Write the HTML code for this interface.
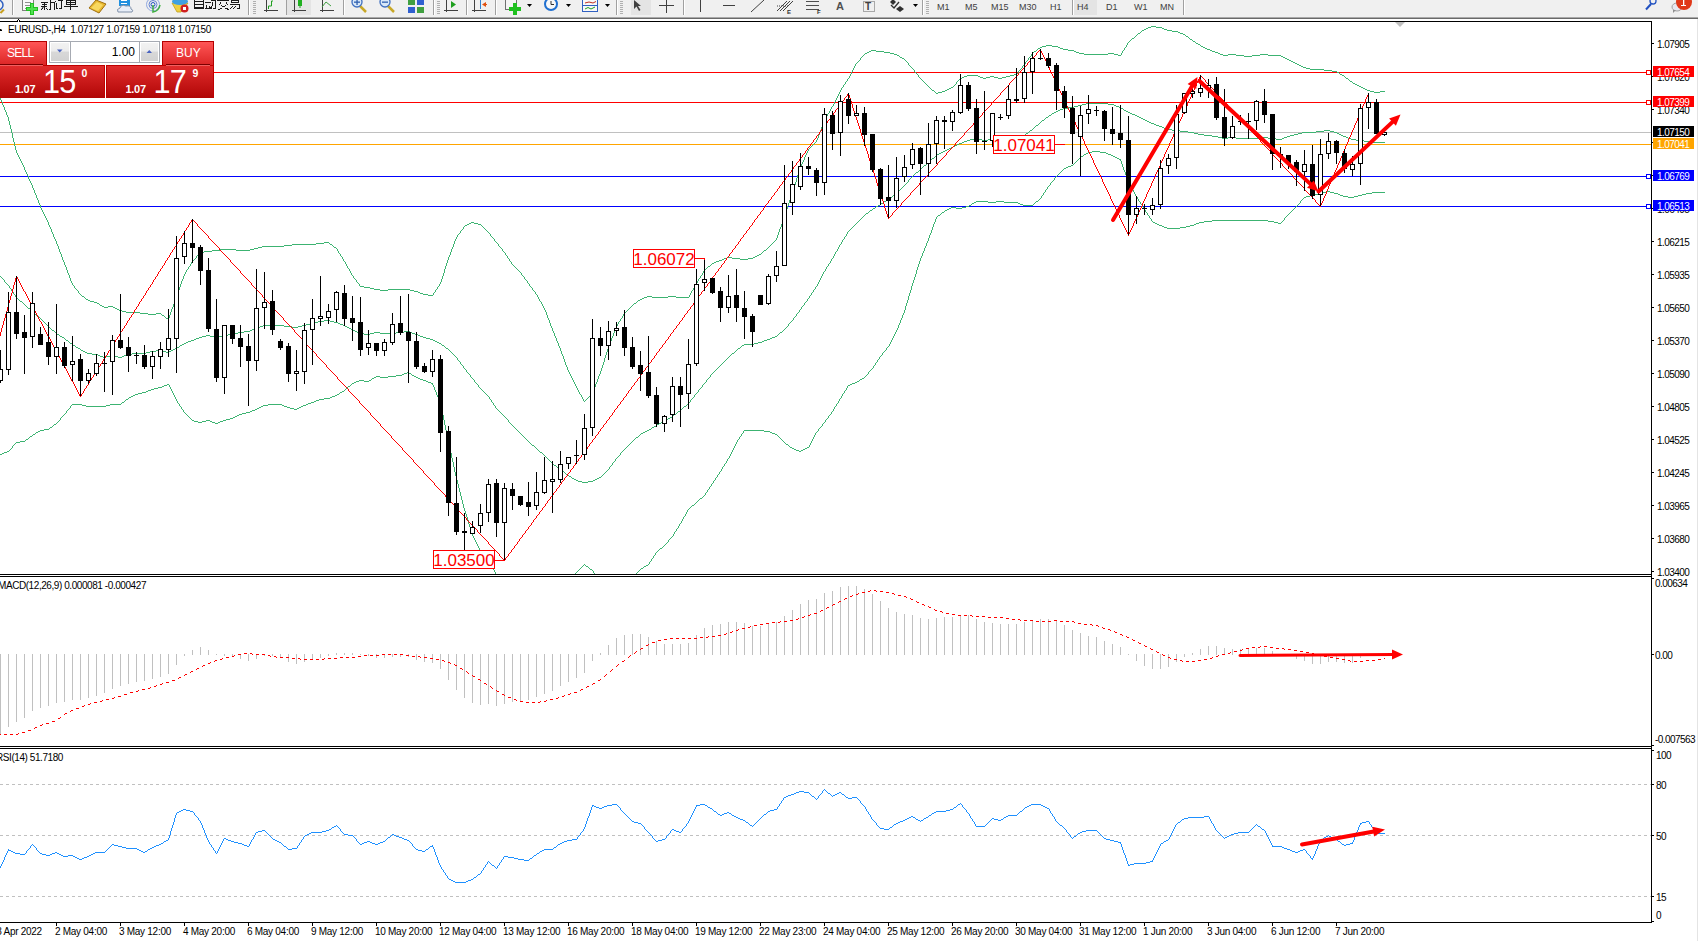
<!DOCTYPE html>
<html><head><meta charset="utf-8"><style>
html,body{margin:0;padding:0;background:#fff;}
body{width:1698px;height:941px;overflow:hidden;position:relative;font-family:"Liberation Sans",sans-serif;}
svg{position:absolute;left:0;top:0;display:block;}
</style></head><body>
<svg width="1698" height="941" viewBox="0 0 1698 941">
<rect x="0" y="0" width="1698" height="941" fill="#ffffff"/>
<rect x="0" y="0" width="1698" height="17" fill="#f0f0f0"/>
<rect x="0" y="17" width="1698" height="1" fill="#a9a9a9"/>
<rect x="0" y="18" width="1698" height="1" fill="#696969"/>
<rect x="1697" y="19" width="1" height="922" fill="#e4e4e4"/>
<defs><clipPath id="cm"><rect x="0" y="22" width="1651" height="552"/></clipPath><clipPath id="cd"><rect x="0" y="577" width="1651" height="169"/></clipPath><clipPath id="cr"><rect x="0" y="749" width="1651" height="173"/></clipPath></defs>
<g clip-path="url(#cm)"><rect x="0" y="72" width="1651" height="1" fill="#ff0000"/><rect x="0" y="102" width="1651" height="1" fill="#ff0000"/><rect x="0" y="132" width="1651" height="1" fill="#c0c0c0"/><rect x="0" y="144" width="1651" height="1" fill="#ffa500"/><rect x="0" y="176" width="1651" height="1" fill="#0000ff"/><rect x="0" y="206" width="1651" height="1" fill="#0000ff"/><path fill="#3cb371" shape-rendering="crispEdges" d="M0 98h1v1h-1zM836 98h1v1h-1zM0 99h1v1h-1zM836 99h1v1h-1zM1 100h1v1h-1zM835 100h1v1h-1zM1 101h1v1h-1zM835 101h1v1h-1zM2 102h1v1h-1zM834 102h1v1h-1zM2 103h1v1h-1zM834 103h1v1h-1zM2 104h1v1h-1zM833 104h1v1h-1zM3 105h1v1h-1zM833 105h1v1h-1zM3 106h1v1h-1zM832 106h1v1h-1zM4 107h1v1h-1zM831 107h1v1h-1zM4 108h1v1h-1zM831 108h1v1h-1zM4 109h1v1h-1zM830 109h1v1h-1zM5 110h1v1h-1zM830 110h1v1h-1zM5 111h1v1h-1zM829 111h1v1h-1zM6 112h1v1h-1zM829 112h1v1h-1zM6 113h1v1h-1zM828 113h1v1h-1zM6 114h1v1h-1zM827 114h1v1h-1zM7 115h1v1h-1zM827 115h1v1h-1zM7 116h1v1h-1zM826 116h1v1h-1zM8 117h1v1h-1zM826 117h1v1h-1zM8 118h1v1h-1zM825 118h1v1h-1zM8 119h1v1h-1zM825 119h1v1h-1zM8 120h1v1h-1zM824 120h1v1h-1zM9 121h1v1h-1zM824 121h1v1h-1zM9 122h1v1h-1zM823 122h1v1h-1zM9 123h1v1h-1zM823 123h1v1h-1zM9 124h1v1h-1zM822 124h1v1h-1zM10 125h1v1h-1zM822 125h1v1h-1zM10 126h1v1h-1zM822 126h1v1h-1zM10 127h1v1h-1zM821 127h1v1h-1zM10 128h1v1h-1zM821 128h1v1h-1zM11 129h1v1h-1zM821 129h1v1h-1zM11 130h1v1h-1zM820 130h1v1h-1zM11 131h1v1h-1zM820 131h1v1h-1zM11 132h1v1h-1zM819 132h1v1h-1zM12 133h1v1h-1zM819 133h1v1h-1zM12 134h1v1h-1zM819 134h1v1h-1zM12 135h1v1h-1zM818 135h1v1h-1zM12 136h1v1h-1zM818 136h1v1h-1zM12 137h1v1h-1zM818 137h1v1h-1zM13 138h1v1h-1zM817 138h1v1h-1zM13 139h1v1h-1zM817 139h1v1h-1zM13 140h1v1h-1zM816 140h1v1h-1zM13 141h1v1h-1zM816 141h1v1h-1zM14 142h1v1h-1zM815 142h1v1h-1zM14 143h1v1h-1zM814 143h1v1h-1zM14 144h1v1h-1zM813 144h1v1h-1zM14 145h1v1h-1zM812 145h1v1h-1zM15 146h1v1h-1zM811 146h1v1h-1zM15 147h1v1h-1zM810 147h1v1h-1zM15 148h1v1h-1zM809 148h1v1h-1zM15 149h1v1h-1zM808 149h1v1h-1zM16 150h1v1h-1zM808 150h1v1h-1zM16 151h1v1h-1zM807 151h1v1h-1zM16 152h1v1h-1zM807 152h1v1h-1zM17 153h1v1h-1zM806 153h1v1h-1zM17 154h1v1h-1zM806 154h1v1h-1zM18 155h1v1h-1zM805 155h1v1h-1zM18 156h1v1h-1zM805 156h1v1h-1zM19 157h1v1h-1zM804 157h1v1h-1zM19 158h1v1h-1zM804 158h1v1h-1zM20 159h1v1h-1zM804 159h1v1h-1zM20 160h1v1h-1zM803 160h1v1h-1zM21 161h1v1h-1zM803 161h1v1h-1zM21 162h1v1h-1zM802 162h1v1h-1zM22 163h1v1h-1zM802 163h1v1h-1zM22 164h1v1h-1zM801 164h1v1h-1zM23 165h1v1h-1zM801 165h1v1h-1zM23 166h1v1h-1zM800 166h1v1h-1zM24 167h1v1h-1zM800 167h1v1h-1zM24 168h1v1h-1zM800 168h1v1h-1zM24 169h1v1h-1zM799 169h1v1h-1zM25 170h1v1h-1zM799 170h1v1h-1zM25 171h1v1h-1zM799 171h1v1h-1zM26 172h1v1h-1zM798 172h1v1h-1zM26 173h1v1h-1zM798 173h1v1h-1zM27 174h1v1h-1zM798 174h1v1h-1zM27 175h1v1h-1zM797 175h1v1h-1zM28 176h1v1h-1zM797 176h1v1h-1zM28 177h1v1h-1zM797 177h1v1h-1zM28 178h1v1h-1zM796 178h1v1h-1zM29 179h1v1h-1zM796 179h1v1h-1zM29 180h1v1h-1zM796 180h1v1h-1zM30 181h1v1h-1zM796 181h1v1h-1zM30 182h1v1h-1zM795 182h1v1h-1zM31 183h1v1h-1zM795 183h1v1h-1zM31 184h1v1h-1zM795 184h1v1h-1zM32 185h1v1h-1zM794 185h1v1h-1zM32 186h1v1h-1zM794 186h1v1h-1zM32 187h1v1h-1zM794 187h1v1h-1zM33 188h1v1h-1zM793 188h1v1h-1zM33 189h1v1h-1zM793 189h1v1h-1zM34 190h1v1h-1zM793 190h1v1h-1zM34 191h1v1h-1zM792 191h1v1h-1zM34 192h1v1h-1zM792 192h1v1h-1zM35 193h1v1h-1zM792 193h1v1h-1zM35 194h1v1h-1zM791 194h1v1h-1zM36 195h1v1h-1zM791 195h1v1h-1zM36 196h1v1h-1zM791 196h1v1h-1zM36 197h1v1h-1zM790 197h1v1h-1zM37 198h1v1h-1zM790 198h1v1h-1zM37 199h1v1h-1zM790 199h1v1h-1zM38 200h1v1h-1zM789 200h1v1h-1zM38 201h1v1h-1zM789 201h1v1h-1zM38 202h1v1h-1zM789 202h1v1h-1zM39 203h1v1h-1zM788 203h1v1h-1zM39 204h1v1h-1zM788 204h1v1h-1zM40 205h1v1h-1zM788 205h1v1h-1zM40 206h1v1h-1zM787 206h1v1h-1zM40 207h1v1h-1zM787 207h1v1h-1zM41 208h1v1h-1zM787 208h1v1h-1zM41 209h1v1h-1zM786 209h1v1h-1zM42 210h1v1h-1zM786 210h1v1h-1zM42 211h1v1h-1zM786 211h1v1h-1zM43 212h1v1h-1zM785 212h1v1h-1zM43 213h1v1h-1zM785 213h1v1h-1zM44 214h1v1h-1zM785 214h1v1h-1zM44 215h1v1h-1zM784 215h1v1h-1zM45 216h1v1h-1zM784 216h1v1h-1zM45 217h1v1h-1zM784 217h1v1h-1zM46 218h1v1h-1zM783 218h1v1h-1zM46 219h1v1h-1zM783 219h1v1h-1zM47 220h1v1h-1zM783 220h1v1h-1zM47 221h1v1h-1zM782 221h1v1h-1zM48 222h1v1h-1zM471 222h3v1h-3zM782 222h1v1h-1zM48 223h1v1h-1zM469 223h2v1h-2zM474 223h4v1h-4zM782 223h1v1h-1zM48 224h1v1h-1zM467 224h2v1h-2zM478 224h3v1h-3zM781 224h1v1h-1zM49 225h1v1h-1zM465 225h2v1h-2zM481 225h1v1h-1zM781 225h1v1h-1zM49 226h1v1h-1zM464 226h1v1h-1zM482 226h1v1h-1zM781 226h1v1h-1zM50 227h1v1h-1zM463 227h1v1h-1zM483 227h1v1h-1zM780 227h1v1h-1zM50 228h1v1h-1zM463 228h1v1h-1zM484 228h1v1h-1zM780 228h1v1h-1zM51 229h1v1h-1zM462 229h1v1h-1zM485 229h1v1h-1zM779 229h1v1h-1zM51 230h1v1h-1zM461 230h1v1h-1zM486 230h1v1h-1zM779 230h1v1h-1zM51 231h1v1h-1zM460 231h1v1h-1zM487 231h1v1h-1zM779 231h1v1h-1zM52 232h1v1h-1zM460 232h1v1h-1zM488 232h1v1h-1zM778 232h1v1h-1zM52 233h1v1h-1zM459 233h1v1h-1zM489 233h1v1h-1zM778 233h1v1h-1zM53 234h1v1h-1zM458 234h1v1h-1zM490 234h1v1h-1zM778 234h1v1h-1zM53 235h1v1h-1zM457 235h1v1h-1zM490 235h1v1h-1zM777 235h1v1h-1zM53 236h1v1h-1zM457 236h1v1h-1zM491 236h1v1h-1zM777 236h1v1h-1zM54 237h1v1h-1zM456 237h1v1h-1zM492 237h1v1h-1zM777 237h1v1h-1zM54 238h1v1h-1zM456 238h1v1h-1zM493 238h1v1h-1zM776 238h1v1h-1zM55 239h1v1h-1zM455 239h1v1h-1zM494 239h1v1h-1zM776 239h1v1h-1zM55 240h1v1h-1zM455 240h1v1h-1zM494 240h1v1h-1zM775 240h1v1h-1zM56 241h1v1h-1zM454 241h1v1h-1zM495 241h1v1h-1zM774 241h1v1h-1zM56 242h1v1h-1zM324 242h5v1h-5zM454 242h1v1h-1zM496 242h1v1h-1zM773 242h1v1h-1zM56 243h1v1h-1zM316 243h8v1h-8zM329 243h1v1h-1zM454 243h1v1h-1zM497 243h1v1h-1zM772 243h1v1h-1zM57 244h1v1h-1zM292 244h24v1h-24zM330 244h2v1h-2zM453 244h1v1h-1zM498 244h1v1h-1zM771 244h1v1h-1zM57 245h1v1h-1zM284 245h8v1h-8zM332 245h1v1h-1zM453 245h1v1h-1zM498 245h1v1h-1zM770 245h1v1h-1zM58 246h1v1h-1zM262 246h22v1h-22zM333 246h1v1h-1zM453 246h1v1h-1zM499 246h1v1h-1zM769 246h1v1h-1zM58 247h1v1h-1zM258 247h4v1h-4zM334 247h2v1h-2zM452 247h1v1h-1zM500 247h1v1h-1zM768 247h1v1h-1zM58 248h1v1h-1zM254 248h4v1h-4zM336 248h1v1h-1zM452 248h1v1h-1zM501 248h1v1h-1zM767 248h1v1h-1zM59 249h1v1h-1zM220 249h16v1h-16zM250 249h4v1h-4zM337 249h1v1h-1zM451 249h1v1h-1zM502 249h1v1h-1zM766 249h1v1h-1zM59 250h1v1h-1zM212 250h8v1h-8zM236 250h14v1h-14zM337 250h1v1h-1zM451 250h1v1h-1zM502 250h1v1h-1zM764 250h2v1h-2zM59 251h1v1h-1zM204 251h8v1h-8zM338 251h1v1h-1zM451 251h1v1h-1zM503 251h1v1h-1zM763 251h1v1h-1zM60 252h1v1h-1zM200 252h4v1h-4zM338 252h1v1h-1zM450 252h1v1h-1zM504 252h1v1h-1zM762 252h1v1h-1zM60 253h1v1h-1zM199 253h1v1h-1zM339 253h1v1h-1zM450 253h1v1h-1zM505 253h1v1h-1zM761 253h1v1h-1zM61 254h1v1h-1zM198 254h1v1h-1zM340 254h1v1h-1zM450 254h1v1h-1zM505 254h1v1h-1zM759 254h2v1h-2zM61 255h1v1h-1zM197 255h1v1h-1zM340 255h1v1h-1zM449 255h1v1h-1zM506 255h1v1h-1zM757 255h2v1h-2zM61 256h1v1h-1zM196 256h1v1h-1zM341 256h1v1h-1zM449 256h1v1h-1zM507 256h1v1h-1zM755 256h2v1h-2zM62 257h1v1h-1zM196 257h1v1h-1zM342 257h1v1h-1zM448 257h1v1h-1zM507 257h1v1h-1zM727 257h5v1h-5zM753 257h2v1h-2zM62 258h1v1h-1zM195 258h1v1h-1zM342 258h1v1h-1zM448 258h1v1h-1zM508 258h1v1h-1zM724 258h3v1h-3zM732 258h8v1h-8zM748 258h5v1h-5zM62 259h1v1h-1zM194 259h1v1h-1zM343 259h1v1h-1zM448 259h1v1h-1zM509 259h1v1h-1zM722 259h2v1h-2zM740 259h8v1h-8zM63 260h1v1h-1zM193 260h1v1h-1zM343 260h1v1h-1zM447 260h1v1h-1zM509 260h1v1h-1zM719 260h3v1h-3zM63 261h1v1h-1zM192 261h1v1h-1zM344 261h1v1h-1zM447 261h1v1h-1zM510 261h1v1h-1zM716 261h3v1h-3zM64 262h1v1h-1zM191 262h1v1h-1zM345 262h1v1h-1zM447 262h1v1h-1zM511 262h1v1h-1zM714 262h2v1h-2zM64 263h1v1h-1zM191 263h1v1h-1zM345 263h1v1h-1zM446 263h1v1h-1zM511 263h1v1h-1zM712 263h2v1h-2zM64 264h1v1h-1zM190 264h1v1h-1zM346 264h1v1h-1zM446 264h1v1h-1zM512 264h1v1h-1zM711 264h1v1h-1zM65 265h1v1h-1zM190 265h1v1h-1zM346 265h1v1h-1zM446 265h1v1h-1zM513 265h1v1h-1zM710 265h1v1h-1zM65 266h1v1h-1zM189 266h1v1h-1zM347 266h1v1h-1zM445 266h1v1h-1zM514 266h1v1h-1zM708 266h2v1h-2zM66 267h1v1h-1zM188 267h1v1h-1zM347 267h1v1h-1zM445 267h1v1h-1zM515 267h1v1h-1zM707 267h1v1h-1zM66 268h1v1h-1zM188 268h1v1h-1zM348 268h1v1h-1zM445 268h1v1h-1zM516 268h1v1h-1zM706 268h1v1h-1zM66 269h1v1h-1zM187 269h1v1h-1zM349 269h1v1h-1zM444 269h1v1h-1zM517 269h1v1h-1zM705 269h1v1h-1zM67 270h1v1h-1zM186 270h1v1h-1zM349 270h1v1h-1zM444 270h1v1h-1zM518 270h1v1h-1zM704 270h1v1h-1zM67 271h1v1h-1zM186 271h1v1h-1zM350 271h1v1h-1zM444 271h1v1h-1zM519 271h1v1h-1zM703 271h1v1h-1zM67 272h1v1h-1zM185 272h1v1h-1zM350 272h1v1h-1zM444 272h1v1h-1zM520 272h1v1h-1zM703 272h1v1h-1zM68 273h1v1h-1zM185 273h1v1h-1zM351 273h1v1h-1zM443 273h1v1h-1zM521 273h1v1h-1zM702 273h1v1h-1zM68 274h1v1h-1zM184 274h1v1h-1zM351 274h1v1h-1zM443 274h1v1h-1zM521 274h1v1h-1zM702 274h1v1h-1zM69 275h1v1h-1zM184 275h1v1h-1zM352 275h1v1h-1zM443 275h1v1h-1zM522 275h1v1h-1zM701 275h1v1h-1zM69 276h1v1h-1zM183 276h1v1h-1zM353 276h1v1h-1zM442 276h1v1h-1zM523 276h1v1h-1zM700 276h1v1h-1zM69 277h1v1h-1zM183 277h1v1h-1zM353 277h1v1h-1zM442 277h1v1h-1zM524 277h1v1h-1zM700 277h1v1h-1zM70 278h1v1h-1zM183 278h1v1h-1zM354 278h1v1h-1zM442 278h1v1h-1zM524 278h1v1h-1zM699 278h1v1h-1zM70 279h1v1h-1zM182 279h1v1h-1zM355 279h1v1h-1zM441 279h1v1h-1zM525 279h1v1h-1zM698 279h1v1h-1zM70 280h1v1h-1zM182 280h1v1h-1zM356 280h1v1h-1zM441 280h1v1h-1zM526 280h1v1h-1zM698 280h1v1h-1zM71 281h1v1h-1zM181 281h1v1h-1zM356 281h1v1h-1zM441 281h1v1h-1zM527 281h1v1h-1zM697 281h1v1h-1zM71 282h1v1h-1zM181 282h1v1h-1zM357 282h1v1h-1zM440 282h1v1h-1zM527 282h1v1h-1zM697 282h1v1h-1zM72 283h1v1h-1zM181 283h1v1h-1zM358 283h1v1h-1zM440 283h1v1h-1zM528 283h1v1h-1zM696 283h1v1h-1zM72 284h1v1h-1zM180 284h1v1h-1zM359 284h1v1h-1zM439 284h1v1h-1zM529 284h1v1h-1zM695 284h1v1h-1zM73 285h1v1h-1zM180 285h1v1h-1zM359 285h1v1h-1zM439 285h1v1h-1zM529 285h1v1h-1zM695 285h1v1h-1zM74 286h1v1h-1zM180 286h1v1h-1zM360 286h4v1h-4zM438 286h1v1h-1zM530 286h1v1h-1zM694 286h1v1h-1zM74 287h1v1h-1zM179 287h1v1h-1zM364 287h6v1h-6zM437 287h1v1h-1zM531 287h1v1h-1zM694 287h1v1h-1zM75 288h1v1h-1zM179 288h1v1h-1zM370 288h4v1h-4zM437 288h1v1h-1zM532 288h1v1h-1zM693 288h1v1h-1zM76 289h1v1h-1zM179 289h1v1h-1zM374 289h6v1h-6zM388 289h22v1h-22zM436 289h1v1h-1zM532 289h1v1h-1zM693 289h1v1h-1zM77 290h1v1h-1zM178 290h1v1h-1zM380 290h8v1h-8zM410 290h4v1h-4zM435 290h1v1h-1zM533 290h1v1h-1zM692 290h1v1h-1zM78 291h1v1h-1zM178 291h1v1h-1zM414 291h4v1h-4zM435 291h1v1h-1zM534 291h1v1h-1zM691 291h1v1h-1zM78 292h1v1h-1zM177 292h1v1h-1zM418 292h2v1h-2zM434 292h1v1h-1zM535 292h1v1h-1zM691 292h1v1h-1zM79 293h1v1h-1zM177 293h1v1h-1zM420 293h3v1h-3zM433 293h1v1h-1zM535 293h1v1h-1zM690 293h1v1h-1zM80 294h1v1h-1zM177 294h1v1h-1zM423 294h5v1h-5zM433 294h1v1h-1zM536 294h1v1h-1zM690 294h1v1h-1zM81 295h1v1h-1zM176 295h1v1h-1zM428 295h5v1h-5zM537 295h1v1h-1zM689 295h1v1h-1zM82 296h2v1h-2zM176 296h1v1h-1zM537 296h1v1h-1zM647 296h5v1h-5zM668 296h8v1h-8zM689 296h1v1h-1zM84 297h1v1h-1zM176 297h1v1h-1zM538 297h1v1h-1zM644 297h3v1h-3zM652 297h16v1h-16zM676 297h13v1h-13zM85 298h1v1h-1zM175 298h1v1h-1zM538 298h1v1h-1zM642 298h2v1h-2zM86 299h2v1h-2zM175 299h1v1h-1zM539 299h1v1h-1zM640 299h2v1h-2zM88 300h2v1h-2zM175 300h1v1h-1zM539 300h1v1h-1zM638 300h2v1h-2zM90 301h4v1h-4zM174 301h1v1h-1zM540 301h1v1h-1zM637 301h1v1h-1zM94 302h3v1h-3zM174 302h1v1h-1zM541 302h1v1h-1zM636 302h1v1h-1zM97 303h2v1h-2zM174 303h1v1h-1zM541 303h1v1h-1zM634 303h2v1h-2zM99 304h1v1h-1zM173 304h1v1h-1zM542 304h1v1h-1zM633 304h1v1h-1zM100 305h2v1h-2zM173 305h1v1h-1zM542 305h1v1h-1zM632 305h1v1h-1zM102 306h2v1h-2zM108 306h5v1h-5zM173 306h1v1h-1zM543 306h1v1h-1zM631 306h1v1h-1zM104 307h4v1h-4zM113 307h2v1h-2zM172 307h1v1h-1zM543 307h1v1h-1zM630 307h1v1h-1zM115 308h2v1h-2zM172 308h1v1h-1zM544 308h1v1h-1zM629 308h1v1h-1zM117 309h2v1h-2zM171 309h1v1h-1zM544 309h1v1h-1zM628 309h1v1h-1zM119 310h3v1h-3zM171 310h1v1h-1zM545 310h1v1h-1zM627 310h1v1h-1zM122 311h4v1h-4zM171 311h1v1h-1zM545 311h1v1h-1zM626 311h1v1h-1zM126 312h14v1h-14zM170 312h1v1h-1zM546 312h1v1h-1zM625 312h1v1h-1zM140 313h8v1h-8zM156 313h5v1h-5zM170 313h1v1h-1zM546 313h1v1h-1zM624 313h1v1h-1zM148 314h8v1h-8zM161 314h1v1h-1zM170 314h1v1h-1zM546 314h1v1h-1zM623 314h1v1h-1zM162 315h2v1h-2zM169 315h1v1h-1zM547 315h1v1h-1zM623 315h1v1h-1zM164 316h1v1h-1zM169 316h1v1h-1zM547 316h1v1h-1zM622 316h1v1h-1zM165 317h1v1h-1zM169 317h1v1h-1zM547 317h1v1h-1zM622 317h1v1h-1zM166 318h3v1h-3zM548 318h1v1h-1zM621 318h1v1h-1zM168 319h1v1h-1zM548 319h1v1h-1zM620 319h1v1h-1zM549 320h1v1h-1zM620 320h1v1h-1zM549 321h1v1h-1zM619 321h1v1h-1zM549 322h1v1h-1zM618 322h1v1h-1zM550 323h1v1h-1zM618 323h1v1h-1zM550 324h1v1h-1zM617 324h1v1h-1zM550 325h1v1h-1zM617 325h1v1h-1zM551 326h1v1h-1zM616 326h1v1h-1zM551 327h1v1h-1zM616 327h1v1h-1zM552 328h1v1h-1zM615 328h1v1h-1zM552 329h1v1h-1zM615 329h1v1h-1zM552 330h1v1h-1zM614 330h1v1h-1zM553 331h1v1h-1zM614 331h1v1h-1zM553 332h1v1h-1zM614 332h1v1h-1zM554 333h1v1h-1zM613 333h1v1h-1zM554 334h1v1h-1zM613 334h1v1h-1zM554 335h1v1h-1zM613 335h1v1h-1zM555 336h1v1h-1zM612 336h1v1h-1zM555 337h1v1h-1zM612 337h1v1h-1zM556 338h1v1h-1zM611 338h1v1h-1zM556 339h1v1h-1zM611 339h1v1h-1zM556 340h1v1h-1zM611 340h1v1h-1zM557 341h1v1h-1zM610 341h1v1h-1zM557 342h1v1h-1zM610 342h1v1h-1zM558 343h1v1h-1zM610 343h1v1h-1zM558 344h1v1h-1zM609 344h1v1h-1zM558 345h1v1h-1zM609 345h1v1h-1zM559 346h1v1h-1zM608 346h1v1h-1zM559 347h1v1h-1zM608 347h1v1h-1zM560 348h1v1h-1zM608 348h1v1h-1zM560 349h1v1h-1zM607 349h1v1h-1zM560 350h1v1h-1zM607 350h1v1h-1zM561 351h1v1h-1zM607 351h1v1h-1zM561 352h1v1h-1zM606 352h1v1h-1zM561 353h1v1h-1zM606 353h1v1h-1zM562 354h1v1h-1zM606 354h1v1h-1zM562 355h1v1h-1zM605 355h1v1h-1zM563 356h1v1h-1zM605 356h1v1h-1zM563 357h1v1h-1zM605 357h1v1h-1zM563 358h1v1h-1zM604 358h1v1h-1zM564 359h1v1h-1zM604 359h1v1h-1zM564 360h1v1h-1zM604 360h1v1h-1zM564 361h1v1h-1zM604 361h1v1h-1zM565 362h1v1h-1zM603 362h1v1h-1zM565 363h1v1h-1zM603 363h1v1h-1zM565 364h1v1h-1zM603 364h1v1h-1zM566 365h1v1h-1zM602 365h1v1h-1zM566 366h1v1h-1zM602 366h1v1h-1zM567 367h1v1h-1zM602 367h1v1h-1zM567 368h1v1h-1zM601 368h1v1h-1zM567 369h1v1h-1zM601 369h1v1h-1zM568 370h1v1h-1zM601 370h1v1h-1zM568 371h1v1h-1zM600 371h1v1h-1zM569 372h1v1h-1zM600 372h1v1h-1zM569 373h1v1h-1zM600 373h1v1h-1zM570 374h1v1h-1zM599 374h1v1h-1zM570 375h1v1h-1zM599 375h1v1h-1zM571 376h1v1h-1zM598 376h1v1h-1zM571 377h1v1h-1zM598 377h1v1h-1zM572 378h1v1h-1zM598 378h1v1h-1zM572 379h1v1h-1zM597 379h1v1h-1zM573 380h1v1h-1zM597 380h1v1h-1zM573 381h1v1h-1zM597 381h1v1h-1zM574 382h1v1h-1zM596 382h1v1h-1zM574 383h1v1h-1zM596 383h1v1h-1zM575 384h1v1h-1zM595 384h1v1h-1zM575 385h1v1h-1zM595 385h1v1h-1zM576 386h1v1h-1zM595 386h1v1h-1zM576 387h1v1h-1zM594 387h1v1h-1zM577 388h1v1h-1zM594 388h1v1h-1zM577 389h1v1h-1zM594 389h1v1h-1zM578 390h1v1h-1zM593 390h1v1h-1zM578 391h1v1h-1zM593 391h1v1h-1zM579 392h1v1h-1zM592 392h1v1h-1zM579 393h1v1h-1zM592 393h1v1h-1zM580 394h1v1h-1zM591 394h1v1h-1zM581 395h1v1h-1zM590 395h1v1h-1zM581 396h1v1h-1zM589 396h1v1h-1zM582 397h1v1h-1zM588 397h1v1h-1zM582 398h1v1h-1zM587 398h1v1h-1zM583 399h1v1h-1zM586 399h1v1h-1zM583 400h1v1h-1zM585 400h1v1h-1zM584 401h1v1h-1zM837 97h1v1h-1zM837 96h1v1h-1zM838 95h1v1h-1zM838 94h1v1h-1zM839 93h1v1h-1zM936 93h2v1h-2zM839 92h1v1h-1zM935 92h1v1h-1zM938 92h4v1h-4zM1374 92h6v1h-6zM840 91h1v1h-1zM934 91h1v1h-1zM942 91h3v1h-3zM1370 91h4v1h-4zM1380 91h5v1h-5zM840 90h1v1h-1zM932 90h2v1h-2zM945 90h2v1h-2zM1367 90h3v1h-3zM841 89h1v1h-1zM931 89h1v1h-1zM947 89h2v1h-2zM1365 89h2v1h-2zM841 88h1v1h-1zM930 88h1v1h-1zM949 88h2v1h-2zM1363 88h2v1h-2zM842 87h1v1h-1zM929 87h1v1h-1zM951 87h2v1h-2zM1361 87h2v1h-2zM843 86h1v1h-1zM928 86h1v1h-1zM953 86h1v1h-1zM1359 86h2v1h-2zM843 85h1v1h-1zM927 85h1v1h-1zM954 85h1v1h-1zM1357 85h2v1h-2zM844 84h1v1h-1zM926 84h1v1h-1zM955 84h1v1h-1zM1355 84h2v1h-2zM845 83h1v1h-1zM925 83h1v1h-1zM956 83h1v1h-1zM1353 83h2v1h-2zM845 82h1v1h-1zM924 82h1v1h-1zM956 82h1v1h-1zM1352 82h1v1h-1zM846 81h1v1h-1zM923 81h1v1h-1zM957 81h1v1h-1zM1350 81h2v1h-2zM847 80h1v1h-1zM922 80h1v1h-1zM958 80h1v1h-1zM1349 80h1v1h-1zM847 79h1v1h-1zM921 79h1v1h-1zM959 79h1v1h-1zM1348 79h1v1h-1zM848 78h1v1h-1zM920 78h1v1h-1zM960 78h2v1h-2zM983 78h3v1h-3zM998 78h4v1h-4zM1346 78h2v1h-2zM849 77h1v1h-1zM919 77h1v1h-1zM962 77h2v1h-2zM980 77h3v1h-3zM986 77h4v1h-4zM994 77h4v1h-4zM1002 77h4v1h-4zM1345 77h1v1h-1zM849 76h1v1h-1zM918 76h1v1h-1zM964 76h3v1h-3zM978 76h2v1h-2zM990 76h4v1h-4zM1006 76h4v1h-4zM1344 76h1v1h-1zM850 75h1v1h-1zM918 75h1v1h-1zM967 75h11v1h-11zM1010 75h4v1h-4zM1342 75h2v1h-2zM850 74h1v1h-1zM917 74h1v1h-1zM1014 74h3v1h-3zM1340 74h2v1h-2zM851 73h1v1h-1zM916 73h1v1h-1zM1017 73h1v1h-1zM1339 73h1v1h-1zM851 72h1v1h-1zM915 72h1v1h-1zM1018 72h1v1h-1zM1337 72h2v1h-2zM852 71h1v1h-1zM914 71h1v1h-1zM1018 71h1v1h-1zM1332 71h5v1h-5zM852 70h1v1h-1zM914 70h1v1h-1zM1019 70h1v1h-1zM1324 70h8v1h-8zM853 69h1v1h-1zM913 69h1v1h-1zM1020 69h1v1h-1zM1310 69h14v1h-14zM853 68h1v1h-1zM912 68h1v1h-1zM1021 68h1v1h-1zM1306 68h4v1h-4zM854 67h1v1h-1zM911 67h1v1h-1zM1022 67h1v1h-1zM1303 67h3v1h-3zM854 66h1v1h-1zM910 66h1v1h-1zM1022 66h1v1h-1zM1301 66h2v1h-2zM855 65h1v1h-1zM909 65h1v1h-1zM1023 65h1v1h-1zM1299 65h2v1h-2zM855 64h1v1h-1zM908 64h1v1h-1zM1024 64h1v1h-1zM1297 64h2v1h-2zM856 63h1v1h-1zM908 63h1v1h-1zM1025 63h1v1h-1zM1295 63h2v1h-2zM857 62h1v1h-1zM907 62h1v1h-1zM1025 62h1v1h-1zM1293 62h2v1h-2zM858 61h1v1h-1zM906 61h1v1h-1zM1026 61h1v1h-1zM1291 61h2v1h-2zM859 60h1v1h-1zM905 60h1v1h-1zM1027 60h1v1h-1zM1289 60h2v1h-2zM860 59h1v1h-1zM904 59h1v1h-1zM1028 59h1v1h-1zM1287 59h2v1h-2zM860 58h1v1h-1zM902 58h2v1h-2zM1028 58h1v1h-1zM1285 58h2v1h-2zM861 57h1v1h-1zM900 57h2v1h-2zM1029 57h1v1h-1zM1283 57h2v1h-2zM862 56h1v1h-1zM899 56h1v1h-1zM1030 56h1v1h-1zM1244 56h8v1h-8zM1281 56h2v1h-2zM863 55h1v1h-1zM897 55h2v1h-2zM1031 55h1v1h-1zM1118 55h3v1h-3zM1223 55h5v1h-5zM1236 55h8v1h-8zM1252 55h8v1h-8zM1268 55h13v1h-13zM864 54h1v1h-1zM894 54h3v1h-3zM1031 54h1v1h-1zM1084 54h24v1h-24zM1114 54h4v1h-4zM1121 54h1v1h-1zM1220 54h3v1h-3zM1228 54h8v1h-8zM1260 54h8v1h-8zM865 53h2v1h-2zM890 53h4v1h-4zM1032 53h1v1h-1zM1079 53h5v1h-5zM1108 53h6v1h-6zM1121 53h1v1h-1zM1218 53h2v1h-2zM867 52h2v1h-2zM884 52h6v1h-6zM1033 52h1v1h-1zM1076 52h3v1h-3zM1122 52h1v1h-1zM1215 52h3v1h-3zM869 51h2v1h-2zM876 51h8v1h-8zM1034 51h2v1h-2zM1074 51h2v1h-2zM1122 51h1v1h-1zM1212 51h3v1h-3zM871 50h5v1h-5zM1036 50h1v1h-1zM1068 50h6v1h-6zM1123 50h1v1h-1zM1210 50h2v1h-2zM1037 49h1v1h-1zM1063 49h5v1h-5zM1124 49h1v1h-1zM1207 49h3v1h-3zM1038 48h2v1h-2zM1060 48h3v1h-3zM1124 48h1v1h-1zM1205 48h2v1h-2zM1040 47h2v1h-2zM1058 47h2v1h-2zM1125 47h1v1h-1zM1203 47h2v1h-2zM1042 46h4v1h-4zM1052 46h6v1h-6zM1126 46h1v1h-1zM1201 46h2v1h-2zM1046 45h6v1h-6zM1126 45h1v1h-1zM1200 45h1v1h-1zM1127 44h1v1h-1zM1198 44h2v1h-2zM1127 43h1v1h-1zM1196 43h2v1h-2zM1128 42h1v1h-1zM1195 42h1v1h-1zM1129 41h1v1h-1zM1193 41h2v1h-2zM1130 40h1v1h-1zM1192 40h1v1h-1zM1131 39h1v1h-1zM1190 39h2v1h-2zM1132 38h2v1h-2zM1189 38h1v1h-1zM1134 37h1v1h-1zM1188 37h1v1h-1zM1135 36h1v1h-1zM1186 36h2v1h-2zM1136 35h1v1h-1zM1185 35h1v1h-1zM1137 34h1v1h-1zM1183 34h2v1h-2zM1138 33h2v1h-2zM1180 33h3v1h-3zM1140 32h1v1h-1zM1178 32h2v1h-2zM1141 31h1v1h-1zM1172 31h6v1h-6zM1142 30h2v1h-2zM1167 30h5v1h-5zM1144 29h2v1h-2zM1164 29h3v1h-3zM1146 28h2v1h-2zM1162 28h2v1h-2zM1148 27h3v1h-3zM1156 27h6v1h-6zM1151 26h5v1h-5z"/><path fill="#3cb371" shape-rendering="crispEdges" d="M0 276h1v1h-1zM821 276h1v1h-1zM1 277h1v1h-1zM821 277h1v1h-1zM2 278h1v1h-1zM820 278h1v1h-1zM3 279h1v1h-1zM820 279h1v1h-1zM4 280h1v1h-1zM819 280h1v1h-1zM4 281h1v1h-1zM819 281h1v1h-1zM5 282h1v1h-1zM818 282h1v1h-1zM6 283h1v1h-1zM818 283h1v1h-1zM7 284h1v1h-1zM817 284h1v1h-1zM8 285h1v1h-1zM817 285h1v1h-1zM9 286h1v1h-1zM816 286h1v1h-1zM9 287h1v1h-1zM815 287h1v1h-1zM10 288h1v1h-1zM815 288h1v1h-1zM11 289h1v1h-1zM814 289h1v1h-1zM11 290h1v1h-1zM813 290h1v1h-1zM12 291h1v1h-1zM813 291h1v1h-1zM13 292h1v1h-1zM812 292h1v1h-1zM13 293h1v1h-1zM811 293h1v1h-1zM14 294h1v1h-1zM811 294h1v1h-1zM15 295h1v1h-1zM810 295h1v1h-1zM15 296h1v1h-1zM809 296h1v1h-1zM16 297h1v1h-1zM809 297h1v1h-1zM17 298h1v1h-1zM808 298h1v1h-1zM18 299h1v1h-1zM807 299h1v1h-1zM19 300h1v1h-1zM807 300h1v1h-1zM20 301h2v1h-2zM806 301h1v1h-1zM22 302h1v1h-1zM805 302h1v1h-1zM23 303h1v1h-1zM804 303h1v1h-1zM24 304h1v1h-1zM804 304h1v1h-1zM25 305h1v1h-1zM803 305h1v1h-1zM26 306h1v1h-1zM802 306h1v1h-1zM27 307h1v1h-1zM801 307h1v1h-1zM28 308h2v1h-2zM801 308h1v1h-1zM30 309h1v1h-1zM800 309h1v1h-1zM31 310h1v1h-1zM799 310h1v1h-1zM32 311h1v1h-1zM799 311h1v1h-1zM33 312h1v1h-1zM798 312h1v1h-1zM34 313h1v1h-1zM797 313h1v1h-1zM35 314h1v1h-1zM796 314h1v1h-1zM36 315h2v1h-2zM796 315h1v1h-1zM38 316h1v1h-1zM795 316h1v1h-1zM39 317h1v1h-1zM794 317h1v1h-1zM40 318h1v1h-1zM793 318h1v1h-1zM41 319h1v1h-1zM793 319h1v1h-1zM42 320h1v1h-1zM324 320h6v1h-6zM792 320h1v1h-1zM43 321h1v1h-1zM318 321h6v1h-6zM330 321h4v1h-4zM791 321h1v1h-1zM44 322h1v1h-1zM314 322h4v1h-4zM334 322h4v1h-4zM790 322h1v1h-1zM45 323h1v1h-1zM310 323h4v1h-4zM338 323h2v1h-2zM789 323h1v1h-1zM46 324h1v1h-1zM306 324h4v1h-4zM340 324h3v1h-3zM788 324h1v1h-1zM47 325h1v1h-1zM263 325h21v1h-21zM302 325h4v1h-4zM343 325h2v1h-2zM788 325h1v1h-1zM48 326h1v1h-1zM260 326h3v1h-3zM284 326h8v1h-8zM298 326h4v1h-4zM345 326h2v1h-2zM787 326h1v1h-1zM49 327h1v1h-1zM258 327h2v1h-2zM292 327h6v1h-6zM347 327h2v1h-2zM786 327h1v1h-1zM50 328h1v1h-1zM255 328h3v1h-3zM349 328h2v1h-2zM785 328h1v1h-1zM51 329h1v1h-1zM252 329h3v1h-3zM351 329h2v1h-2zM784 329h1v1h-1zM52 330h2v1h-2zM250 330h2v1h-2zM353 330h2v1h-2zM783 330h1v1h-1zM54 331h1v1h-1zM244 331h6v1h-6zM355 331h2v1h-2zM404 331h6v1h-6zM782 331h1v1h-1zM55 332h1v1h-1zM238 332h6v1h-6zM357 332h2v1h-2zM374 332h6v1h-6zM396 332h8v1h-8zM410 332h2v1h-2zM780 332h2v1h-2zM56 333h1v1h-1zM234 333h4v1h-4zM359 333h5v1h-5zM370 333h4v1h-4zM380 333h16v1h-16zM412 333h3v1h-3zM779 333h1v1h-1zM57 334h2v1h-2zM228 334h6v1h-6zM364 334h6v1h-6zM415 334h3v1h-3zM778 334h1v1h-1zM59 335h1v1h-1zM206 335h4v1h-4zM222 335h6v1h-6zM418 335h2v1h-2zM777 335h1v1h-1zM60 336h2v1h-2zM202 336h4v1h-4zM210 336h4v1h-4zM218 336h4v1h-4zM420 336h3v1h-3zM775 336h2v1h-2zM62 337h2v1h-2zM199 337h3v1h-3zM214 337h4v1h-4zM423 337h3v1h-3zM772 337h3v1h-3zM64 338h1v1h-1zM196 338h3v1h-3zM426 338h4v1h-4zM770 338h2v1h-2zM65 339h1v1h-1zM194 339h2v1h-2zM430 339h3v1h-3zM767 339h3v1h-3zM66 340h2v1h-2zM191 340h3v1h-3zM433 340h2v1h-2zM764 340h3v1h-3zM68 341h1v1h-1zM188 341h3v1h-3zM435 341h2v1h-2zM762 341h2v1h-2zM69 342h1v1h-1zM186 342h2v1h-2zM437 342h2v1h-2zM758 342h4v1h-4zM70 343h2v1h-2zM184 343h2v1h-2zM439 343h2v1h-2zM754 343h4v1h-4zM72 344h1v1h-1zM182 344h2v1h-2zM441 344h1v1h-1zM744 344h10v1h-10zM73 345h2v1h-2zM180 345h2v1h-2zM442 345h2v1h-2zM742 345h2v1h-2zM75 346h1v1h-1zM179 346h1v1h-1zM444 346h1v1h-1zM741 346h1v1h-1zM76 347h2v1h-2zM177 347h2v1h-2zM445 347h1v1h-1zM740 347h1v1h-1zM78 348h2v1h-2zM175 348h2v1h-2zM446 348h2v1h-2zM738 348h2v1h-2zM80 349h1v1h-1zM173 349h2v1h-2zM448 349h1v1h-1zM737 349h1v1h-1zM81 350h2v1h-2zM156 350h6v1h-6zM171 350h2v1h-2zM449 350h1v1h-1zM736 350h1v1h-1zM83 351h2v1h-2zM150 351h6v1h-6zM162 351h4v1h-4zM169 351h2v1h-2zM450 351h1v1h-1zM735 351h1v1h-1zM85 352h2v1h-2zM146 352h4v1h-4zM166 352h3v1h-3zM451 352h1v1h-1zM734 352h1v1h-1zM87 353h5v1h-5zM132 353h14v1h-14zM452 353h1v1h-1zM732 353h2v1h-2zM92 354h6v1h-6zM127 354h5v1h-5zM453 354h1v1h-1zM731 354h1v1h-1zM98 355h2v1h-2zM110 355h4v1h-4zM124 355h3v1h-3zM454 355h1v1h-1zM730 355h1v1h-1zM100 356h3v1h-3zM106 356h4v1h-4zM114 356h4v1h-4zM122 356h2v1h-2zM455 356h1v1h-1zM729 356h1v1h-1zM103 357h3v1h-3zM118 357h4v1h-4zM456 357h1v1h-1zM728 357h1v1h-1zM457 358h1v1h-1zM727 358h1v1h-1zM457 359h1v1h-1zM726 359h1v1h-1zM458 360h1v1h-1zM725 360h1v1h-1zM459 361h1v1h-1zM724 361h1v1h-1zM460 362h1v1h-1zM723 362h1v1h-1zM460 363h1v1h-1zM722 363h1v1h-1zM461 364h1v1h-1zM721 364h1v1h-1zM462 365h1v1h-1zM720 365h1v1h-1zM463 366h1v1h-1zM719 366h1v1h-1zM463 367h1v1h-1zM718 367h1v1h-1zM464 368h1v1h-1zM717 368h1v1h-1zM465 369h1v1h-1zM716 369h1v1h-1zM466 370h1v1h-1zM715 370h1v1h-1zM466 371h1v1h-1zM714 371h1v1h-1zM467 372h1v1h-1zM713 372h1v1h-1zM468 373h1v1h-1zM712 373h1v1h-1zM469 374h1v1h-1zM711 374h1v1h-1zM470 375h1v1h-1zM710 375h1v1h-1zM470 376h1v1h-1zM710 376h1v1h-1zM471 377h1v1h-1zM709 377h1v1h-1zM472 378h1v1h-1zM708 378h1v1h-1zM473 379h1v1h-1zM707 379h1v1h-1zM474 380h1v1h-1zM706 380h1v1h-1zM474 381h1v1h-1zM706 381h1v1h-1zM475 382h1v1h-1zM705 382h1v1h-1zM476 383h1v1h-1zM704 383h1v1h-1zM477 384h1v1h-1zM703 384h1v1h-1zM478 385h1v1h-1zM702 385h1v1h-1zM478 386h1v1h-1zM702 386h1v1h-1zM479 387h1v1h-1zM701 387h1v1h-1zM480 388h1v1h-1zM700 388h1v1h-1zM481 389h1v1h-1zM699 389h1v1h-1zM482 390h1v1h-1zM698 390h1v1h-1zM483 391h1v1h-1zM698 391h1v1h-1zM484 392h1v1h-1zM697 392h1v1h-1zM485 393h1v1h-1zM696 393h1v1h-1zM486 394h1v1h-1zM695 394h1v1h-1zM487 395h1v1h-1zM694 395h1v1h-1zM488 396h1v1h-1zM694 396h1v1h-1zM489 397h1v1h-1zM693 397h1v1h-1zM489 398h1v1h-1zM692 398h1v1h-1zM490 399h1v1h-1zM691 399h1v1h-1zM491 400h1v1h-1zM690 400h1v1h-1zM491 401h1v1h-1zM690 401h1v1h-1zM492 402h1v1h-1zM689 402h1v1h-1zM493 403h1v1h-1zM688 403h1v1h-1zM493 404h1v1h-1zM687 404h1v1h-1zM494 405h1v1h-1zM686 405h1v1h-1zM495 406h1v1h-1zM684 406h2v1h-2zM495 407h1v1h-1zM683 407h1v1h-1zM496 408h1v1h-1zM682 408h1v1h-1zM497 409h1v1h-1zM681 409h1v1h-1zM498 410h1v1h-1zM680 410h1v1h-1zM499 411h1v1h-1zM678 411h2v1h-2zM500 412h1v1h-1zM677 412h1v1h-1zM501 413h1v1h-1zM676 413h1v1h-1zM502 414h1v1h-1zM674 414h2v1h-2zM503 415h1v1h-1zM673 415h1v1h-1zM504 416h1v1h-1zM672 416h1v1h-1zM505 417h1v1h-1zM670 417h2v1h-2zM506 418h1v1h-1zM668 418h2v1h-2zM507 419h1v1h-1zM667 419h1v1h-1zM508 420h1v1h-1zM665 420h2v1h-2zM508 421h1v1h-1zM663 421h2v1h-2zM509 422h1v1h-1zM661 422h2v1h-2zM510 423h1v1h-1zM659 423h2v1h-2zM511 424h1v1h-1zM657 424h2v1h-2zM512 425h1v1h-1zM656 425h1v1h-1zM513 426h1v1h-1zM654 426h2v1h-2zM514 427h1v1h-1zM652 427h2v1h-2zM515 428h1v1h-1zM651 428h1v1h-1zM516 429h1v1h-1zM649 429h2v1h-2zM517 430h1v1h-1zM647 430h2v1h-2zM518 431h1v1h-1zM645 431h2v1h-2zM519 432h1v1h-1zM643 432h2v1h-2zM520 433h1v1h-1zM641 433h2v1h-2zM521 434h1v1h-1zM640 434h1v1h-1zM522 435h1v1h-1zM639 435h1v1h-1zM523 436h1v1h-1zM638 436h1v1h-1zM524 437h1v1h-1zM636 437h2v1h-2zM525 438h1v1h-1zM635 438h1v1h-1zM526 439h1v1h-1zM634 439h1v1h-1zM527 440h1v1h-1zM633 440h1v1h-1zM528 441h1v1h-1zM632 441h1v1h-1zM529 442h1v1h-1zM631 442h1v1h-1zM530 443h1v1h-1zM630 443h1v1h-1zM531 444h1v1h-1zM629 444h1v1h-1zM532 445h2v1h-2zM628 445h1v1h-1zM534 446h1v1h-1zM627 446h1v1h-1zM535 447h1v1h-1zM626 447h1v1h-1zM536 448h1v1h-1zM625 448h1v1h-1zM537 449h1v1h-1zM624 449h1v1h-1zM538 450h1v1h-1zM623 450h1v1h-1zM539 451h1v1h-1zM622 451h1v1h-1zM540 452h2v1h-2zM621 452h1v1h-1zM542 453h1v1h-1zM620 453h1v1h-1zM543 454h1v1h-1zM620 454h1v1h-1zM544 455h1v1h-1zM619 455h1v1h-1zM545 456h1v1h-1zM618 456h1v1h-1zM546 457h1v1h-1zM617 457h1v1h-1zM547 458h1v1h-1zM616 458h1v1h-1zM548 459h1v1h-1zM615 459h1v1h-1zM549 460h1v1h-1zM615 460h1v1h-1zM550 461h1v1h-1zM614 461h1v1h-1zM551 462h1v1h-1zM613 462h1v1h-1zM552 463h1v1h-1zM612 463h1v1h-1zM553 464h1v1h-1zM612 464h1v1h-1zM554 465h2v1h-2zM611 465h1v1h-1zM556 466h1v1h-1zM610 466h1v1h-1zM557 467h1v1h-1zM609 467h1v1h-1zM558 468h2v1h-2zM609 468h1v1h-1zM560 469h1v1h-1zM608 469h1v1h-1zM561 470h1v1h-1zM607 470h1v1h-1zM562 471h2v1h-2zM606 471h1v1h-1zM564 472h1v1h-1zM605 472h1v1h-1zM565 473h1v1h-1zM604 473h1v1h-1zM566 474h2v1h-2zM603 474h1v1h-1zM568 475h1v1h-1zM602 475h1v1h-1zM569 476h2v1h-2zM601 476h1v1h-1zM571 477h1v1h-1zM599 477h2v1h-2zM572 478h2v1h-2zM597 478h2v1h-2zM574 479h2v1h-2zM595 479h2v1h-2zM576 480h2v1h-2zM593 480h2v1h-2zM578 481h4v1h-4zM588 481h5v1h-5zM582 482h6v1h-6zM822 275h1v1h-1zM822 274h1v1h-1zM823 273h1v1h-1zM823 272h1v1h-1zM824 271h1v1h-1zM825 270h1v1h-1zM825 269h1v1h-1zM826 268h1v1h-1zM826 267h1v1h-1zM827 266h1v1h-1zM828 265h1v1h-1zM828 264h1v1h-1zM829 263h1v1h-1zM830 262h1v1h-1zM830 261h1v1h-1zM831 260h1v1h-1zM831 259h1v1h-1zM832 258h1v1h-1zM833 257h1v1h-1zM833 256h1v1h-1zM834 255h1v1h-1zM834 254h1v1h-1zM835 253h1v1h-1zM835 252h1v1h-1zM836 251h1v1h-1zM837 250h1v1h-1zM837 249h1v1h-1zM838 248h1v1h-1zM838 247h1v1h-1zM839 246h1v1h-1zM839 245h1v1h-1zM840 244h1v1h-1zM841 243h1v1h-1zM841 242h1v1h-1zM842 241h1v1h-1zM842 240h1v1h-1zM843 239h1v1h-1zM844 238h1v1h-1zM844 237h1v1h-1zM845 236h1v1h-1zM846 235h1v1h-1zM846 234h1v1h-1zM847 233h1v1h-1zM847 232h1v1h-1zM848 231h1v1h-1zM849 230h1v1h-1zM850 229h1v1h-1zM851 228h1v1h-1zM852 227h1v1h-1zM853 226h1v1h-1zM854 225h1v1h-1zM855 224h1v1h-1zM856 223h1v1h-1zM857 222h1v1h-1zM858 221h1v1h-1zM859 220h1v1h-1zM860 219h1v1h-1zM861 218h1v1h-1zM862 217h1v1h-1zM863 216h1v1h-1zM864 215h1v1h-1zM865 214h1v1h-1zM866 213h2v1h-2zM868 212h1v1h-1zM869 211h1v1h-1zM870 210h2v1h-2zM872 209h1v1h-1zM873 208h2v1h-2zM875 207h1v1h-1zM876 206h2v1h-2zM878 205h2v1h-2zM880 204h1v1h-1zM881 203h2v1h-2zM883 202h1v1h-1zM884 201h2v1h-2zM886 200h2v1h-2zM888 199h1v1h-1zM889 198h1v1h-1zM890 197h2v1h-2zM892 196h1v1h-1zM893 195h1v1h-1zM894 194h2v1h-2zM896 193h1v1h-1zM897 192h1v1h-1zM898 191h1v1h-1zM899 190h1v1h-1zM900 189h1v1h-1zM901 188h1v1h-1zM902 187h1v1h-1zM903 186h1v1h-1zM904 185h1v1h-1zM905 184h1v1h-1zM906 183h1v1h-1zM907 182h1v1h-1zM908 181h1v1h-1zM908 180h1v1h-1zM909 179h1v1h-1zM910 178h1v1h-1zM911 177h1v1h-1zM912 176h1v1h-1zM913 175h1v1h-1zM914 174h1v1h-1zM915 173h1v1h-1zM916 172h2v1h-2zM918 171h1v1h-1zM919 170h1v1h-1zM920 169h1v1h-1zM921 168h1v1h-1zM922 167h1v1h-1zM923 166h1v1h-1zM924 165h2v1h-2zM926 164h1v1h-1zM927 163h1v1h-1zM928 162h1v1h-1zM929 161h1v1h-1zM930 160h1v1h-1zM931 159h1v1h-1zM932 158h2v1h-2zM934 157h1v1h-1zM935 156h1v1h-1zM936 155h1v1h-1zM937 154h2v1h-2zM939 153h2v1h-2zM941 152h2v1h-2zM943 151h2v1h-2zM945 150h2v1h-2zM947 149h2v1h-2zM949 148h2v1h-2zM951 147h2v1h-2zM953 146h2v1h-2zM955 145h2v1h-2zM957 144h2v1h-2zM959 143h3v1h-3zM962 142h2v1h-2zM1372 142h13v1h-13zM964 141h3v1h-3zM1364 141h8v1h-8zM967 140h3v1h-3zM982 140h6v1h-6zM1356 140h8v1h-8zM970 139h4v1h-4zM978 139h4v1h-4zM988 139h24v1h-24zM1276 139h6v1h-6zM1351 139h5v1h-5zM974 138h4v1h-4zM1012 138h6v1h-6zM1222 138h6v1h-6zM1236 138h24v1h-24zM1268 138h8v1h-8zM1282 138h2v1h-2zM1348 138h3v1h-3zM1018 137h2v1h-2zM1218 137h4v1h-4zM1228 137h8v1h-8zM1260 137h8v1h-8zM1284 137h3v1h-3zM1346 137h2v1h-2zM1020 136h3v1h-3zM1212 136h6v1h-6zM1287 136h3v1h-3zM1343 136h3v1h-3zM1023 135h2v1h-2zM1204 135h8v1h-8zM1290 135h4v1h-4zM1341 135h2v1h-2zM1025 134h1v1h-1zM1198 134h6v1h-6zM1294 134h4v1h-4zM1339 134h2v1h-2zM1026 133h2v1h-2zM1194 133h4v1h-4zM1298 133h4v1h-4zM1337 133h2v1h-2zM1028 132h1v1h-1zM1188 132h6v1h-6zM1302 132h14v1h-14zM1334 132h3v1h-3zM1029 131h1v1h-1zM1180 131h8v1h-8zM1316 131h8v1h-8zM1330 131h4v1h-4zM1030 130h2v1h-2zM1172 130h8v1h-8zM1324 130h6v1h-6zM1032 129h1v1h-1zM1167 129h5v1h-5zM1033 128h1v1h-1zM1164 128h3v1h-3zM1034 127h1v1h-1zM1162 127h2v1h-2zM1035 126h1v1h-1zM1159 126h3v1h-3zM1036 125h2v1h-2zM1156 125h3v1h-3zM1038 124h1v1h-1zM1154 124h2v1h-2zM1039 123h1v1h-1zM1151 123h3v1h-3zM1040 122h1v1h-1zM1149 122h2v1h-2zM1041 121h1v1h-1zM1147 121h2v1h-2zM1042 120h2v1h-2zM1145 120h2v1h-2zM1044 119h1v1h-1zM1143 119h2v1h-2zM1045 118h1v1h-1zM1141 118h2v1h-2zM1046 117h2v1h-2zM1139 117h2v1h-2zM1048 116h1v1h-1zM1137 116h2v1h-2zM1049 115h2v1h-2zM1135 115h2v1h-2zM1051 114h1v1h-1zM1132 114h3v1h-3zM1052 113h2v1h-2zM1130 113h2v1h-2zM1054 112h2v1h-2zM1128 112h2v1h-2zM1056 111h2v1h-2zM1126 111h2v1h-2zM1058 110h2v1h-2zM1124 110h2v1h-2zM1060 109h3v1h-3zM1123 109h1v1h-1zM1063 108h5v1h-5zM1121 108h2v1h-2zM1068 107h6v1h-6zM1119 107h2v1h-2zM1074 106h4v1h-4zM1116 106h3v1h-3zM1078 105h4v1h-4zM1114 105h2v1h-2zM1082 104h4v1h-4zM1108 104h6v1h-6zM1086 103h22v1h-22z"/><path fill="#3cb371" shape-rendering="crispEdges" d="M0 454h2v1h-2zM451 454h1v1h-1zM730 454h1v1h-1zM2 453h2v1h-2zM451 453h1v1h-1zM731 453h1v1h-1zM4 452h3v1h-3zM450 452h1v1h-1zM731 452h1v1h-1zM7 451h2v1h-2zM450 451h1v1h-1zM732 451h1v1h-1zM799 451h2v1h-2zM9 450h1v1h-1zM450 450h1v1h-1zM732 450h1v1h-1zM796 450h3v1h-3zM801 450h2v1h-2zM10 449h1v1h-1zM450 449h1v1h-1zM733 449h1v1h-1zM794 449h2v1h-2zM803 449h2v1h-2zM11 448h1v1h-1zM450 448h1v1h-1zM733 448h1v1h-1zM792 448h2v1h-2zM805 448h2v1h-2zM12 447h1v1h-1zM449 447h1v1h-1zM734 447h1v1h-1zM790 447h2v1h-2zM807 447h2v1h-2zM12 446h1v1h-1zM449 446h1v1h-1zM734 446h1v1h-1zM789 446h1v1h-1zM809 446h1v1h-1zM13 445h1v1h-1zM449 445h1v1h-1zM735 445h1v1h-1zM788 445h1v1h-1zM809 445h1v1h-1zM14 444h1v1h-1zM449 444h1v1h-1zM735 444h1v1h-1zM786 444h2v1h-2zM810 444h1v1h-1zM15 443h1v1h-1zM448 443h1v1h-1zM736 443h1v1h-1zM785 443h1v1h-1zM810 443h1v1h-1zM16 442h4v1h-4zM448 442h1v1h-1zM736 442h1v1h-1zM784 442h1v1h-1zM811 442h1v1h-1zM20 441h5v1h-5zM448 441h1v1h-1zM737 441h1v1h-1zM783 441h1v1h-1zM811 441h1v1h-1zM25 440h1v1h-1zM448 440h1v1h-1zM737 440h1v1h-1zM782 440h1v1h-1zM812 440h1v1h-1zM26 439h2v1h-2zM448 439h1v1h-1zM738 439h1v1h-1zM781 439h1v1h-1zM812 439h1v1h-1zM28 438h1v1h-1zM447 438h1v1h-1zM739 438h1v1h-1zM780 438h1v1h-1zM813 438h1v1h-1zM29 437h1v1h-1zM447 437h1v1h-1zM739 437h1v1h-1zM779 437h1v1h-1zM813 437h1v1h-1zM30 436h2v1h-2zM447 436h1v1h-1zM740 436h1v1h-1zM778 436h1v1h-1zM814 436h1v1h-1zM32 435h1v1h-1zM447 435h1v1h-1zM741 435h1v1h-1zM777 435h1v1h-1zM814 435h1v1h-1zM33 434h2v1h-2zM447 434h1v1h-1zM741 434h1v1h-1zM775 434h2v1h-2zM815 434h1v1h-1zM35 433h1v1h-1zM446 433h1v1h-1zM742 433h1v1h-1zM772 433h3v1h-3zM815 433h1v1h-1zM36 432h2v1h-2zM446 432h1v1h-1zM743 432h1v1h-1zM770 432h2v1h-2zM816 432h1v1h-1zM38 431h2v1h-2zM446 431h1v1h-1zM743 431h1v1h-1zM764 431h6v1h-6zM817 431h1v1h-1zM40 430h4v1h-4zM446 430h1v1h-1zM744 430h20v1h-20zM818 430h1v1h-1zM44 429h5v1h-5zM445 429h1v1h-1zM818 429h1v1h-1zM49 428h1v1h-1zM445 428h1v1h-1zM819 428h1v1h-1zM50 427h2v1h-2zM445 427h1v1h-1zM820 427h1v1h-1zM52 426h1v1h-1zM445 426h1v1h-1zM821 426h1v1h-1zM53 425h1v1h-1zM445 425h1v1h-1zM822 425h1v1h-1zM54 424h2v1h-2zM444 424h1v1h-1zM822 424h1v1h-1zM56 423h1v1h-1zM215 423h3v1h-3zM444 423h1v1h-1zM823 423h1v1h-1zM57 422h1v1h-1zM198 422h4v1h-4zM212 422h3v1h-3zM218 422h2v1h-2zM444 422h1v1h-1zM824 422h1v1h-1zM58 421h1v1h-1zM194 421h4v1h-4zM202 421h4v1h-4zM210 421h2v1h-2zM220 421h3v1h-3zM444 421h1v1h-1zM825 421h1v1h-1zM59 420h1v1h-1zM192 420h2v1h-2zM206 420h4v1h-4zM223 420h3v1h-3zM444 420h1v1h-1zM825 420h1v1h-1zM60 419h1v1h-1zM191 419h1v1h-1zM226 419h4v1h-4zM443 419h1v1h-1zM826 419h1v1h-1zM60 418h1v1h-1zM190 418h1v1h-1zM230 418h3v1h-3zM443 418h1v1h-1zM827 418h1v1h-1zM61 417h1v1h-1zM189 417h1v1h-1zM233 417h2v1h-2zM443 417h1v1h-1zM828 417h1v1h-1zM62 416h1v1h-1zM188 416h1v1h-1zM235 416h2v1h-2zM443 416h1v1h-1zM828 416h1v1h-1zM63 415h1v1h-1zM187 415h1v1h-1zM237 415h2v1h-2zM443 415h1v1h-1zM829 415h1v1h-1zM64 414h1v1h-1zM186 414h1v1h-1zM239 414h3v1h-3zM442 414h1v1h-1zM830 414h1v1h-1zM65 413h1v1h-1zM185 413h1v1h-1zM242 413h4v1h-4zM442 413h1v1h-1zM831 413h1v1h-1zM66 412h1v1h-1zM184 412h1v1h-1zM246 412h4v1h-4zM442 412h1v1h-1zM831 412h1v1h-1zM66 411h1v1h-1zM183 411h1v1h-1zM250 411h2v1h-2zM442 411h1v1h-1zM832 411h1v1h-1zM67 410h1v1h-1zM183 410h1v1h-1zM252 410h3v1h-3zM441 410h1v1h-1zM833 410h1v1h-1zM68 409h1v1h-1zM182 409h1v1h-1zM255 409h2v1h-2zM294 409h3v1h-3zM441 409h1v1h-1zM833 409h1v1h-1zM69 408h1v1h-1zM181 408h1v1h-1zM257 408h2v1h-2zM290 408h4v1h-4zM297 408h2v1h-2zM441 408h1v1h-1zM834 408h1v1h-1zM70 407h1v1h-1zM181 407h1v1h-1zM259 407h2v1h-2zM287 407h3v1h-3zM299 407h2v1h-2zM441 407h1v1h-1zM834 407h1v1h-1zM70 406h1v1h-1zM86 406h20v1h-20zM180 406h1v1h-1zM261 406h2v1h-2zM284 406h3v1h-3zM301 406h2v1h-2zM441 406h1v1h-1zM835 406h1v1h-1zM71 405h1v1h-1zM82 405h4v1h-4zM106 405h4v1h-4zM179 405h1v1h-1zM263 405h5v1h-5zM282 405h2v1h-2zM303 405h3v1h-3zM440 405h1v1h-1zM836 405h1v1h-1zM72 404h10v1h-10zM110 404h11v1h-11zM179 404h1v1h-1zM268 404h14v1h-14zM306 404h2v1h-2zM440 404h1v1h-1zM836 404h1v1h-1zM121 403h1v1h-1zM178 403h1v1h-1zM308 403h3v1h-3zM440 403h1v1h-1zM837 403h1v1h-1zM122 402h2v1h-2zM177 402h1v1h-1zM311 402h3v1h-3zM440 402h1v1h-1zM838 402h1v1h-1zM124 401h1v1h-1zM177 401h1v1h-1zM314 401h2v1h-2zM439 401h1v1h-1zM838 401h1v1h-1zM125 400h1v1h-1zM176 400h1v1h-1zM316 400h3v1h-3zM439 400h1v1h-1zM839 400h1v1h-1zM126 399h2v1h-2zM176 399h1v1h-1zM319 399h5v1h-5zM438 399h1v1h-1zM839 399h1v1h-1zM128 398h1v1h-1zM175 398h1v1h-1zM324 398h6v1h-6zM438 398h1v1h-1zM840 398h1v1h-1zM129 397h2v1h-2zM175 397h1v1h-1zM330 397h2v1h-2zM438 397h1v1h-1zM841 397h1v1h-1zM131 396h2v1h-2zM174 396h1v1h-1zM332 396h3v1h-3zM437 396h1v1h-1zM841 396h1v1h-1zM133 395h2v1h-2zM174 395h1v1h-1zM335 395h2v1h-2zM437 395h1v1h-1zM842 395h1v1h-1zM135 394h3v1h-3zM173 394h1v1h-1zM337 394h2v1h-2zM436 394h1v1h-1zM842 394h1v1h-1zM138 393h4v1h-4zM173 393h1v1h-1zM339 393h1v1h-1zM436 393h1v1h-1zM843 393h1v1h-1zM142 392h4v1h-4zM172 392h1v1h-1zM340 392h2v1h-2zM436 392h1v1h-1zM844 392h1v1h-1zM146 391h2v1h-2zM172 391h1v1h-1zM342 391h2v1h-2zM435 391h1v1h-1zM844 391h1v1h-1zM148 390h3v1h-3zM171 390h1v1h-1zM344 390h1v1h-1zM435 390h1v1h-1zM845 390h1v1h-1zM151 389h3v1h-3zM171 389h1v1h-1zM345 389h1v1h-1zM434 389h1v1h-1zM846 389h1v1h-1zM154 388h4v1h-4zM170 388h1v1h-1zM346 388h1v1h-1zM434 388h1v1h-1zM846 388h1v1h-1zM158 387h4v1h-4zM170 387h1v1h-1zM347 387h1v1h-1zM434 387h1v1h-1zM847 387h1v1h-1zM162 386h2v1h-2zM169 386h1v1h-1zM348 386h2v1h-2zM433 386h1v1h-1zM847 386h1v1h-1zM164 385h3v1h-3zM169 385h1v1h-1zM350 385h1v1h-1zM433 385h1v1h-1zM848 385h2v1h-2zM167 384h2v1h-2zM351 384h1v1h-1zM432 384h1v1h-1zM850 384h2v1h-2zM352 383h2v1h-2zM431 383h2v1h-2zM852 383h3v1h-3zM354 382h2v1h-2zM428 382h3v1h-3zM855 382h2v1h-2zM356 381h3v1h-3zM364 381h5v1h-5zM426 381h2v1h-2zM857 381h2v1h-2zM359 380h5v1h-5zM369 380h2v1h-2zM423 380h3v1h-3zM859 380h1v1h-1zM371 379h1v1h-1zM420 379h3v1h-3zM860 379h2v1h-2zM372 378h2v1h-2zM418 378h2v1h-2zM862 378h2v1h-2zM374 377h2v1h-2zM380 377h8v1h-8zM416 377h2v1h-2zM864 377h1v1h-1zM376 376h4v1h-4zM388 376h8v1h-8zM414 376h2v1h-2zM865 376h1v1h-1zM396 375h6v1h-6zM412 375h2v1h-2zM866 375h1v1h-1zM402 374h2v1h-2zM411 374h1v1h-1zM867 374h1v1h-1zM404 373h3v1h-3zM409 373h2v1h-2zM868 373h1v1h-1zM407 372h2v1h-2zM868 372h1v1h-1zM451 455h1v1h-1zM730 455h1v1h-1zM451 456h1v1h-1zM729 456h1v1h-1zM451 457h1v1h-1zM729 457h1v1h-1zM452 458h1v1h-1zM728 458h1v1h-1zM452 459h1v1h-1zM727 459h1v1h-1zM452 460h1v1h-1zM727 460h1v1h-1zM452 461h1v1h-1zM726 461h1v1h-1zM453 462h1v1h-1zM726 462h1v1h-1zM453 463h1v1h-1zM725 463h1v1h-1zM453 464h1v1h-1zM724 464h1v1h-1zM453 465h1v1h-1zM724 465h1v1h-1zM453 466h1v1h-1zM723 466h1v1h-1zM454 467h1v1h-1zM722 467h1v1h-1zM454 468h1v1h-1zM722 468h1v1h-1zM454 469h1v1h-1zM721 469h1v1h-1zM454 470h1v1h-1zM721 470h1v1h-1zM454 471h1v1h-1zM720 471h1v1h-1zM455 472h1v1h-1zM719 472h1v1h-1zM455 473h1v1h-1zM719 473h1v1h-1zM455 474h1v1h-1zM718 474h1v1h-1zM455 475h1v1h-1zM717 475h1v1h-1zM456 476h1v1h-1zM717 476h1v1h-1zM456 477h1v1h-1zM716 477h1v1h-1zM456 478h1v1h-1zM715 478h1v1h-1zM456 479h1v1h-1zM715 479h1v1h-1zM457 480h1v1h-1zM714 480h1v1h-1zM457 481h1v1h-1zM713 481h1v1h-1zM457 482h1v1h-1zM713 482h1v1h-1zM457 483h1v1h-1zM712 483h1v1h-1zM458 484h1v1h-1zM711 484h1v1h-1zM458 485h1v1h-1zM711 485h1v1h-1zM458 486h1v1h-1zM710 486h1v1h-1zM458 487h1v1h-1zM709 487h1v1h-1zM459 488h1v1h-1zM709 488h1v1h-1zM459 489h1v1h-1zM708 489h1v1h-1zM459 490h1v1h-1zM707 490h1v1h-1zM459 491h1v1h-1zM707 491h1v1h-1zM460 492h1v1h-1zM706 492h1v1h-1zM460 493h1v1h-1zM705 493h1v1h-1zM460 494h1v1h-1zM705 494h1v1h-1zM460 495h1v1h-1zM704 495h1v1h-1zM461 496h1v1h-1zM703 496h1v1h-1zM461 497h1v1h-1zM702 497h1v1h-1zM461 498h1v1h-1zM700 498h2v1h-2zM461 499h1v1h-1zM699 499h1v1h-1zM462 500h1v1h-1zM698 500h1v1h-1zM462 501h1v1h-1zM697 501h1v1h-1zM462 502h1v1h-1zM696 502h1v1h-1zM462 503h1v1h-1zM695 503h1v1h-1zM463 504h1v1h-1zM694 504h1v1h-1zM463 505h1v1h-1zM692 505h2v1h-2zM463 506h1v1h-1zM691 506h1v1h-1zM463 507h1v1h-1zM690 507h1v1h-1zM464 508h1v1h-1zM689 508h1v1h-1zM464 509h1v1h-1zM688 509h1v1h-1zM464 510h1v1h-1zM687 510h1v1h-1zM465 511h1v1h-1zM687 511h1v1h-1zM465 512h1v1h-1zM686 512h1v1h-1zM465 513h1v1h-1zM686 513h1v1h-1zM466 514h1v1h-1zM685 514h1v1h-1zM466 515h1v1h-1zM685 515h1v1h-1zM466 516h1v1h-1zM684 516h1v1h-1zM467 517h1v1h-1zM683 517h1v1h-1zM467 518h1v1h-1zM683 518h1v1h-1zM467 519h1v1h-1zM682 519h1v1h-1zM468 520h1v1h-1zM682 520h1v1h-1zM468 521h1v1h-1zM681 521h1v1h-1zM468 522h1v1h-1zM681 522h1v1h-1zM468 523h1v1h-1zM680 523h1v1h-1zM469 524h1v1h-1zM679 524h1v1h-1zM469 525h1v1h-1zM679 525h1v1h-1zM469 526h1v1h-1zM678 526h1v1h-1zM470 527h1v1h-1zM678 527h1v1h-1zM470 528h1v1h-1zM677 528h1v1h-1zM470 529h1v1h-1zM676 529h1v1h-1zM471 530h1v1h-1zM676 530h1v1h-1zM471 531h1v1h-1zM675 531h1v1h-1zM471 532h1v1h-1zM674 532h1v1h-1zM472 533h1v1h-1zM674 533h1v1h-1zM472 534h1v1h-1zM673 534h1v1h-1zM472 535h1v1h-1zM673 535h1v1h-1zM473 536h1v1h-1zM672 536h1v1h-1zM473 537h1v1h-1zM671 537h1v1h-1zM474 538h1v1h-1zM670 538h1v1h-1zM474 539h1v1h-1zM669 539h1v1h-1zM475 540h1v1h-1zM668 540h1v1h-1zM475 541h1v1h-1zM668 541h1v1h-1zM476 542h1v1h-1zM667 542h1v1h-1zM476 543h1v1h-1zM666 543h1v1h-1zM477 544h1v1h-1zM665 544h1v1h-1zM477 545h1v1h-1zM664 545h1v1h-1zM478 546h1v1h-1zM663 546h1v1h-1zM478 547h1v1h-1zM662 547h1v1h-1zM479 548h1v1h-1zM660 548h2v1h-2zM479 549h1v1h-1zM659 549h1v1h-1zM480 550h1v1h-1zM658 550h1v1h-1zM480 551h1v1h-1zM657 551h1v1h-1zM481 552h1v1h-1zM656 552h1v1h-1zM482 553h1v1h-1zM655 553h1v1h-1zM482 554h1v1h-1zM655 554h1v1h-1zM483 555h1v1h-1zM654 555h1v1h-1zM484 556h1v1h-1zM653 556h1v1h-1zM485 557h1v1h-1zM653 557h1v1h-1zM486 558h1v1h-1zM652 558h1v1h-1zM486 559h1v1h-1zM651 559h1v1h-1zM487 560h1v1h-1zM651 560h1v1h-1zM488 561h1v1h-1zM650 561h1v1h-1zM489 562h1v1h-1zM649 562h1v1h-1zM489 563h1v1h-1zM649 563h1v1h-1zM490 564h1v1h-1zM584 564h1v1h-1zM648 564h1v1h-1zM490 565h1v1h-1zM583 565h1v1h-1zM585 565h1v1h-1zM646 565h2v1h-2zM491 566h1v1h-1zM582 566h1v1h-1zM586 566h2v1h-2zM644 566h2v1h-2zM492 567h1v1h-1zM581 567h1v1h-1zM588 567h1v1h-1zM643 567h1v1h-1zM492 568h1v1h-1zM580 568h1v1h-1zM589 568h1v1h-1zM641 568h2v1h-2zM493 569h1v1h-1zM579 569h1v1h-1zM590 569h2v1h-2zM640 569h1v1h-1zM494 570h1v1h-1zM578 570h1v1h-1zM592 570h1v1h-1zM639 570h1v1h-1zM494 571h1v1h-1zM577 571h1v1h-1zM593 571h1v1h-1zM638 571h1v1h-1zM495 572h1v1h-1zM576 572h1v1h-1zM593 572h1v1h-1zM637 572h1v1h-1zM495 573h1v1h-1zM575 573h1v1h-1zM594 573h1v1h-1zM636 573h1v1h-1zM496 574h1v1h-1zM574 574h1v1h-1zM595 574h1v1h-1zM635 574h1v1h-1zM497 575h1v1h-1zM573 575h1v1h-1zM595 575h1v1h-1zM634 575h1v1h-1zM498 576h1v1h-1zM572 576h1v1h-1zM596 576h1v1h-1zM633 576h1v1h-1zM499 577h1v1h-1zM571 577h1v1h-1zM597 577h1v1h-1zM632 577h1v1h-1zM500 578h2v1h-2zM570 578h1v1h-1zM597 578h1v1h-1zM631 578h1v1h-1zM502 579h1v1h-1zM569 579h1v1h-1zM598 579h1v1h-1zM630 579h1v1h-1zM503 580h1v1h-1zM568 580h1v1h-1zM599 580h1v1h-1zM629 580h1v1h-1zM504 581h1v1h-1zM567 581h1v1h-1zM599 581h1v1h-1zM628 581h1v1h-1zM505 582h1v1h-1zM566 582h1v1h-1zM600 582h1v1h-1zM628 582h1v1h-1zM506 583h2v1h-2zM565 583h1v1h-1zM601 583h1v1h-1zM627 583h1v1h-1zM508 584h1v1h-1zM564 584h1v1h-1zM602 584h1v1h-1zM626 584h1v1h-1zM509 585h1v1h-1zM564 585h1v1h-1zM603 585h1v1h-1zM625 585h1v1h-1zM510 586h2v1h-2zM563 586h1v1h-1zM604 586h1v1h-1zM624 586h1v1h-1zM512 587h1v1h-1zM562 587h1v1h-1zM605 587h1v1h-1zM622 587h2v1h-2zM513 588h1v1h-1zM561 588h1v1h-1zM606 588h1v1h-1zM620 588h2v1h-2zM514 589h1v1h-1zM560 589h1v1h-1zM607 589h1v1h-1zM619 589h1v1h-1zM515 590h1v1h-1zM559 590h1v1h-1zM608 590h4v1h-4zM617 590h2v1h-2zM516 591h2v1h-2zM558 591h1v1h-1zM612 591h5v1h-5zM518 592h1v1h-1zM557 592h1v1h-1zM519 593h1v1h-1zM556 593h1v1h-1zM520 594h1v1h-1zM555 594h1v1h-1zM521 595h2v1h-2zM554 595h1v1h-1zM523 596h1v1h-1zM553 596h1v1h-1zM524 597h2v1h-2zM552 597h1v1h-1zM526 598h2v1h-2zM550 598h2v1h-2zM528 599h2v1h-2zM548 599h2v1h-2zM530 600h2v1h-2zM547 600h1v1h-1zM532 601h3v1h-3zM545 601h2v1h-2zM535 602h10v1h-10zM869 371h1v1h-1zM870 370h1v1h-1zM871 369h1v1h-1zM872 368h1v1h-1zM873 367h1v1h-1zM873 366h1v1h-1zM874 365h1v1h-1zM875 364h1v1h-1zM875 363h1v1h-1zM876 362h1v1h-1zM877 361h1v1h-1zM877 360h1v1h-1zM878 359h1v1h-1zM879 358h1v1h-1zM879 357h1v1h-1zM880 356h1v1h-1zM881 355h1v1h-1zM882 354h1v1h-1zM882 353h1v1h-1zM883 352h1v1h-1zM884 351h1v1h-1zM885 350h1v1h-1zM886 349h1v1h-1zM886 348h1v1h-1zM887 347h1v1h-1zM888 346h1v1h-1zM889 345h1v1h-1zM889 344h1v1h-1zM890 343h1v1h-1zM890 342h1v1h-1zM891 341h1v1h-1zM891 340h1v1h-1zM892 339h1v1h-1zM892 338h1v1h-1zM893 337h1v1h-1zM893 336h1v1h-1zM894 335h1v1h-1zM894 334h1v1h-1zM895 333h1v1h-1zM895 332h1v1h-1zM896 331h1v1h-1zM896 330h1v1h-1zM897 329h1v1h-1zM897 328h1v1h-1zM898 327h1v1h-1zM898 326h1v1h-1zM898 325h1v1h-1zM899 324h1v1h-1zM899 323h1v1h-1zM900 322h1v1h-1zM900 321h1v1h-1zM900 320h1v1h-1zM901 319h1v1h-1zM901 318h1v1h-1zM902 317h1v1h-1zM902 316h1v1h-1zM902 315h1v1h-1zM903 314h1v1h-1zM903 313h1v1h-1zM904 312h1v1h-1zM904 311h1v1h-1zM904 310h1v1h-1zM905 309h1v1h-1zM905 308h1v1h-1zM905 307h1v1h-1zM905 306h1v1h-1zM906 305h1v1h-1zM906 304h1v1h-1zM906 303h1v1h-1zM907 302h1v1h-1zM907 301h1v1h-1zM907 300h1v1h-1zM908 299h1v1h-1zM908 298h1v1h-1zM908 297h1v1h-1zM908 296h1v1h-1zM909 295h1v1h-1zM909 294h1v1h-1zM909 293h1v1h-1zM910 292h1v1h-1zM910 291h1v1h-1zM910 290h1v1h-1zM911 289h1v1h-1zM911 288h1v1h-1zM911 287h1v1h-1zM911 286h1v1h-1zM912 285h1v1h-1zM912 284h1v1h-1zM912 283h1v1h-1zM913 282h1v1h-1zM913 281h1v1h-1zM913 280h1v1h-1zM914 279h1v1h-1zM914 278h1v1h-1zM914 277h1v1h-1zM915 276h1v1h-1zM915 275h1v1h-1zM915 274h1v1h-1zM916 273h1v1h-1zM916 272h1v1h-1zM916 271h1v1h-1zM916 270h1v1h-1zM917 269h1v1h-1zM917 268h1v1h-1zM917 267h1v1h-1zM918 266h1v1h-1zM918 265h1v1h-1zM918 264h1v1h-1zM919 263h1v1h-1zM919 262h1v1h-1zM919 261h1v1h-1zM920 260h1v1h-1zM920 259h1v1h-1zM920 258h1v1h-1zM921 257h1v1h-1zM921 256h1v1h-1zM922 255h1v1h-1zM922 254h1v1h-1zM922 253h1v1h-1zM923 252h1v1h-1zM923 251h1v1h-1zM924 250h1v1h-1zM924 249h1v1h-1zM924 248h1v1h-1zM925 247h1v1h-1zM925 246h1v1h-1zM926 245h1v1h-1zM926 244h1v1h-1zM926 243h1v1h-1zM927 242h1v1h-1zM927 241h1v1h-1zM928 240h1v1h-1zM928 239h1v1h-1zM928 238h1v1h-1zM929 237h1v1h-1zM929 236h1v1h-1zM929 235h1v1h-1zM930 234h1v1h-1zM930 233h1v1h-1zM931 232h1v1h-1zM931 231h1v1h-1zM931 230h1v1h-1zM932 229h1v1h-1zM932 228h1v1h-1zM1167 228h13v1h-13zM932 227h1v1h-1zM1164 227h3v1h-3zM1180 227h6v1h-6zM933 226h1v1h-1zM1162 226h2v1h-2zM1186 226h4v1h-4zM933 225h1v1h-1zM1159 225h3v1h-3zM1190 225h4v1h-4zM933 224h1v1h-1zM1157 224h2v1h-2zM1194 224h2v1h-2zM934 223h1v1h-1zM1155 223h2v1h-2zM1196 223h3v1h-3zM1278 223h3v1h-3zM934 222h1v1h-1zM1153 222h2v1h-2zM1199 222h5v1h-5zM1274 222h4v1h-4zM1281 222h1v1h-1zM935 221h1v1h-1zM1152 221h1v1h-1zM1204 221h8v1h-8zM1268 221h6v1h-6zM1282 221h1v1h-1zM935 220h1v1h-1zM1151 220h1v1h-1zM1212 220h56v1h-56zM1283 220h1v1h-1zM935 219h1v1h-1zM1151 219h1v1h-1zM1284 219h1v1h-1zM936 218h1v1h-1zM1150 218h1v1h-1zM1284 218h1v1h-1zM936 217h1v1h-1zM1149 217h1v1h-1zM1285 217h1v1h-1zM937 216h1v1h-1zM1149 216h1v1h-1zM1286 216h1v1h-1zM938 215h2v1h-2zM1148 215h1v1h-1zM1287 215h1v1h-1zM940 214h1v1h-1zM1147 214h1v1h-1zM1288 214h1v1h-1zM941 213h1v1h-1zM1147 213h1v1h-1zM1289 213h1v1h-1zM942 212h2v1h-2zM1146 212h1v1h-1zM1290 212h1v1h-1zM944 211h1v1h-1zM1145 211h1v1h-1zM1291 211h1v1h-1zM945 210h2v1h-2zM1145 210h1v1h-1zM1292 210h1v1h-1zM947 209h2v1h-2zM1144 209h1v1h-1zM1293 209h1v1h-1zM949 208h2v1h-2zM956 208h6v1h-6zM1143 208h1v1h-1zM1294 208h1v1h-1zM951 207h5v1h-5zM962 207h4v1h-4zM1143 207h1v1h-1zM1295 207h1v1h-1zM966 206h3v1h-3zM1142 206h1v1h-1zM1296 206h1v1h-1zM969 205h2v1h-2zM1023 205h10v1h-10zM1142 205h1v1h-1zM1297 205h1v1h-1zM971 204h1v1h-1zM1020 204h3v1h-3zM1033 204h1v1h-1zM1141 204h1v1h-1zM1298 204h1v1h-1zM972 203h2v1h-2zM1018 203h2v1h-2zM1034 203h1v1h-1zM1140 203h1v1h-1zM1299 203h1v1h-1zM974 202h2v1h-2zM988 202h8v1h-8zM1004 202h14v1h-14zM1035 202h1v1h-1zM1140 202h1v1h-1zM1300 202h1v1h-1zM976 201h12v1h-12zM996 201h8v1h-8zM1036 201h2v1h-2zM1139 201h1v1h-1zM1300 201h1v1h-1zM1038 200h1v1h-1zM1138 200h1v1h-1zM1301 200h1v1h-1zM1039 199h1v1h-1zM1138 199h1v1h-1zM1302 199h1v1h-1zM1040 198h1v1h-1zM1137 198h1v1h-1zM1303 198h1v1h-1zM1041 197h1v1h-1zM1137 197h1v1h-1zM1304 197h2v1h-2zM1348 197h6v1h-6zM1041 196h1v1h-1zM1136 196h1v1h-1zM1306 196h4v1h-4zM1343 196h5v1h-5zM1354 196h4v1h-4zM1042 195h1v1h-1zM1135 195h1v1h-1zM1310 195h4v1h-4zM1340 195h3v1h-3zM1358 195h4v1h-4zM1043 194h1v1h-1zM1135 194h1v1h-1zM1314 194h4v1h-4zM1338 194h2v1h-2zM1362 194h4v1h-4zM1043 193h1v1h-1zM1134 193h1v1h-1zM1318 193h4v1h-4zM1334 193h4v1h-4zM1366 193h6v1h-6zM1044 192h1v1h-1zM1134 192h1v1h-1zM1322 192h4v1h-4zM1330 192h4v1h-4zM1372 192h13v1h-13zM1045 191h1v1h-1zM1133 191h1v1h-1zM1326 191h4v1h-4zM1045 190h1v1h-1zM1133 190h1v1h-1zM1046 189h1v1h-1zM1132 189h1v1h-1zM1047 188h1v1h-1zM1131 188h1v1h-1zM1047 187h1v1h-1zM1131 187h1v1h-1zM1048 186h1v1h-1zM1130 186h1v1h-1zM1049 185h1v1h-1zM1130 185h1v1h-1zM1050 184h1v1h-1zM1129 184h1v1h-1zM1050 183h1v1h-1zM1129 183h1v1h-1zM1051 182h1v1h-1zM1128 182h1v1h-1zM1052 181h1v1h-1zM1128 181h1v1h-1zM1053 180h1v1h-1zM1127 180h1v1h-1zM1054 179h1v1h-1zM1127 179h1v1h-1zM1054 178h1v1h-1zM1127 178h1v1h-1zM1055 177h1v1h-1zM1126 177h1v1h-1zM1056 176h1v1h-1zM1126 176h1v1h-1zM1057 175h1v1h-1zM1126 175h1v1h-1zM1058 174h1v1h-1zM1125 174h1v1h-1zM1059 173h1v1h-1zM1125 173h1v1h-1zM1060 172h1v1h-1zM1125 172h1v1h-1zM1061 171h1v1h-1zM1124 171h1v1h-1zM1062 170h1v1h-1zM1124 170h1v1h-1zM1063 169h1v1h-1zM1123 169h1v1h-1zM1064 168h2v1h-2zM1123 168h1v1h-1zM1066 167h2v1h-2zM1123 167h1v1h-1zM1068 166h3v1h-3zM1122 166h1v1h-1zM1071 165h2v1h-2zM1122 165h1v1h-1zM1073 164h1v1h-1zM1122 164h1v1h-1zM1074 163h1v1h-1zM1121 163h1v1h-1zM1075 162h1v1h-1zM1121 162h1v1h-1zM1076 161h1v1h-1zM1121 161h1v1h-1zM1077 160h1v1h-1zM1120 160h1v1h-1zM1078 159h1v1h-1zM1119 159h2v1h-2zM1079 158h1v1h-1zM1117 158h2v1h-2zM1080 157h1v1h-1zM1115 157h2v1h-2zM1081 156h2v1h-2zM1113 156h2v1h-2zM1083 155h1v1h-1zM1111 155h2v1h-2zM1084 154h2v1h-2zM1108 154h3v1h-3zM1086 153h2v1h-2zM1106 153h2v1h-2zM1088 152h4v1h-4zM1100 152h6v1h-6zM1092 151h8v1h-8z"/><path fill="#ff0000" shape-rendering="crispEdges" d="M-8 362h1v1h-1zM62 362h1v1h-1zM102 362h1v1h-1zM323 362h1v1h-1zM650 362h1v1h-1zM-8 361h1v1h-1zM61 361h1v1h-1zM102 361h1v1h-1zM322 361h1v1h-1zM651 361h1v1h-1zM-7 360h1v1h-1zM61 360h1v1h-1zM103 360h1v1h-1zM321 360h1v1h-1zM651 360h1v1h-1zM-7 359h1v1h-1zM60 359h1v1h-1zM103 359h1v1h-1zM320 359h1v1h-1zM652 359h1v1h-1zM-7 358h1v1h-1zM60 358h1v1h-1zM104 358h1v1h-1zM319 358h1v1h-1zM653 358h1v1h-1zM-7 357h1v1h-1zM59 357h1v1h-1zM105 357h1v1h-1zM318 357h1v1h-1zM654 357h1v1h-1zM-6 356h1v1h-1zM59 356h1v1h-1zM105 356h1v1h-1zM317 356h1v1h-1zM654 356h1v1h-1zM-6 355h1v1h-1zM58 355h1v1h-1zM106 355h1v1h-1zM316 355h1v1h-1zM655 355h1v1h-1zM-6 354h1v1h-1zM58 354h1v1h-1zM107 354h1v1h-1zM316 354h1v1h-1zM656 354h1v1h-1zM-5 353h1v1h-1zM57 353h1v1h-1zM107 353h1v1h-1zM315 353h1v1h-1zM656 353h1v1h-1zM-5 352h1v1h-1zM57 352h1v1h-1zM108 352h1v1h-1zM314 352h1v1h-1zM657 352h1v1h-1zM-5 351h1v1h-1zM56 351h1v1h-1zM108 351h1v1h-1zM313 351h1v1h-1zM658 351h1v1h-1zM-5 350h1v1h-1zM55 350h1v1h-1zM109 350h1v1h-1zM312 350h1v1h-1zM659 350h1v1h-1zM-4 349h1v1h-1zM55 349h1v1h-1zM110 349h1v1h-1zM311 349h1v1h-1zM659 349h1v1h-1zM-4 348h1v1h-1zM54 348h1v1h-1zM110 348h1v1h-1zM310 348h1v1h-1zM660 348h1v1h-1zM-4 347h1v1h-1zM54 347h1v1h-1zM111 347h1v1h-1zM309 347h1v1h-1zM661 347h1v1h-1zM-4 346h1v1h-1zM53 346h1v1h-1zM112 346h1v1h-1zM308 346h1v1h-1zM662 346h1v1h-1zM-3 345h1v1h-1zM53 345h1v1h-1zM112 345h1v1h-1zM307 345h1v1h-1zM662 345h1v1h-1zM-3 344h1v1h-1zM52 344h1v1h-1zM113 344h1v1h-1zM306 344h1v1h-1zM663 344h1v1h-1zM-3 343h1v1h-1zM52 343h1v1h-1zM114 343h1v1h-1zM305 343h1v1h-1zM664 343h1v1h-1zM-2 342h1v1h-1zM51 342h1v1h-1zM114 342h1v1h-1zM305 342h1v1h-1zM665 342h1v1h-1zM-2 341h1v1h-1zM51 341h1v1h-1zM115 341h1v1h-1zM304 341h1v1h-1zM665 341h1v1h-1zM-2 340h1v1h-1zM50 340h1v1h-1zM115 340h1v1h-1zM303 340h1v1h-1zM666 340h1v1h-1zM-2 339h1v1h-1zM50 339h1v1h-1zM116 339h1v1h-1zM302 339h1v1h-1zM667 339h1v1h-1zM-1 338h1v1h-1zM49 338h1v1h-1zM117 338h1v1h-1zM301 338h1v1h-1zM668 338h1v1h-1zM-1 337h1v1h-1zM49 337h1v1h-1zM117 337h1v1h-1zM300 337h1v1h-1zM668 337h1v1h-1zM-1 336h1v1h-1zM48 336h1v1h-1zM118 336h1v1h-1zM299 336h1v1h-1zM669 336h1v1h-1zM0 335h1v1h-1zM47 335h1v1h-1zM119 335h1v1h-1zM298 335h1v1h-1zM670 335h1v1h-1zM0 334h1v1h-1zM47 334h1v1h-1zM119 334h1v1h-1zM297 334h1v1h-1zM670 334h1v1h-1zM0 333h1v1h-1zM46 333h1v1h-1zM120 333h1v1h-1zM296 333h1v1h-1zM671 333h1v1h-1zM0 332h1v1h-1zM46 332h1v1h-1zM120 332h1v1h-1zM295 332h1v1h-1zM672 332h1v1h-1zM1 331h1v1h-1zM45 331h1v1h-1zM121 331h1v1h-1zM294 331h1v1h-1zM673 331h1v1h-1zM1 330h1v1h-1zM45 330h1v1h-1zM122 330h1v1h-1zM294 330h1v1h-1zM673 330h1v1h-1zM1 329h1v1h-1zM44 329h1v1h-1zM122 329h1v1h-1zM293 329h1v1h-1zM674 329h1v1h-1zM1 328h1v1h-1zM44 328h1v1h-1zM123 328h1v1h-1zM292 328h1v1h-1zM675 328h1v1h-1zM2 327h1v1h-1zM43 327h1v1h-1zM124 327h1v1h-1zM291 327h1v1h-1zM676 327h1v1h-1zM2 326h1v1h-1zM43 326h1v1h-1zM124 326h1v1h-1zM290 326h1v1h-1zM676 326h1v1h-1zM2 325h1v1h-1zM42 325h1v1h-1zM125 325h1v1h-1zM289 325h1v1h-1zM677 325h1v1h-1zM3 324h1v1h-1zM42 324h1v1h-1zM126 324h1v1h-1zM288 324h1v1h-1zM678 324h1v1h-1zM3 323h1v1h-1zM41 323h1v1h-1zM126 323h1v1h-1zM287 323h1v1h-1zM679 323h1v1h-1zM3 322h1v1h-1zM41 322h1v1h-1zM127 322h1v1h-1zM286 322h1v1h-1zM679 322h1v1h-1zM3 321h1v1h-1zM40 321h1v1h-1zM127 321h1v1h-1zM285 321h1v1h-1zM680 321h1v1h-1zM4 320h1v1h-1zM39 320h1v1h-1zM128 320h1v1h-1zM284 320h1v1h-1zM681 320h1v1h-1zM4 319h1v1h-1zM39 319h1v1h-1zM129 319h1v1h-1zM283 319h1v1h-1zM682 319h1v1h-1zM4 318h1v1h-1zM38 318h1v1h-1zM129 318h1v1h-1zM283 318h1v1h-1zM682 318h1v1h-1zM5 317h1v1h-1zM38 317h1v1h-1zM130 317h1v1h-1zM282 317h1v1h-1zM683 317h1v1h-1zM5 316h1v1h-1zM37 316h1v1h-1zM131 316h1v1h-1zM281 316h1v1h-1zM684 316h1v1h-1zM5 315h1v1h-1zM37 315h1v1h-1zM131 315h1v1h-1zM280 315h1v1h-1zM684 315h1v1h-1zM5 314h1v1h-1zM36 314h1v1h-1zM132 314h1v1h-1zM279 314h1v1h-1zM685 314h1v1h-1zM6 313h1v1h-1zM36 313h1v1h-1zM133 313h1v1h-1zM278 313h1v1h-1zM686 313h1v1h-1zM6 312h1v1h-1zM35 312h1v1h-1zM133 312h1v1h-1zM277 312h1v1h-1zM687 312h1v1h-1zM6 311h1v1h-1zM35 311h1v1h-1zM134 311h1v1h-1zM276 311h1v1h-1zM687 311h1v1h-1zM7 310h1v1h-1zM34 310h1v1h-1zM134 310h1v1h-1zM275 310h1v1h-1zM688 310h1v1h-1zM7 309h1v1h-1zM34 309h1v1h-1zM135 309h1v1h-1zM274 309h1v1h-1zM689 309h1v1h-1zM7 308h1v1h-1zM33 308h1v1h-1zM136 308h1v1h-1zM273 308h1v1h-1zM690 308h1v1h-1zM7 307h1v1h-1zM33 307h1v1h-1zM136 307h1v1h-1zM273 307h1v1h-1zM690 307h1v1h-1zM8 306h1v1h-1zM32 306h1v1h-1zM137 306h1v1h-1zM272 306h1v1h-1zM691 306h1v1h-1zM8 305h1v1h-1zM31 305h1v1h-1zM138 305h1v1h-1zM271 305h1v1h-1zM692 305h1v1h-1zM8 304h1v1h-1zM31 304h1v1h-1zM138 304h1v1h-1zM270 304h1v1h-1zM693 304h1v1h-1zM8 303h1v1h-1zM30 303h1v1h-1zM139 303h1v1h-1zM269 303h1v1h-1zM693 303h1v1h-1zM9 302h1v1h-1zM30 302h1v1h-1zM139 302h1v1h-1zM268 302h1v1h-1zM694 302h1v1h-1zM9 301h1v1h-1zM29 301h1v1h-1zM140 301h1v1h-1zM267 301h1v1h-1zM695 301h1v1h-1zM9 300h1v1h-1zM29 300h1v1h-1zM141 300h1v1h-1zM266 300h1v1h-1zM696 300h1v1h-1zM10 299h1v1h-1zM28 299h1v1h-1zM141 299h1v1h-1zM265 299h1v1h-1zM696 299h1v1h-1zM10 298h1v1h-1zM28 298h1v1h-1zM142 298h1v1h-1zM264 298h1v1h-1zM697 298h1v1h-1zM10 297h1v1h-1zM27 297h1v1h-1zM143 297h1v1h-1zM263 297h1v1h-1zM698 297h1v1h-1zM10 296h1v1h-1zM27 296h1v1h-1zM143 296h1v1h-1zM262 296h1v1h-1zM698 296h1v1h-1zM11 295h1v1h-1zM26 295h1v1h-1zM144 295h1v1h-1zM262 295h1v1h-1zM699 295h1v1h-1zM11 294h1v1h-1zM26 294h1v1h-1zM145 294h1v1h-1zM261 294h1v1h-1zM700 294h1v1h-1zM11 293h1v1h-1zM25 293h1v1h-1zM145 293h1v1h-1zM260 293h1v1h-1zM701 293h1v1h-1zM12 292h1v1h-1zM25 292h1v1h-1zM146 292h1v1h-1zM259 292h1v1h-1zM701 292h1v1h-1zM12 291h1v1h-1zM24 291h1v1h-1zM146 291h1v1h-1zM258 291h1v1h-1zM702 291h1v1h-1zM12 290h1v1h-1zM23 290h1v1h-1zM147 290h1v1h-1zM257 290h1v1h-1zM703 290h1v1h-1zM12 289h1v1h-1zM23 289h1v1h-1zM148 289h1v1h-1zM256 289h1v1h-1zM704 289h1v1h-1zM13 288h1v1h-1zM22 288h1v1h-1zM148 288h1v1h-1zM255 288h1v1h-1zM704 288h1v1h-1zM13 287h1v1h-1zM22 287h1v1h-1zM149 287h1v1h-1zM254 287h1v1h-1zM705 287h1v1h-1zM13 286h1v1h-1zM21 286h1v1h-1zM150 286h1v1h-1zM253 286h1v1h-1zM706 286h1v1h-1zM13 285h1v1h-1zM21 285h1v1h-1zM150 285h1v1h-1zM252 285h1v1h-1zM707 285h1v1h-1zM14 284h1v1h-1zM20 284h1v1h-1zM151 284h1v1h-1zM251 284h1v1h-1zM707 284h1v1h-1zM14 283h1v1h-1zM20 283h1v1h-1zM152 283h1v1h-1zM251 283h1v1h-1zM708 283h1v1h-1zM14 282h1v1h-1zM19 282h1v1h-1zM152 282h1v1h-1zM250 282h1v1h-1zM709 282h1v1h-1zM15 281h1v1h-1zM19 281h1v1h-1zM153 281h1v1h-1zM249 281h1v1h-1zM710 281h1v1h-1zM15 280h1v1h-1zM18 280h1v1h-1zM153 280h1v1h-1zM248 280h1v1h-1zM710 280h1v1h-1zM15 279h1v1h-1zM18 279h1v1h-1zM154 279h1v1h-1zM247 279h1v1h-1zM711 279h1v1h-1zM15 278h1v1h-1zM17 278h1v1h-1zM155 278h1v1h-1zM246 278h1v1h-1zM712 278h1v1h-1zM16 277h2v1h-2zM155 277h1v1h-1zM245 277h1v1h-1zM712 277h1v1h-1zM16 276h1v1h-1zM156 276h1v1h-1zM244 276h1v1h-1zM713 276h1v1h-1zM62 363h1v1h-1zM101 363h1v1h-1zM324 363h1v1h-1zM649 363h1v1h-1zM63 364h1v1h-1zM100 364h1v1h-1zM325 364h1v1h-1zM648 364h1v1h-1zM63 365h1v1h-1zM100 365h1v1h-1zM326 365h1v1h-1zM648 365h1v1h-1zM64 366h1v1h-1zM99 366h1v1h-1zM326 366h1v1h-1zM647 366h1v1h-1zM65 367h1v1h-1zM98 367h1v1h-1zM327 367h1v1h-1zM646 367h1v1h-1zM65 368h1v1h-1zM98 368h1v1h-1zM328 368h1v1h-1zM645 368h1v1h-1zM66 369h1v1h-1zM97 369h1v1h-1zM329 369h1v1h-1zM645 369h1v1h-1zM66 370h1v1h-1zM96 370h1v1h-1zM330 370h1v1h-1zM644 370h1v1h-1zM67 371h1v1h-1zM96 371h1v1h-1zM331 371h1v1h-1zM643 371h1v1h-1zM67 372h1v1h-1zM95 372h1v1h-1zM332 372h1v1h-1zM642 372h1v1h-1zM68 373h1v1h-1zM95 373h1v1h-1zM333 373h1v1h-1zM642 373h1v1h-1zM68 374h1v1h-1zM94 374h1v1h-1zM334 374h1v1h-1zM641 374h1v1h-1zM69 375h1v1h-1zM93 375h1v1h-1zM335 375h1v1h-1zM640 375h1v1h-1zM69 376h1v1h-1zM93 376h1v1h-1zM336 376h1v1h-1zM640 376h1v1h-1zM70 377h1v1h-1zM92 377h1v1h-1zM337 377h1v1h-1zM639 377h1v1h-1zM70 378h1v1h-1zM91 378h1v1h-1zM337 378h1v1h-1zM638 378h1v1h-1zM71 379h1v1h-1zM91 379h1v1h-1zM338 379h1v1h-1zM637 379h1v1h-1zM71 380h1v1h-1zM90 380h1v1h-1zM339 380h1v1h-1zM637 380h1v1h-1zM72 381h1v1h-1zM89 381h1v1h-1zM340 381h1v1h-1zM636 381h1v1h-1zM73 382h1v1h-1zM89 382h1v1h-1zM341 382h1v1h-1zM635 382h1v1h-1zM73 383h1v1h-1zM88 383h1v1h-1zM342 383h1v1h-1zM634 383h1v1h-1zM74 384h1v1h-1zM88 384h1v1h-1zM343 384h1v1h-1zM634 384h1v1h-1zM74 385h1v1h-1zM87 385h1v1h-1zM344 385h1v1h-1zM633 385h1v1h-1zM75 386h1v1h-1zM86 386h1v1h-1zM345 386h1v1h-1zM632 386h1v1h-1zM75 387h1v1h-1zM86 387h1v1h-1zM346 387h1v1h-1zM631 387h1v1h-1zM76 388h1v1h-1zM85 388h1v1h-1zM347 388h1v1h-1zM631 388h1v1h-1zM76 389h1v1h-1zM84 389h1v1h-1zM348 389h1v1h-1zM630 389h1v1h-1zM77 390h1v1h-1zM84 390h1v1h-1zM348 390h1v1h-1zM629 390h1v1h-1zM77 391h1v1h-1zM83 391h1v1h-1zM349 391h1v1h-1zM628 391h1v1h-1zM78 392h1v1h-1zM83 392h1v1h-1zM350 392h1v1h-1zM628 392h1v1h-1zM78 393h1v1h-1zM82 393h1v1h-1zM351 393h1v1h-1zM627 393h1v1h-1zM79 394h1v1h-1zM81 394h1v1h-1zM352 394h1v1h-1zM626 394h1v1h-1zM79 395h1v1h-1zM81 395h1v1h-1zM353 395h1v1h-1zM626 395h1v1h-1zM80 396h1v1h-1zM354 396h1v1h-1zM625 396h1v1h-1zM157 275h1v1h-1zM243 275h1v1h-1zM714 275h1v1h-1zM157 274h1v1h-1zM242 274h1v1h-1zM715 274h1v1h-1zM158 273h1v1h-1zM241 273h1v1h-1zM715 273h1v1h-1zM158 272h1v1h-1zM240 272h1v1h-1zM716 272h1v1h-1zM159 271h1v1h-1zM240 271h1v1h-1zM717 271h1v1h-1zM160 270h1v1h-1zM239 270h1v1h-1zM718 270h1v1h-1zM160 269h1v1h-1zM238 269h1v1h-1zM718 269h1v1h-1zM161 268h1v1h-1zM237 268h1v1h-1zM719 268h1v1h-1zM162 267h1v1h-1zM236 267h1v1h-1zM720 267h1v1h-1zM162 266h1v1h-1zM235 266h1v1h-1zM721 266h1v1h-1zM163 265h1v1h-1zM234 265h1v1h-1zM721 265h1v1h-1zM164 264h1v1h-1zM233 264h1v1h-1zM722 264h1v1h-1zM164 263h1v1h-1zM232 263h1v1h-1zM723 263h1v1h-1zM165 262h1v1h-1zM231 262h1v1h-1zM724 262h1v1h-1zM165 261h1v1h-1zM230 261h1v1h-1zM724 261h1v1h-1zM166 260h1v1h-1zM230 260h1v1h-1zM725 260h1v1h-1zM167 259h1v1h-1zM229 259h1v1h-1zM726 259h1v1h-1zM167 258h1v1h-1zM228 258h1v1h-1zM726 258h1v1h-1zM168 257h1v1h-1zM227 257h1v1h-1zM727 257h1v1h-1zM169 256h1v1h-1zM226 256h1v1h-1zM728 256h1v1h-1zM169 255h1v1h-1zM225 255h1v1h-1zM729 255h1v1h-1zM170 254h1v1h-1zM224 254h1v1h-1zM729 254h1v1h-1zM170 253h1v1h-1zM223 253h1v1h-1zM730 253h1v1h-1zM171 252h1v1h-1zM222 252h1v1h-1zM731 252h1v1h-1zM172 251h1v1h-1zM221 251h1v1h-1zM732 251h1v1h-1zM172 250h1v1h-1zM220 250h1v1h-1zM732 250h1v1h-1zM173 249h1v1h-1zM219 249h1v1h-1zM733 249h1v1h-1zM174 248h1v1h-1zM219 248h1v1h-1zM734 248h1v1h-1zM174 247h1v1h-1zM218 247h1v1h-1zM735 247h1v1h-1zM175 246h1v1h-1zM217 246h1v1h-1zM735 246h1v1h-1zM176 245h1v1h-1zM216 245h1v1h-1zM736 245h1v1h-1zM176 244h1v1h-1zM215 244h1v1h-1zM737 244h1v1h-1zM177 243h1v1h-1zM214 243h1v1h-1zM738 243h1v1h-1zM177 242h1v1h-1zM213 242h1v1h-1zM738 242h1v1h-1zM178 241h1v1h-1zM212 241h1v1h-1zM739 241h1v1h-1zM179 240h1v1h-1zM211 240h1v1h-1zM740 240h1v1h-1zM179 239h1v1h-1zM210 239h1v1h-1zM740 239h1v1h-1zM180 238h1v1h-1zM209 238h1v1h-1zM741 238h1v1h-1zM181 237h1v1h-1zM208 237h1v1h-1zM742 237h1v1h-1zM181 236h1v1h-1zM208 236h1v1h-1zM743 236h1v1h-1zM182 235h1v1h-1zM207 235h1v1h-1zM743 235h1v1h-1zM1128 235h1v1h-1zM183 234h1v1h-1zM206 234h1v1h-1zM744 234h1v1h-1zM1128 234h1v1h-1zM183 233h1v1h-1zM205 233h1v1h-1zM745 233h1v1h-1zM1127 233h1v1h-1zM1129 233h1v1h-1zM184 232h1v1h-1zM204 232h1v1h-1zM746 232h1v1h-1zM1127 232h1v1h-1zM1129 232h1v1h-1zM184 231h1v1h-1zM203 231h1v1h-1zM746 231h1v1h-1zM1126 231h1v1h-1zM1130 231h1v1h-1zM185 230h1v1h-1zM202 230h1v1h-1zM747 230h1v1h-1zM1126 230h1v1h-1zM1130 230h1v1h-1zM186 229h1v1h-1zM201 229h1v1h-1zM748 229h1v1h-1zM1125 229h1v1h-1zM1131 229h1v1h-1zM186 228h1v1h-1zM200 228h1v1h-1zM749 228h1v1h-1zM1125 228h1v1h-1zM1131 228h1v1h-1zM187 227h1v1h-1zM199 227h1v1h-1zM749 227h1v1h-1zM1124 227h1v1h-1zM1132 227h1v1h-1zM188 226h1v1h-1zM198 226h1v1h-1zM750 226h1v1h-1zM1124 226h1v1h-1zM1132 226h1v1h-1zM188 225h1v1h-1zM197 225h1v1h-1zM751 225h1v1h-1zM1123 225h1v1h-1zM1133 225h1v1h-1zM189 224h1v1h-1zM197 224h1v1h-1zM752 224h1v1h-1zM1123 224h1v1h-1zM1133 224h1v1h-1zM189 223h1v1h-1zM196 223h1v1h-1zM752 223h1v1h-1zM1122 223h1v1h-1zM1133 223h1v1h-1zM190 222h1v1h-1zM195 222h1v1h-1zM753 222h1v1h-1zM1122 222h1v1h-1zM1134 222h1v1h-1zM191 221h1v1h-1zM194 221h1v1h-1zM754 221h1v1h-1zM1121 221h1v1h-1zM1134 221h1v1h-1zM191 220h1v1h-1zM193 220h1v1h-1zM754 220h1v1h-1zM1121 220h1v1h-1zM1135 220h1v1h-1zM192 219h1v1h-1zM755 219h1v1h-1zM1120 219h1v1h-1zM1135 219h1v1h-1zM355 397h1v1h-1zM624 397h1v1h-1zM356 398h1v1h-1zM623 398h1v1h-1zM357 399h1v1h-1zM623 399h1v1h-1zM358 400h1v1h-1zM622 400h1v1h-1zM359 401h1v1h-1zM621 401h1v1h-1zM359 402h1v1h-1zM620 402h1v1h-1zM360 403h1v1h-1zM620 403h1v1h-1zM361 404h1v1h-1zM619 404h1v1h-1zM362 405h1v1h-1zM618 405h1v1h-1zM363 406h1v1h-1zM617 406h1v1h-1zM364 407h1v1h-1zM617 407h1v1h-1zM365 408h1v1h-1zM616 408h1v1h-1zM366 409h1v1h-1zM615 409h1v1h-1zM367 410h1v1h-1zM614 410h1v1h-1zM368 411h1v1h-1zM614 411h1v1h-1zM369 412h1v1h-1zM613 412h1v1h-1zM370 413h1v1h-1zM612 413h1v1h-1zM370 414h1v1h-1zM612 414h1v1h-1zM371 415h1v1h-1zM611 415h1v1h-1zM372 416h1v1h-1zM610 416h1v1h-1zM373 417h1v1h-1zM609 417h1v1h-1zM374 418h1v1h-1zM609 418h1v1h-1zM375 419h1v1h-1zM608 419h1v1h-1zM376 420h1v1h-1zM607 420h1v1h-1zM377 421h1v1h-1zM606 421h1v1h-1zM378 422h1v1h-1zM606 422h1v1h-1zM379 423h1v1h-1zM605 423h1v1h-1zM380 424h1v1h-1zM604 424h1v1h-1zM380 425h1v1h-1zM603 425h1v1h-1zM381 426h1v1h-1zM603 426h1v1h-1zM382 427h1v1h-1zM602 427h1v1h-1zM383 428h1v1h-1zM601 428h1v1h-1zM384 429h1v1h-1zM600 429h1v1h-1zM385 430h1v1h-1zM600 430h1v1h-1zM386 431h1v1h-1zM599 431h1v1h-1zM387 432h1v1h-1zM598 432h1v1h-1zM388 433h1v1h-1zM598 433h1v1h-1zM389 434h1v1h-1zM597 434h1v1h-1zM390 435h1v1h-1zM596 435h1v1h-1zM391 436h1v1h-1zM595 436h1v1h-1zM391 437h1v1h-1zM595 437h1v1h-1zM392 438h1v1h-1zM594 438h1v1h-1zM393 439h1v1h-1zM593 439h1v1h-1zM394 440h1v1h-1zM592 440h1v1h-1zM395 441h1v1h-1zM592 441h1v1h-1zM396 442h1v1h-1zM591 442h1v1h-1zM397 443h1v1h-1zM590 443h1v1h-1zM398 444h1v1h-1zM589 444h1v1h-1zM399 445h1v1h-1zM589 445h1v1h-1zM400 446h1v1h-1zM588 446h1v1h-1zM401 447h1v1h-1zM587 447h1v1h-1zM402 448h1v1h-1zM587 448h1v1h-1zM402 449h1v1h-1zM586 449h1v1h-1zM403 450h1v1h-1zM585 450h1v1h-1zM404 451h1v1h-1zM584 451h1v1h-1zM405 452h1v1h-1zM584 452h1v1h-1zM406 453h1v1h-1zM583 453h1v1h-1zM407 454h1v1h-1zM582 454h1v1h-1zM408 455h1v1h-1zM581 455h1v1h-1zM409 456h1v1h-1zM581 456h1v1h-1zM410 457h1v1h-1zM580 457h1v1h-1zM411 458h1v1h-1zM579 458h1v1h-1zM412 459h1v1h-1zM578 459h1v1h-1zM413 460h1v1h-1zM578 460h1v1h-1zM413 461h1v1h-1zM577 461h1v1h-1zM414 462h1v1h-1zM576 462h1v1h-1zM415 463h1v1h-1zM575 463h1v1h-1zM416 464h1v1h-1zM575 464h1v1h-1zM417 465h1v1h-1zM574 465h1v1h-1zM418 466h1v1h-1zM573 466h1v1h-1zM419 467h1v1h-1zM573 467h1v1h-1zM420 468h1v1h-1zM572 468h1v1h-1zM421 469h1v1h-1zM571 469h1v1h-1zM422 470h1v1h-1zM570 470h1v1h-1zM423 471h1v1h-1zM570 471h1v1h-1zM423 472h1v1h-1zM569 472h1v1h-1zM424 473h1v1h-1zM568 473h1v1h-1zM425 474h1v1h-1zM567 474h1v1h-1zM426 475h1v1h-1zM567 475h1v1h-1zM427 476h1v1h-1zM566 476h1v1h-1zM428 477h1v1h-1zM565 477h1v1h-1zM429 478h1v1h-1zM564 478h1v1h-1zM430 479h1v1h-1zM564 479h1v1h-1zM431 480h1v1h-1zM563 480h1v1h-1zM432 481h1v1h-1zM562 481h1v1h-1zM433 482h1v1h-1zM561 482h1v1h-1zM434 483h1v1h-1zM561 483h1v1h-1zM434 484h1v1h-1zM560 484h1v1h-1zM435 485h1v1h-1zM559 485h1v1h-1zM436 486h1v1h-1zM559 486h1v1h-1zM437 487h1v1h-1zM558 487h1v1h-1zM438 488h1v1h-1zM557 488h1v1h-1zM439 489h1v1h-1zM556 489h1v1h-1zM440 490h1v1h-1zM556 490h1v1h-1zM441 491h1v1h-1zM555 491h1v1h-1zM442 492h1v1h-1zM554 492h1v1h-1zM443 493h1v1h-1zM553 493h1v1h-1zM444 494h1v1h-1zM553 494h1v1h-1zM445 495h1v1h-1zM552 495h1v1h-1zM445 496h1v1h-1zM551 496h1v1h-1zM446 497h1v1h-1zM550 497h1v1h-1zM447 498h1v1h-1zM550 498h1v1h-1zM448 499h1v1h-1zM549 499h1v1h-1zM449 500h1v1h-1zM548 500h1v1h-1zM450 501h1v1h-1zM547 501h1v1h-1zM451 502h1v1h-1zM547 502h1v1h-1zM452 503h1v1h-1zM546 503h1v1h-1zM453 504h1v1h-1zM545 504h1v1h-1zM454 505h1v1h-1zM545 505h1v1h-1zM455 506h1v1h-1zM544 506h1v1h-1zM456 507h1v1h-1zM543 507h1v1h-1zM456 508h1v1h-1zM542 508h1v1h-1zM457 509h1v1h-1zM542 509h1v1h-1zM458 510h1v1h-1zM541 510h1v1h-1zM459 511h1v1h-1zM540 511h1v1h-1zM460 512h1v1h-1zM539 512h1v1h-1zM461 513h1v1h-1zM539 513h1v1h-1zM462 514h1v1h-1zM538 514h1v1h-1zM463 515h1v1h-1zM537 515h1v1h-1zM464 516h1v1h-1zM536 516h1v1h-1zM465 517h1v1h-1zM536 517h1v1h-1zM466 518h1v1h-1zM535 518h1v1h-1zM466 519h1v1h-1zM534 519h1v1h-1zM467 520h1v1h-1zM533 520h1v1h-1zM468 521h1v1h-1zM533 521h1v1h-1zM469 522h1v1h-1zM532 522h1v1h-1zM470 523h1v1h-1zM531 523h1v1h-1zM471 524h1v1h-1zM531 524h1v1h-1zM472 525h1v1h-1zM530 525h1v1h-1zM473 526h1v1h-1zM529 526h1v1h-1zM474 527h1v1h-1zM528 527h1v1h-1zM475 528h1v1h-1zM528 528h1v1h-1zM476 529h1v1h-1zM527 529h1v1h-1zM477 530h1v1h-1zM526 530h1v1h-1zM477 531h1v1h-1zM525 531h1v1h-1zM478 532h1v1h-1zM525 532h1v1h-1zM479 533h1v1h-1zM524 533h1v1h-1zM480 534h1v1h-1zM523 534h1v1h-1zM481 535h1v1h-1zM522 535h1v1h-1zM482 536h1v1h-1zM522 536h1v1h-1zM483 537h1v1h-1zM521 537h1v1h-1zM484 538h1v1h-1zM520 538h1v1h-1zM485 539h1v1h-1zM519 539h1v1h-1zM486 540h1v1h-1zM519 540h1v1h-1zM487 541h1v1h-1zM518 541h1v1h-1zM488 542h1v1h-1zM517 542h1v1h-1zM488 543h1v1h-1zM517 543h1v1h-1zM489 544h1v1h-1zM516 544h1v1h-1zM490 545h1v1h-1zM515 545h1v1h-1zM491 546h1v1h-1zM514 546h1v1h-1zM492 547h1v1h-1zM514 547h1v1h-1zM493 548h1v1h-1zM513 548h1v1h-1zM494 549h1v1h-1zM512 549h1v1h-1zM495 550h1v1h-1zM511 550h1v1h-1zM496 551h1v1h-1zM511 551h1v1h-1zM497 552h1v1h-1zM510 552h1v1h-1zM498 553h1v1h-1zM509 553h1v1h-1zM499 554h1v1h-1zM508 554h1v1h-1zM499 555h1v1h-1zM508 555h1v1h-1zM500 556h1v1h-1zM507 556h1v1h-1zM501 557h1v1h-1zM506 557h1v1h-1zM502 558h1v1h-1zM505 558h1v1h-1zM503 559h1v1h-1zM505 559h1v1h-1zM504 560h1v1h-1zM756 218h1v1h-1zM888 218h1v1h-1zM1120 218h1v1h-1zM1136 218h1v1h-1zM757 217h1v1h-1zM888 217h2v1h-2zM1119 217h1v1h-1zM1136 217h1v1h-1zM757 216h1v1h-1zM887 216h1v1h-1zM890 216h1v1h-1zM1119 216h1v1h-1zM1137 216h1v1h-1zM758 215h1v1h-1zM887 215h1v1h-1zM891 215h1v1h-1zM1119 215h1v1h-1zM1137 215h1v1h-1zM759 214h1v1h-1zM887 214h1v1h-1zM892 214h1v1h-1zM1118 214h1v1h-1zM1137 214h1v1h-1zM760 213h1v1h-1zM886 213h1v1h-1zM892 213h1v1h-1zM1118 213h1v1h-1zM1138 213h1v1h-1zM760 212h1v1h-1zM886 212h1v1h-1zM893 212h1v1h-1zM1117 212h1v1h-1zM1138 212h1v1h-1zM761 211h1v1h-1zM886 211h1v1h-1zM894 211h1v1h-1zM1117 211h1v1h-1zM1139 211h1v1h-1zM762 210h1v1h-1zM885 210h1v1h-1zM895 210h1v1h-1zM1116 210h1v1h-1zM1139 210h1v1h-1zM763 209h1v1h-1zM885 209h1v1h-1zM896 209h1v1h-1zM1116 209h1v1h-1zM1140 209h1v1h-1zM763 208h1v1h-1zM885 208h1v1h-1zM897 208h1v1h-1zM1115 208h1v1h-1zM1140 208h1v1h-1zM764 207h1v1h-1zM884 207h1v1h-1zM898 207h1v1h-1zM1115 207h1v1h-1zM1141 207h1v1h-1zM765 206h1v1h-1zM884 206h1v1h-1zM899 206h1v1h-1zM1114 206h1v1h-1zM1141 206h1v1h-1zM1320 206h1v1h-1zM765 205h1v1h-1zM884 205h1v1h-1zM900 205h1v1h-1zM1114 205h1v1h-1zM1142 205h1v1h-1zM1319 205h2v1h-2zM766 204h1v1h-1zM884 204h1v1h-1zM901 204h1v1h-1zM1113 204h1v1h-1zM1142 204h1v1h-1zM1318 204h1v1h-1zM1321 204h1v1h-1zM767 203h1v1h-1zM883 203h1v1h-1zM901 203h1v1h-1zM1113 203h1v1h-1zM1142 203h1v1h-1zM1317 203h1v1h-1zM1321 203h1v1h-1zM768 202h1v1h-1zM883 202h1v1h-1zM902 202h1v1h-1zM1112 202h1v1h-1zM1143 202h1v1h-1zM1316 202h1v1h-1zM1322 202h1v1h-1zM768 201h1v1h-1zM883 201h1v1h-1zM903 201h1v1h-1zM1112 201h1v1h-1zM1143 201h1v1h-1zM1315 201h1v1h-1zM1322 201h1v1h-1zM769 200h1v1h-1zM882 200h1v1h-1zM904 200h1v1h-1zM1111 200h1v1h-1zM1144 200h1v1h-1zM1315 200h1v1h-1zM1323 200h1v1h-1zM770 199h1v1h-1zM882 199h1v1h-1zM905 199h1v1h-1zM1111 199h1v1h-1zM1144 199h1v1h-1zM1314 199h1v1h-1zM1323 199h1v1h-1zM771 198h1v1h-1zM882 198h1v1h-1zM906 198h1v1h-1zM1110 198h1v1h-1zM1145 198h1v1h-1zM1313 198h1v1h-1zM1323 198h1v1h-1zM771 197h1v1h-1zM881 197h1v1h-1zM907 197h1v1h-1zM1110 197h1v1h-1zM1145 197h1v1h-1zM1312 197h1v1h-1zM1324 197h1v1h-1zM772 196h1v1h-1zM881 196h1v1h-1zM908 196h1v1h-1zM1110 196h1v1h-1zM1146 196h1v1h-1zM1311 196h1v1h-1zM1324 196h1v1h-1zM773 195h1v1h-1zM881 195h1v1h-1zM909 195h1v1h-1zM1109 195h1v1h-1zM1146 195h1v1h-1zM1310 195h1v1h-1zM1325 195h1v1h-1zM774 194h1v1h-1zM880 194h1v1h-1zM910 194h1v1h-1zM1109 194h1v1h-1zM1146 194h1v1h-1zM1309 194h1v1h-1zM1325 194h1v1h-1zM774 193h1v1h-1zM880 193h1v1h-1zM910 193h1v1h-1zM1108 193h1v1h-1zM1147 193h1v1h-1zM1308 193h1v1h-1zM1326 193h1v1h-1zM775 192h1v1h-1zM880 192h1v1h-1zM911 192h1v1h-1zM1108 192h1v1h-1zM1147 192h1v1h-1zM1307 192h1v1h-1zM1326 192h1v1h-1zM776 191h1v1h-1zM879 191h1v1h-1zM912 191h1v1h-1zM1107 191h1v1h-1zM1148 191h1v1h-1zM1306 191h1v1h-1zM1326 191h1v1h-1zM777 190h1v1h-1zM879 190h1v1h-1zM913 190h1v1h-1zM1107 190h1v1h-1zM1148 190h1v1h-1zM1305 190h1v1h-1zM1327 190h1v1h-1zM777 189h1v1h-1zM879 189h1v1h-1zM914 189h1v1h-1zM1106 189h1v1h-1zM1149 189h1v1h-1zM1304 189h1v1h-1zM1327 189h1v1h-1zM778 188h1v1h-1zM878 188h1v1h-1zM915 188h1v1h-1zM1106 188h1v1h-1zM1149 188h1v1h-1zM1304 188h1v1h-1zM1328 188h1v1h-1zM779 187h1v1h-1zM878 187h1v1h-1zM916 187h1v1h-1zM1105 187h1v1h-1zM1150 187h1v1h-1zM1303 187h1v1h-1zM1328 187h1v1h-1zM779 186h1v1h-1zM878 186h1v1h-1zM917 186h1v1h-1zM1105 186h1v1h-1zM1150 186h1v1h-1zM1302 186h1v1h-1zM1328 186h1v1h-1zM780 185h1v1h-1zM877 185h1v1h-1zM918 185h1v1h-1zM1104 185h1v1h-1zM1151 185h1v1h-1zM1301 185h1v1h-1zM1329 185h1v1h-1zM781 184h1v1h-1zM877 184h1v1h-1zM919 184h1v1h-1zM1104 184h1v1h-1zM1151 184h1v1h-1zM1300 184h1v1h-1zM1329 184h1v1h-1zM782 183h1v1h-1zM877 183h1v1h-1zM919 183h1v1h-1zM1103 183h1v1h-1zM1151 183h1v1h-1zM1299 183h1v1h-1zM1330 183h1v1h-1zM782 182h1v1h-1zM876 182h1v1h-1zM920 182h1v1h-1zM1103 182h1v1h-1zM1152 182h1v1h-1zM1298 182h1v1h-1zM1330 182h1v1h-1zM783 181h1v1h-1zM876 181h1v1h-1zM921 181h1v1h-1zM1102 181h1v1h-1zM1152 181h1v1h-1zM1297 181h1v1h-1zM1331 181h1v1h-1zM784 180h1v1h-1zM876 180h1v1h-1zM922 180h1v1h-1zM1102 180h1v1h-1zM1153 180h1v1h-1zM1296 180h1v1h-1zM1331 180h1v1h-1zM785 179h1v1h-1zM876 179h1v1h-1zM923 179h1v1h-1zM1102 179h1v1h-1zM1153 179h1v1h-1zM1295 179h1v1h-1zM1331 179h1v1h-1zM785 178h1v1h-1zM875 178h1v1h-1zM924 178h1v1h-1zM1101 178h1v1h-1zM1154 178h1v1h-1zM1294 178h1v1h-1zM1332 178h1v1h-1zM786 177h1v1h-1zM875 177h1v1h-1zM925 177h1v1h-1zM1101 177h1v1h-1zM1154 177h1v1h-1zM1293 177h1v1h-1zM1332 177h1v1h-1zM787 176h1v1h-1zM875 176h1v1h-1zM926 176h1v1h-1zM1100 176h1v1h-1zM1155 176h1v1h-1zM1293 176h1v1h-1zM1333 176h1v1h-1zM788 175h1v1h-1zM874 175h1v1h-1zM927 175h1v1h-1zM1100 175h1v1h-1zM1155 175h1v1h-1zM1292 175h1v1h-1zM1333 175h1v1h-1zM788 174h1v1h-1zM874 174h1v1h-1zM928 174h1v1h-1zM1099 174h1v1h-1zM1155 174h1v1h-1zM1291 174h1v1h-1zM1334 174h1v1h-1zM789 173h1v1h-1zM874 173h1v1h-1zM928 173h1v1h-1zM1099 173h1v1h-1zM1156 173h1v1h-1zM1290 173h1v1h-1zM1334 173h1v1h-1zM790 172h1v1h-1zM873 172h1v1h-1zM929 172h1v1h-1zM1098 172h1v1h-1zM1156 172h1v1h-1zM1289 172h1v1h-1zM1334 172h1v1h-1zM791 171h1v1h-1zM873 171h1v1h-1zM930 171h1v1h-1zM1098 171h1v1h-1zM1157 171h1v1h-1zM1288 171h1v1h-1zM1335 171h1v1h-1zM791 170h1v1h-1zM873 170h1v1h-1zM931 170h1v1h-1zM1097 170h1v1h-1zM1157 170h1v1h-1zM1287 170h1v1h-1zM1335 170h1v1h-1zM792 169h1v1h-1zM872 169h1v1h-1zM932 169h1v1h-1zM1097 169h1v1h-1zM1158 169h1v1h-1zM1286 169h1v1h-1zM1336 169h1v1h-1zM793 168h1v1h-1zM872 168h1v1h-1zM933 168h1v1h-1zM1096 168h1v1h-1zM1158 168h1v1h-1zM1285 168h1v1h-1zM1336 168h1v1h-1zM793 167h1v1h-1zM872 167h1v1h-1zM934 167h1v1h-1zM1096 167h1v1h-1zM1159 167h1v1h-1zM1284 167h1v1h-1zM1337 167h1v1h-1zM794 166h1v1h-1zM871 166h1v1h-1zM935 166h1v1h-1zM1095 166h1v1h-1zM1159 166h1v1h-1zM1283 166h1v1h-1zM1337 166h1v1h-1zM795 165h1v1h-1zM871 165h1v1h-1zM936 165h1v1h-1zM1095 165h1v1h-1zM1160 165h1v1h-1zM1282 165h1v1h-1zM1337 165h1v1h-1zM796 164h1v1h-1zM871 164h1v1h-1zM937 164h1v1h-1zM1094 164h1v1h-1zM1160 164h1v1h-1zM1282 164h1v1h-1zM1338 164h1v1h-1zM796 163h1v1h-1zM870 163h1v1h-1zM937 163h1v1h-1zM1094 163h1v1h-1zM1160 163h1v1h-1zM1281 163h1v1h-1zM1338 163h1v1h-1zM797 162h1v1h-1zM870 162h1v1h-1zM938 162h1v1h-1zM1093 162h1v1h-1zM1161 162h1v1h-1zM1280 162h1v1h-1zM1339 162h1v1h-1zM798 161h1v1h-1zM870 161h1v1h-1zM939 161h1v1h-1zM1093 161h1v1h-1zM1161 161h1v1h-1zM1279 161h1v1h-1zM1339 161h1v1h-1zM799 160h1v1h-1zM869 160h1v1h-1zM940 160h1v1h-1zM1093 160h1v1h-1zM1162 160h1v1h-1zM1278 160h1v1h-1zM1340 160h1v1h-1zM799 159h1v1h-1zM869 159h1v1h-1zM941 159h1v1h-1zM1092 159h1v1h-1zM1162 159h1v1h-1zM1277 159h1v1h-1zM1340 159h1v1h-1zM800 158h1v1h-1zM869 158h1v1h-1zM942 158h1v1h-1zM1092 158h1v1h-1zM1163 158h1v1h-1zM1276 158h1v1h-1zM1340 158h1v1h-1zM801 157h1v1h-1zM868 157h1v1h-1zM943 157h1v1h-1zM1091 157h1v1h-1zM1163 157h1v1h-1zM1275 157h1v1h-1zM1341 157h1v1h-1zM802 156h1v1h-1zM868 156h1v1h-1zM944 156h1v1h-1zM1091 156h1v1h-1zM1164 156h1v1h-1zM1274 156h1v1h-1zM1341 156h1v1h-1zM802 155h1v1h-1zM868 155h1v1h-1zM945 155h1v1h-1zM1090 155h1v1h-1zM1164 155h1v1h-1zM1273 155h1v1h-1zM1342 155h1v1h-1zM803 154h1v1h-1zM868 154h1v1h-1zM946 154h1v1h-1zM1090 154h1v1h-1zM1164 154h1v1h-1zM1272 154h1v1h-1zM1342 154h1v1h-1zM804 153h1v1h-1zM867 153h1v1h-1zM946 153h1v1h-1zM1089 153h1v1h-1zM1165 153h1v1h-1zM1271 153h1v1h-1zM1343 153h1v1h-1zM805 152h1v1h-1zM867 152h1v1h-1zM947 152h1v1h-1zM1089 152h1v1h-1zM1165 152h1v1h-1zM1271 152h1v1h-1zM1343 152h1v1h-1zM805 151h1v1h-1zM867 151h1v1h-1zM948 151h1v1h-1zM1088 151h1v1h-1zM1166 151h1v1h-1zM1270 151h1v1h-1zM1343 151h1v1h-1zM806 150h1v1h-1zM866 150h1v1h-1zM949 150h1v1h-1zM1088 150h1v1h-1zM1166 150h1v1h-1zM1269 150h1v1h-1zM1344 150h1v1h-1zM807 149h1v1h-1zM866 149h1v1h-1zM950 149h1v1h-1zM1087 149h1v1h-1zM1167 149h1v1h-1zM1268 149h1v1h-1zM1344 149h1v1h-1zM807 148h1v1h-1zM866 148h1v1h-1zM951 148h1v1h-1zM1087 148h1v1h-1zM1167 148h1v1h-1zM1267 148h1v1h-1zM1345 148h1v1h-1zM808 147h1v1h-1zM865 147h1v1h-1zM952 147h1v1h-1zM1086 147h1v1h-1zM1168 147h1v1h-1zM1266 147h1v1h-1zM1345 147h1v1h-1zM809 146h1v1h-1zM865 146h1v1h-1zM953 146h1v1h-1zM1086 146h1v1h-1zM1168 146h1v1h-1zM1265 146h1v1h-1zM1345 146h1v1h-1zM810 145h1v1h-1zM865 145h1v1h-1zM954 145h1v1h-1zM1085 145h1v1h-1zM1169 145h1v1h-1zM1264 145h1v1h-1zM1346 145h1v1h-1zM810 144h1v1h-1zM864 144h1v1h-1zM955 144h1v1h-1zM1085 144h1v1h-1zM1169 144h1v1h-1zM1263 144h1v1h-1zM1346 144h1v1h-1zM811 143h1v1h-1zM864 143h1v1h-1zM955 143h1v1h-1zM1084 143h1v1h-1zM1169 143h1v1h-1zM1262 143h1v1h-1zM1347 143h1v1h-1zM812 142h1v1h-1zM864 142h1v1h-1zM956 142h1v1h-1zM1084 142h1v1h-1zM1170 142h1v1h-1zM1261 142h1v1h-1zM1347 142h1v1h-1zM813 141h1v1h-1zM863 141h1v1h-1zM957 141h1v1h-1zM1084 141h1v1h-1zM1170 141h1v1h-1zM1260 141h1v1h-1zM1348 141h1v1h-1zM813 140h1v1h-1zM863 140h1v1h-1zM958 140h1v1h-1zM1083 140h1v1h-1zM1171 140h1v1h-1zM1260 140h1v1h-1zM1348 140h1v1h-1zM814 139h1v1h-1zM863 139h1v1h-1zM959 139h1v1h-1zM1083 139h1v1h-1zM1171 139h1v1h-1zM1259 139h1v1h-1zM1348 139h1v1h-1zM815 138h1v1h-1zM862 138h1v1h-1zM960 138h1v1h-1zM1082 138h1v1h-1zM1172 138h1v1h-1zM1258 138h1v1h-1zM1349 138h1v1h-1zM816 137h1v1h-1zM862 137h1v1h-1zM961 137h1v1h-1zM1082 137h1v1h-1zM1172 137h1v1h-1zM1257 137h1v1h-1zM1349 137h1v1h-1zM816 136h1v1h-1zM862 136h1v1h-1zM962 136h1v1h-1zM1081 136h1v1h-1zM1173 136h1v1h-1zM1256 136h1v1h-1zM1350 136h1v1h-1zM817 135h1v1h-1zM861 135h1v1h-1zM963 135h1v1h-1zM1081 135h1v1h-1zM1173 135h1v1h-1zM1255 135h1v1h-1zM1350 135h1v1h-1zM818 134h1v1h-1zM861 134h1v1h-1zM964 134h1v1h-1zM1080 134h1v1h-1zM1173 134h1v1h-1zM1254 134h1v1h-1zM1351 134h1v1h-1zM819 133h1v1h-1zM861 133h1v1h-1zM964 133h1v1h-1zM1080 133h1v1h-1zM1174 133h1v1h-1zM1253 133h1v1h-1zM1351 133h1v1h-1zM819 132h1v1h-1zM860 132h1v1h-1zM965 132h1v1h-1zM1079 132h1v1h-1zM1174 132h1v1h-1zM1252 132h1v1h-1zM1351 132h1v1h-1zM820 131h1v1h-1zM860 131h1v1h-1zM966 131h1v1h-1zM1079 131h1v1h-1zM1175 131h1v1h-1zM1251 131h1v1h-1zM1352 131h1v1h-1zM821 130h1v1h-1zM860 130h1v1h-1zM967 130h1v1h-1zM1078 130h1v1h-1zM1175 130h1v1h-1zM1250 130h1v1h-1zM1352 130h1v1h-1zM821 129h1v1h-1zM860 129h1v1h-1zM968 129h1v1h-1zM1078 129h1v1h-1zM1176 129h1v1h-1zM1249 129h1v1h-1zM1353 129h1v1h-1zM822 128h1v1h-1zM859 128h1v1h-1zM969 128h1v1h-1zM1077 128h1v1h-1zM1176 128h1v1h-1zM1249 128h1v1h-1zM1353 128h1v1h-1zM823 127h1v1h-1zM859 127h1v1h-1zM970 127h1v1h-1zM1077 127h1v1h-1zM1177 127h1v1h-1zM1248 127h1v1h-1zM1354 127h1v1h-1zM824 126h1v1h-1zM859 126h1v1h-1zM971 126h1v1h-1zM1076 126h1v1h-1zM1177 126h1v1h-1zM1247 126h1v1h-1zM1354 126h1v1h-1zM824 125h1v1h-1zM858 125h1v1h-1zM972 125h1v1h-1zM1076 125h1v1h-1zM1178 125h1v1h-1zM1246 125h1v1h-1zM1354 125h1v1h-1zM825 124h1v1h-1zM858 124h1v1h-1zM973 124h1v1h-1zM1075 124h1v1h-1zM1178 124h1v1h-1zM1245 124h1v1h-1zM1355 124h1v1h-1zM826 123h1v1h-1zM858 123h1v1h-1zM973 123h1v1h-1zM1075 123h1v1h-1zM1178 123h1v1h-1zM1244 123h1v1h-1zM1355 123h1v1h-1zM827 122h1v1h-1zM857 122h1v1h-1zM974 122h1v1h-1zM1075 122h1v1h-1zM1179 122h1v1h-1zM1243 122h1v1h-1zM1356 122h1v1h-1zM827 121h1v1h-1zM857 121h1v1h-1zM975 121h1v1h-1zM1074 121h1v1h-1zM1179 121h1v1h-1zM1242 121h1v1h-1zM1356 121h1v1h-1zM828 120h1v1h-1zM857 120h1v1h-1zM976 120h1v1h-1zM1074 120h1v1h-1zM1180 120h1v1h-1zM1241 120h1v1h-1zM1357 120h1v1h-1zM829 119h1v1h-1zM856 119h1v1h-1zM977 119h1v1h-1zM1073 119h1v1h-1zM1180 119h1v1h-1zM1240 119h1v1h-1zM1357 119h1v1h-1zM830 118h1v1h-1zM856 118h1v1h-1zM978 118h1v1h-1zM1073 118h1v1h-1zM1181 118h1v1h-1zM1239 118h1v1h-1zM1357 118h1v1h-1zM830 117h1v1h-1zM856 117h1v1h-1zM979 117h1v1h-1zM1072 117h1v1h-1zM1181 117h1v1h-1zM1238 117h1v1h-1zM1358 117h1v1h-1zM831 116h1v1h-1zM855 116h1v1h-1zM980 116h1v1h-1zM1072 116h1v1h-1zM1182 116h1v1h-1zM1238 116h1v1h-1zM1358 116h1v1h-1zM832 115h1v1h-1zM855 115h1v1h-1zM981 115h1v1h-1zM1071 115h1v1h-1zM1182 115h1v1h-1zM1237 115h1v1h-1zM1359 115h1v1h-1zM833 114h1v1h-1zM855 114h1v1h-1zM982 114h1v1h-1zM1071 114h1v1h-1zM1182 114h1v1h-1zM1236 114h1v1h-1zM1359 114h1v1h-1zM833 113h1v1h-1zM854 113h1v1h-1zM982 113h1v1h-1zM1070 113h1v1h-1zM1183 113h1v1h-1zM1235 113h1v1h-1zM1360 113h1v1h-1zM834 112h1v1h-1zM854 112h1v1h-1zM983 112h1v1h-1zM1070 112h1v1h-1zM1183 112h1v1h-1zM1234 112h1v1h-1zM1360 112h1v1h-1zM835 111h1v1h-1zM854 111h1v1h-1zM984 111h1v1h-1zM1069 111h1v1h-1zM1184 111h1v1h-1zM1233 111h1v1h-1zM1360 111h1v1h-1zM835 110h1v1h-1zM853 110h1v1h-1zM985 110h1v1h-1zM1069 110h1v1h-1zM1184 110h1v1h-1zM1232 110h1v1h-1zM1361 110h1v1h-1zM836 109h1v1h-1zM853 109h1v1h-1zM986 109h1v1h-1zM1068 109h1v1h-1zM1185 109h1v1h-1zM1231 109h1v1h-1zM1361 109h1v1h-1zM837 108h1v1h-1zM853 108h1v1h-1zM987 108h1v1h-1zM1068 108h1v1h-1zM1185 108h1v1h-1zM1230 108h1v1h-1zM1362 108h1v1h-1zM838 107h1v1h-1zM852 107h1v1h-1zM988 107h1v1h-1zM1067 107h1v1h-1zM1186 107h1v1h-1zM1229 107h1v1h-1zM1362 107h1v1h-1zM838 106h1v1h-1zM852 106h1v1h-1zM989 106h1v1h-1zM1067 106h1v1h-1zM1186 106h1v1h-1zM1228 106h1v1h-1zM1362 106h1v1h-1zM839 105h1v1h-1zM852 105h1v1h-1zM990 105h1v1h-1zM1066 105h1v1h-1zM1187 105h1v1h-1zM1227 105h1v1h-1zM1363 105h1v1h-1zM840 104h1v1h-1zM852 104h1v1h-1zM991 104h1v1h-1zM1066 104h1v1h-1zM1187 104h1v1h-1zM1227 104h1v1h-1zM1363 104h1v1h-1zM841 103h1v1h-1zM851 103h1v1h-1zM991 103h1v1h-1zM1066 103h1v1h-1zM1187 103h1v1h-1zM1226 103h1v1h-1zM1364 103h1v1h-1zM841 102h1v1h-1zM851 102h1v1h-1zM992 102h1v1h-1zM1065 102h1v1h-1zM1188 102h1v1h-1zM1225 102h1v1h-1zM1364 102h1v1h-1zM842 101h1v1h-1zM851 101h1v1h-1zM993 101h1v1h-1zM1065 101h1v1h-1zM1188 101h1v1h-1zM1224 101h1v1h-1zM1365 101h1v1h-1zM843 100h1v1h-1zM850 100h1v1h-1zM994 100h1v1h-1zM1064 100h1v1h-1zM1189 100h1v1h-1zM1223 100h1v1h-1zM1365 100h1v1h-1zM844 99h1v1h-1zM850 99h1v1h-1zM995 99h1v1h-1zM1064 99h1v1h-1zM1189 99h1v1h-1zM1222 99h1v1h-1zM1365 99h1v1h-1zM844 98h1v1h-1zM850 98h1v1h-1zM996 98h1v1h-1zM1063 98h1v1h-1zM1190 98h1v1h-1zM1221 98h1v1h-1zM1366 98h1v1h-1zM845 97h1v1h-1zM849 97h1v1h-1zM997 97h1v1h-1zM1063 97h1v1h-1zM1190 97h1v1h-1zM1220 97h1v1h-1zM1366 97h1v1h-1zM846 96h1v1h-1zM849 96h1v1h-1zM998 96h1v1h-1zM1062 96h1v1h-1zM1191 96h1v1h-1zM1219 96h1v1h-1zM1367 96h1v1h-1zM847 95h1v1h-1zM849 95h1v1h-1zM999 95h1v1h-1zM1062 95h1v1h-1zM1191 95h1v1h-1zM1218 95h1v1h-1zM1367 95h1v1h-1zM847 94h2v1h-2zM1000 94h1v1h-1zM1061 94h1v1h-1zM1191 94h1v1h-1zM1217 94h1v1h-1zM1368 94h1v1h-1zM848 93h1v1h-1zM1000 93h1v1h-1zM1061 93h1v1h-1zM1192 93h1v1h-1zM1216 93h1v1h-1zM1368 93h1v1h-1zM1001 92h1v1h-1zM1060 92h1v1h-1zM1192 92h1v1h-1zM1216 92h1v1h-1zM1002 91h1v1h-1zM1060 91h1v1h-1zM1193 91h1v1h-1zM1215 91h1v1h-1zM1003 90h1v1h-1zM1059 90h1v1h-1zM1193 90h1v1h-1zM1214 90h1v1h-1zM1004 89h1v1h-1zM1059 89h1v1h-1zM1194 89h1v1h-1zM1213 89h1v1h-1zM1005 88h1v1h-1zM1058 88h1v1h-1zM1194 88h1v1h-1zM1212 88h1v1h-1zM1006 87h1v1h-1zM1058 87h1v1h-1zM1195 87h1v1h-1zM1211 87h1v1h-1zM1007 86h1v1h-1zM1058 86h1v1h-1zM1195 86h1v1h-1zM1210 86h1v1h-1zM1008 85h1v1h-1zM1057 85h1v1h-1zM1196 85h1v1h-1zM1209 85h1v1h-1zM1009 84h1v1h-1zM1057 84h1v1h-1zM1196 84h1v1h-1zM1208 84h1v1h-1zM1009 83h1v1h-1zM1056 83h1v1h-1zM1196 83h1v1h-1zM1207 83h1v1h-1zM1010 82h1v1h-1zM1056 82h1v1h-1zM1197 82h1v1h-1zM1206 82h1v1h-1zM1011 81h1v1h-1zM1055 81h1v1h-1zM1197 81h1v1h-1zM1205 81h1v1h-1zM1012 80h1v1h-1zM1055 80h1v1h-1zM1198 80h1v1h-1zM1205 80h1v1h-1zM1013 79h1v1h-1zM1054 79h1v1h-1zM1198 79h1v1h-1zM1204 79h1v1h-1zM1014 78h1v1h-1zM1054 78h1v1h-1zM1199 78h1v1h-1zM1203 78h1v1h-1zM1015 77h1v1h-1zM1053 77h1v1h-1zM1199 77h1v1h-1zM1202 77h1v1h-1zM1016 76h1v1h-1zM1053 76h1v1h-1zM1200 76h2v1h-2zM1017 75h1v1h-1zM1052 75h1v1h-1zM1200 75h1v1h-1zM1018 74h1v1h-1zM1052 74h1v1h-1zM1018 73h1v1h-1zM1051 73h1v1h-1zM1019 72h1v1h-1zM1051 72h1v1h-1zM1020 71h1v1h-1zM1050 71h1v1h-1zM1021 70h1v1h-1zM1050 70h1v1h-1zM1022 69h1v1h-1zM1049 69h1v1h-1zM1023 68h1v1h-1zM1049 68h1v1h-1zM1024 67h1v1h-1zM1049 67h1v1h-1zM1025 66h1v1h-1zM1048 66h1v1h-1zM1026 65h1v1h-1zM1048 65h1v1h-1zM1027 64h1v1h-1zM1047 64h1v1h-1zM1027 63h1v1h-1zM1047 63h1v1h-1zM1028 62h1v1h-1zM1046 62h1v1h-1zM1029 61h1v1h-1zM1046 61h1v1h-1zM1030 60h1v1h-1zM1045 60h1v1h-1zM1031 59h1v1h-1zM1045 59h1v1h-1zM1032 58h1v1h-1zM1044 58h1v1h-1zM1033 57h1v1h-1zM1044 57h1v1h-1zM1034 56h1v1h-1zM1043 56h1v1h-1zM1035 55h1v1h-1zM1043 55h1v1h-1zM1036 54h1v1h-1zM1042 54h1v1h-1zM1036 53h1v1h-1zM1042 53h1v1h-1zM1037 52h1v1h-1zM1041 52h1v1h-1zM1038 51h1v1h-1zM1041 51h1v1h-1zM1039 50h2v1h-2zM1040 49h1v1h-1z"/><rect x="0" y="350" width="1" height="33" fill="#000"/><rect x="-2" y="369" width="5" height="12" fill="#000"/><rect x="-1" y="370" width="3" height="10" fill="#fff"/><rect x="8" y="292" width="1" height="83" fill="#000"/><rect x="6" y="312" width="5" height="58" fill="#000"/><rect x="7" y="313" width="3" height="56" fill="#fff"/><rect x="16" y="276" width="1" height="63" fill="#000"/><rect x="14" y="312" width="5" height="22" fill="#000"/><rect x="24" y="315" width="1" height="59" fill="#000"/><rect x="22" y="332" width="5" height="6" fill="#000"/><rect x="32" y="292" width="1" height="56" fill="#000"/><rect x="30" y="303" width="5" height="34" fill="#000"/><rect x="31" y="304" width="3" height="32" fill="#fff"/><rect x="40" y="327" width="1" height="18" fill="#000"/><rect x="38" y="334" width="5" height="11" fill="#000"/><rect x="48" y="322" width="1" height="43" fill="#000"/><rect x="46" y="342" width="5" height="15" fill="#000"/><rect x="56" y="304" width="1" height="70" fill="#000"/><rect x="54" y="347" width="5" height="10" fill="#000"/><rect x="55" y="348" width="3" height="8" fill="#fff"/><rect x="64" y="342" width="1" height="26" fill="#000"/><rect x="62" y="347" width="5" height="19" fill="#000"/><rect x="72" y="336" width="1" height="45" fill="#000"/><rect x="70" y="361" width="5" height="4" fill="#000"/><rect x="71" y="362" width="3" height="2" fill="#fff"/><rect x="80" y="354" width="1" height="42" fill="#000"/><rect x="78" y="359" width="5" height="22" fill="#000"/><rect x="88" y="369" width="1" height="15" fill="#000"/><rect x="86" y="373" width="5" height="8" fill="#000"/><rect x="87" y="374" width="3" height="6" fill="#fff"/><rect x="96" y="354" width="1" height="22" fill="#000"/><rect x="94" y="363" width="5" height="11" fill="#000"/><rect x="95" y="364" width="3" height="9" fill="#fff"/><rect x="104" y="352" width="1" height="40" fill="#000"/><rect x="102" y="363" width="5" height="1" fill="#000"/><rect x="112" y="335" width="1" height="60" fill="#000"/><rect x="110" y="340" width="5" height="22" fill="#000"/><rect x="111" y="341" width="3" height="20" fill="#fff"/><rect x="120" y="294" width="1" height="55" fill="#000"/><rect x="118" y="340" width="5" height="8" fill="#000"/><rect x="128" y="337" width="1" height="35" fill="#000"/><rect x="126" y="347" width="5" height="9" fill="#000"/><rect x="136" y="352" width="1" height="12" fill="#000"/><rect x="134" y="355" width="5" height="1" fill="#000"/><rect x="144" y="345" width="1" height="24" fill="#000"/><rect x="142" y="355" width="5" height="12" fill="#000"/><rect x="152" y="351" width="1" height="28" fill="#000"/><rect x="150" y="356" width="5" height="11" fill="#000"/><rect x="151" y="357" width="3" height="9" fill="#fff"/><rect x="160" y="342" width="1" height="27" fill="#000"/><rect x="158" y="349" width="5" height="8" fill="#000"/><rect x="159" y="350" width="3" height="6" fill="#fff"/><rect x="168" y="309" width="1" height="48" fill="#000"/><rect x="166" y="338" width="5" height="12" fill="#000"/><rect x="167" y="339" width="3" height="10" fill="#fff"/><rect x="176" y="236" width="1" height="137" fill="#000"/><rect x="174" y="258" width="5" height="81" fill="#000"/><rect x="175" y="259" width="3" height="79" fill="#fff"/><rect x="184" y="231" width="1" height="33" fill="#000"/><rect x="182" y="243" width="5" height="14" fill="#000"/><rect x="183" y="244" width="3" height="12" fill="#fff"/><rect x="192" y="219" width="1" height="44" fill="#000"/><rect x="190" y="243" width="5" height="5" fill="#000"/><rect x="200" y="245" width="1" height="40" fill="#000"/><rect x="198" y="247" width="5" height="24" fill="#000"/><rect x="208" y="258" width="1" height="74" fill="#000"/><rect x="206" y="270" width="5" height="59" fill="#000"/><rect x="216" y="299" width="1" height="83" fill="#000"/><rect x="214" y="329" width="5" height="49" fill="#000"/><rect x="224" y="325" width="1" height="69" fill="#000"/><rect x="222" y="325" width="5" height="53" fill="#000"/><rect x="223" y="326" width="3" height="51" fill="#fff"/><rect x="232" y="325" width="1" height="19" fill="#000"/><rect x="230" y="325" width="5" height="14" fill="#000"/><rect x="240" y="325" width="1" height="42" fill="#000"/><rect x="238" y="338" width="5" height="9" fill="#000"/><rect x="248" y="334" width="1" height="72" fill="#000"/><rect x="246" y="346" width="5" height="15" fill="#000"/><rect x="256" y="269" width="1" height="102" fill="#000"/><rect x="254" y="308" width="5" height="53" fill="#000"/><rect x="255" y="309" width="3" height="51" fill="#fff"/><rect x="264" y="272" width="1" height="57" fill="#000"/><rect x="262" y="302" width="5" height="6" fill="#000"/><rect x="263" y="303" width="3" height="4" fill="#fff"/><rect x="272" y="290" width="1" height="45" fill="#000"/><rect x="270" y="301" width="5" height="29" fill="#000"/><rect x="280" y="339" width="1" height="11" fill="#000"/><rect x="278" y="341" width="5" height="7" fill="#000"/><rect x="288" y="343" width="1" height="39" fill="#000"/><rect x="286" y="346" width="5" height="28" fill="#000"/><rect x="296" y="350" width="1" height="41" fill="#000"/><rect x="294" y="371" width="5" height="3" fill="#000"/><rect x="295" y="372" width="3" height="1" fill="#fff"/><rect x="304" y="323" width="1" height="61" fill="#000"/><rect x="302" y="330" width="5" height="42" fill="#000"/><rect x="303" y="331" width="3" height="40" fill="#fff"/><rect x="312" y="299" width="1" height="66" fill="#000"/><rect x="310" y="318" width="5" height="12" fill="#000"/><rect x="311" y="319" width="3" height="10" fill="#fff"/><rect x="320" y="276" width="1" height="50" fill="#000"/><rect x="318" y="316" width="5" height="3" fill="#000"/><rect x="319" y="317" width="3" height="1" fill="#fff"/><rect x="328" y="304" width="1" height="20" fill="#000"/><rect x="326" y="311" width="5" height="7" fill="#000"/><rect x="327" y="312" width="3" height="5" fill="#fff"/><rect x="336" y="291" width="1" height="31" fill="#000"/><rect x="334" y="292" width="5" height="18" fill="#000"/><rect x="335" y="293" width="3" height="16" fill="#fff"/><rect x="344" y="285" width="1" height="41" fill="#000"/><rect x="342" y="293" width="5" height="26" fill="#000"/><rect x="352" y="296" width="1" height="45" fill="#000"/><rect x="350" y="318" width="5" height="5" fill="#000"/><rect x="360" y="297" width="1" height="59" fill="#000"/><rect x="358" y="322" width="5" height="28" fill="#000"/><rect x="368" y="330" width="1" height="25" fill="#000"/><rect x="366" y="343" width="5" height="5" fill="#000"/><rect x="367" y="344" width="3" height="3" fill="#fff"/><rect x="376" y="343" width="1" height="13" fill="#000"/><rect x="374" y="343" width="5" height="8" fill="#000"/><rect x="384" y="339" width="1" height="17" fill="#000"/><rect x="382" y="342" width="5" height="9" fill="#000"/><rect x="383" y="343" width="3" height="7" fill="#fff"/><rect x="392" y="313" width="1" height="32" fill="#000"/><rect x="390" y="324" width="5" height="19" fill="#000"/><rect x="391" y="325" width="3" height="17" fill="#fff"/><rect x="400" y="296" width="1" height="39" fill="#000"/><rect x="398" y="323" width="5" height="10" fill="#000"/><rect x="408" y="294" width="1" height="89" fill="#000"/><rect x="406" y="332" width="5" height="9" fill="#000"/><rect x="416" y="332" width="1" height="37" fill="#000"/><rect x="414" y="341" width="5" height="26" fill="#000"/><rect x="424" y="363" width="1" height="10" fill="#000"/><rect x="422" y="366" width="5" height="6" fill="#000"/><rect x="432" y="350" width="1" height="27" fill="#000"/><rect x="430" y="359" width="5" height="13" fill="#000"/><rect x="431" y="360" width="3" height="11" fill="#fff"/><rect x="440" y="355" width="1" height="97" fill="#000"/><rect x="438" y="359" width="5" height="74" fill="#000"/><rect x="448" y="426" width="1" height="90" fill="#000"/><rect x="446" y="431" width="5" height="72" fill="#000"/><rect x="456" y="457" width="1" height="78" fill="#000"/><rect x="454" y="503" width="5" height="29" fill="#000"/><rect x="464" y="513" width="1" height="43" fill="#000"/><rect x="462" y="531" width="5" height="2" fill="#000"/><rect x="472" y="521" width="1" height="13" fill="#000"/><rect x="470" y="527" width="5" height="7" fill="#000"/><rect x="471" y="528" width="3" height="5" fill="#fff"/><rect x="480" y="504" width="1" height="29" fill="#000"/><rect x="478" y="513" width="5" height="13" fill="#000"/><rect x="479" y="514" width="3" height="11" fill="#fff"/><rect x="488" y="479" width="1" height="43" fill="#000"/><rect x="486" y="484" width="5" height="29" fill="#000"/><rect x="487" y="485" width="3" height="27" fill="#fff"/><rect x="496" y="479" width="1" height="58" fill="#000"/><rect x="494" y="483" width="5" height="40" fill="#000"/><rect x="504" y="483" width="1" height="77" fill="#000"/><rect x="502" y="488" width="5" height="35" fill="#000"/><rect x="503" y="489" width="3" height="33" fill="#fff"/><rect x="512" y="483" width="1" height="27" fill="#000"/><rect x="510" y="489" width="5" height="7" fill="#000"/><rect x="520" y="496" width="1" height="10" fill="#000"/><rect x="518" y="496" width="5" height="9" fill="#000"/><rect x="528" y="482" width="1" height="34" fill="#000"/><rect x="526" y="502" width="5" height="5" fill="#000"/><rect x="536" y="472" width="1" height="38" fill="#000"/><rect x="534" y="492" width="5" height="14" fill="#000"/><rect x="535" y="493" width="3" height="12" fill="#fff"/><rect x="544" y="457" width="1" height="37" fill="#000"/><rect x="542" y="480" width="5" height="13" fill="#000"/><rect x="543" y="481" width="3" height="11" fill="#fff"/><rect x="552" y="461" width="1" height="52" fill="#000"/><rect x="550" y="479" width="5" height="3" fill="#000"/><rect x="551" y="480" width="3" height="1" fill="#fff"/><rect x="560" y="451" width="1" height="32" fill="#000"/><rect x="558" y="464" width="5" height="16" fill="#000"/><rect x="559" y="465" width="3" height="14" fill="#fff"/><rect x="568" y="457" width="1" height="12" fill="#000"/><rect x="566" y="457" width="5" height="7" fill="#000"/><rect x="567" y="458" width="3" height="5" fill="#fff"/><rect x="576" y="440" width="1" height="24" fill="#000"/><rect x="574" y="455" width="5" height="1" fill="#000"/><rect x="584" y="414" width="1" height="46" fill="#000"/><rect x="582" y="428" width="5" height="27" fill="#000"/><rect x="583" y="429" width="3" height="25" fill="#fff"/><rect x="592" y="319" width="1" height="117" fill="#000"/><rect x="590" y="338" width="5" height="90" fill="#000"/><rect x="591" y="339" width="3" height="88" fill="#fff"/><rect x="600" y="327" width="1" height="29" fill="#000"/><rect x="598" y="338" width="5" height="8" fill="#000"/><rect x="608" y="321" width="1" height="39" fill="#000"/><rect x="606" y="331" width="5" height="15" fill="#000"/><rect x="607" y="332" width="3" height="13" fill="#fff"/><rect x="616" y="322" width="1" height="14" fill="#000"/><rect x="614" y="328" width="5" height="3" fill="#000"/><rect x="615" y="329" width="3" height="1" fill="#fff"/><rect x="624" y="310" width="1" height="46" fill="#000"/><rect x="622" y="327" width="5" height="21" fill="#000"/><rect x="632" y="337" width="1" height="32" fill="#000"/><rect x="630" y="347" width="5" height="20" fill="#000"/><rect x="640" y="351" width="1" height="40" fill="#000"/><rect x="638" y="365" width="5" height="9" fill="#000"/><rect x="648" y="336" width="1" height="62" fill="#000"/><rect x="646" y="372" width="5" height="24" fill="#000"/><rect x="656" y="387" width="1" height="40" fill="#000"/><rect x="654" y="395" width="5" height="29" fill="#000"/><rect x="664" y="415" width="1" height="17" fill="#000"/><rect x="662" y="416" width="5" height="8" fill="#000"/><rect x="663" y="417" width="3" height="6" fill="#fff"/><rect x="672" y="377" width="1" height="45" fill="#000"/><rect x="670" y="386" width="5" height="29" fill="#000"/><rect x="671" y="387" width="3" height="27" fill="#fff"/><rect x="680" y="377" width="1" height="50" fill="#000"/><rect x="678" y="386" width="5" height="9" fill="#000"/><rect x="688" y="339" width="1" height="70" fill="#000"/><rect x="686" y="364" width="5" height="30" fill="#000"/><rect x="687" y="365" width="3" height="28" fill="#fff"/><rect x="696" y="269" width="1" height="97" fill="#000"/><rect x="694" y="284" width="5" height="80" fill="#000"/><rect x="695" y="285" width="3" height="78" fill="#fff"/><rect x="704" y="259" width="1" height="32" fill="#000"/><rect x="702" y="279" width="5" height="4" fill="#000"/><rect x="703" y="280" width="3" height="2" fill="#fff"/><rect x="712" y="278" width="1" height="16" fill="#000"/><rect x="710" y="278" width="5" height="15" fill="#000"/><rect x="720" y="287" width="1" height="35" fill="#000"/><rect x="718" y="291" width="5" height="17" fill="#000"/><rect x="728" y="275" width="1" height="38" fill="#000"/><rect x="726" y="296" width="5" height="12" fill="#000"/><rect x="727" y="297" width="3" height="10" fill="#fff"/><rect x="736" y="269" width="1" height="53" fill="#000"/><rect x="734" y="295" width="5" height="13" fill="#000"/><rect x="744" y="291" width="1" height="48" fill="#000"/><rect x="742" y="308" width="5" height="9" fill="#000"/><rect x="752" y="314" width="1" height="33" fill="#000"/><rect x="750" y="316" width="5" height="16" fill="#000"/><rect x="760" y="295" width="1" height="10" fill="#000"/><rect x="758" y="295" width="5" height="10" fill="#000"/><rect x="768" y="274" width="1" height="31" fill="#000"/><rect x="766" y="276" width="5" height="28" fill="#000"/><rect x="767" y="277" width="3" height="26" fill="#fff"/><rect x="776" y="251" width="1" height="31" fill="#000"/><rect x="774" y="266" width="5" height="10" fill="#000"/><rect x="775" y="267" width="3" height="8" fill="#fff"/><rect x="784" y="165" width="1" height="101" fill="#000"/><rect x="782" y="203" width="5" height="63" fill="#000"/><rect x="783" y="204" width="3" height="61" fill="#fff"/><rect x="792" y="161" width="1" height="54" fill="#000"/><rect x="790" y="184" width="5" height="19" fill="#000"/><rect x="791" y="185" width="3" height="17" fill="#fff"/><rect x="800" y="153" width="1" height="37" fill="#000"/><rect x="798" y="166" width="5" height="21" fill="#000"/><rect x="799" y="167" width="3" height="19" fill="#fff"/><rect x="808" y="157" width="1" height="18" fill="#000"/><rect x="806" y="166" width="5" height="3" fill="#000"/><rect x="816" y="168" width="1" height="28" fill="#000"/><rect x="814" y="170" width="5" height="13" fill="#000"/><rect x="824" y="108" width="1" height="87" fill="#000"/><rect x="822" y="114" width="5" height="69" fill="#000"/><rect x="823" y="115" width="3" height="67" fill="#fff"/><rect x="832" y="111" width="1" height="39" fill="#000"/><rect x="830" y="115" width="5" height="19" fill="#000"/><rect x="840" y="95" width="1" height="61" fill="#000"/><rect x="838" y="101" width="5" height="32" fill="#000"/><rect x="839" y="102" width="3" height="30" fill="#fff"/><rect x="848" y="93" width="1" height="31" fill="#000"/><rect x="846" y="99" width="5" height="17" fill="#000"/><rect x="856" y="105" width="1" height="11" fill="#000"/><rect x="854" y="113" width="5" height="3" fill="#000"/><rect x="855" y="114" width="3" height="1" fill="#fff"/><rect x="864" y="107" width="1" height="39" fill="#000"/><rect x="862" y="113" width="5" height="22" fill="#000"/><rect x="872" y="134" width="1" height="38" fill="#000"/><rect x="870" y="134" width="5" height="36" fill="#000"/><rect x="880" y="168" width="1" height="37" fill="#000"/><rect x="878" y="169" width="5" height="30" fill="#000"/><rect x="888" y="165" width="1" height="53" fill="#000"/><rect x="886" y="197" width="5" height="4" fill="#000"/><rect x="896" y="157" width="1" height="51" fill="#000"/><rect x="894" y="178" width="5" height="23" fill="#000"/><rect x="895" y="179" width="3" height="21" fill="#fff"/><rect x="904" y="155" width="1" height="27" fill="#000"/><rect x="902" y="167" width="5" height="10" fill="#000"/><rect x="903" y="168" width="3" height="8" fill="#fff"/><rect x="912" y="143" width="1" height="26" fill="#000"/><rect x="910" y="149" width="5" height="16" fill="#000"/><rect x="911" y="150" width="3" height="14" fill="#fff"/><rect x="920" y="147" width="1" height="48" fill="#000"/><rect x="918" y="148" width="5" height="16" fill="#000"/><rect x="928" y="123" width="1" height="54" fill="#000"/><rect x="926" y="144" width="5" height="20" fill="#000"/><rect x="927" y="145" width="3" height="18" fill="#fff"/><rect x="936" y="116" width="1" height="48" fill="#000"/><rect x="934" y="120" width="5" height="24" fill="#000"/><rect x="935" y="121" width="3" height="22" fill="#fff"/><rect x="944" y="116" width="1" height="33" fill="#000"/><rect x="942" y="120" width="5" height="2" fill="#000"/><rect x="952" y="110" width="1" height="21" fill="#000"/><rect x="950" y="112" width="5" height="10" fill="#000"/><rect x="951" y="113" width="3" height="8" fill="#fff"/><rect x="960" y="74" width="1" height="40" fill="#000"/><rect x="958" y="85" width="5" height="28" fill="#000"/><rect x="959" y="86" width="3" height="26" fill="#fff"/><rect x="968" y="82" width="1" height="29" fill="#000"/><rect x="966" y="85" width="5" height="24" fill="#000"/><rect x="976" y="99" width="1" height="55" fill="#000"/><rect x="974" y="108" width="5" height="34" fill="#000"/><rect x="984" y="91" width="1" height="59" fill="#000"/><rect x="982" y="141" width="5" height="1" fill="#000"/><rect x="992" y="113" width="1" height="34" fill="#000"/><rect x="990" y="113" width="5" height="28" fill="#000"/><rect x="991" y="114" width="3" height="26" fill="#fff"/><rect x="1000" y="114" width="1" height="6" fill="#000"/><rect x="998" y="117" width="5" height="1" fill="#000"/><rect x="1008" y="85" width="1" height="34" fill="#000"/><rect x="1006" y="99" width="5" height="17" fill="#000"/><rect x="1007" y="100" width="3" height="15" fill="#fff"/><rect x="1016" y="68" width="1" height="35" fill="#000"/><rect x="1014" y="99" width="5" height="2" fill="#000"/><rect x="1024" y="56" width="1" height="47" fill="#000"/><rect x="1022" y="72" width="5" height="27" fill="#000"/><rect x="1023" y="73" width="3" height="25" fill="#fff"/><rect x="1032" y="52" width="1" height="42" fill="#000"/><rect x="1030" y="58" width="5" height="14" fill="#000"/><rect x="1031" y="59" width="3" height="12" fill="#fff"/><rect x="1040" y="49" width="1" height="11" fill="#000"/><rect x="1038" y="58" width="5" height="1" fill="#000"/><rect x="1048" y="53" width="1" height="15" fill="#000"/><rect x="1046" y="58" width="5" height="8" fill="#000"/><rect x="1056" y="63" width="1" height="47" fill="#000"/><rect x="1054" y="65" width="5" height="26" fill="#000"/><rect x="1064" y="86" width="1" height="32" fill="#000"/><rect x="1062" y="91" width="5" height="17" fill="#000"/><rect x="1072" y="96" width="1" height="68" fill="#000"/><rect x="1070" y="108" width="5" height="26" fill="#000"/><rect x="1080" y="106" width="1" height="70" fill="#000"/><rect x="1078" y="115" width="5" height="22" fill="#000"/><rect x="1079" y="116" width="3" height="20" fill="#fff"/><rect x="1088" y="95" width="1" height="29" fill="#000"/><rect x="1086" y="109" width="5" height="5" fill="#000"/><rect x="1087" y="110" width="3" height="3" fill="#fff"/><rect x="1096" y="106" width="1" height="10" fill="#000"/><rect x="1094" y="110" width="5" height="1" fill="#000"/><rect x="1104" y="110" width="1" height="31" fill="#000"/><rect x="1102" y="111" width="5" height="18" fill="#000"/><rect x="1112" y="107" width="1" height="38" fill="#000"/><rect x="1110" y="129" width="5" height="5" fill="#000"/><rect x="1120" y="105" width="1" height="43" fill="#000"/><rect x="1118" y="133" width="5" height="7" fill="#000"/><rect x="1128" y="116" width="1" height="119" fill="#000"/><rect x="1126" y="140" width="5" height="75" fill="#000"/><rect x="1136" y="196" width="1" height="28" fill="#000"/><rect x="1134" y="208" width="5" height="7" fill="#000"/><rect x="1135" y="209" width="3" height="5" fill="#fff"/><rect x="1144" y="204" width="1" height="11" fill="#000"/><rect x="1142" y="208" width="5" height="1" fill="#000"/><rect x="1152" y="198" width="1" height="17" fill="#000"/><rect x="1150" y="205" width="5" height="5" fill="#000"/><rect x="1151" y="206" width="3" height="3" fill="#fff"/><rect x="1160" y="160" width="1" height="49" fill="#000"/><rect x="1158" y="168" width="5" height="37" fill="#000"/><rect x="1159" y="169" width="3" height="35" fill="#fff"/><rect x="1168" y="154" width="1" height="20" fill="#000"/><rect x="1166" y="158" width="5" height="8" fill="#000"/><rect x="1167" y="159" width="3" height="6" fill="#fff"/><rect x="1176" y="105" width="1" height="64" fill="#000"/><rect x="1174" y="114" width="5" height="44" fill="#000"/><rect x="1175" y="115" width="3" height="42" fill="#fff"/><rect x="1184" y="93" width="1" height="21" fill="#000"/><rect x="1182" y="93" width="5" height="20" fill="#000"/><rect x="1183" y="94" width="3" height="18" fill="#fff"/><rect x="1192" y="89" width="1" height="9" fill="#000"/><rect x="1190" y="91" width="5" height="3" fill="#000"/><rect x="1191" y="92" width="3" height="1" fill="#fff"/><rect x="1200" y="75" width="1" height="22" fill="#000"/><rect x="1198" y="88" width="5" height="5" fill="#000"/><rect x="1199" y="89" width="3" height="3" fill="#fff"/><rect x="1208" y="79" width="1" height="19" fill="#000"/><rect x="1206" y="85" width="5" height="4" fill="#000"/><rect x="1207" y="86" width="3" height="2" fill="#fff"/><rect x="1216" y="77" width="1" height="43" fill="#000"/><rect x="1214" y="84" width="5" height="34" fill="#000"/><rect x="1224" y="89" width="1" height="57" fill="#000"/><rect x="1222" y="117" width="5" height="21" fill="#000"/><rect x="1232" y="116" width="1" height="23" fill="#000"/><rect x="1230" y="126" width="5" height="12" fill="#000"/><rect x="1231" y="127" width="3" height="10" fill="#fff"/><rect x="1240" y="115" width="1" height="10" fill="#000"/><rect x="1238" y="121" width="5" height="1" fill="#000"/><rect x="1248" y="113" width="1" height="26" fill="#000"/><rect x="1246" y="121" width="5" height="1" fill="#000"/><rect x="1256" y="100" width="1" height="30" fill="#000"/><rect x="1254" y="101" width="5" height="20" fill="#000"/><rect x="1255" y="102" width="3" height="18" fill="#fff"/><rect x="1264" y="89" width="1" height="34" fill="#000"/><rect x="1262" y="101" width="5" height="14" fill="#000"/><rect x="1272" y="114" width="1" height="56" fill="#000"/><rect x="1270" y="114" width="5" height="40" fill="#000"/><rect x="1280" y="147" width="1" height="21" fill="#000"/><rect x="1278" y="154" width="5" height="2" fill="#000"/><rect x="1288" y="155" width="1" height="14" fill="#000"/><rect x="1286" y="155" width="5" height="8" fill="#000"/><rect x="1296" y="160" width="1" height="26" fill="#000"/><rect x="1294" y="162" width="5" height="10" fill="#000"/><rect x="1304" y="150" width="1" height="41" fill="#000"/><rect x="1302" y="164" width="5" height="8" fill="#000"/><rect x="1303" y="165" width="3" height="6" fill="#fff"/><rect x="1312" y="145" width="1" height="54" fill="#000"/><rect x="1310" y="164" width="5" height="32" fill="#000"/><rect x="1320" y="139" width="1" height="67" fill="#000"/><rect x="1318" y="154" width="5" height="41" fill="#000"/><rect x="1319" y="155" width="3" height="39" fill="#fff"/><rect x="1328" y="133" width="1" height="26" fill="#000"/><rect x="1326" y="141" width="5" height="13" fill="#000"/><rect x="1327" y="142" width="3" height="11" fill="#fff"/><rect x="1336" y="140" width="1" height="24" fill="#000"/><rect x="1334" y="141" width="5" height="12" fill="#000"/><rect x="1344" y="149" width="1" height="24" fill="#000"/><rect x="1342" y="153" width="5" height="16" fill="#000"/><rect x="1352" y="156" width="1" height="20" fill="#000"/><rect x="1350" y="164" width="5" height="6" fill="#000"/><rect x="1351" y="165" width="3" height="4" fill="#fff"/><rect x="1360" y="104" width="1" height="81" fill="#000"/><rect x="1358" y="108" width="5" height="56" fill="#000"/><rect x="1359" y="109" width="3" height="54" fill="#fff"/><rect x="1368" y="93" width="1" height="36" fill="#000"/><rect x="1366" y="102" width="5" height="6" fill="#000"/><rect x="1367" y="103" width="3" height="4" fill="#fff"/><rect x="1376" y="99" width="1" height="35" fill="#000"/><rect x="1374" y="102" width="5" height="32" fill="#000"/><rect x="1384" y="132" width="1" height="4" fill="#000"/><rect x="1382" y="132" width="5" height="3" fill="#000"/><rect x="1383" y="133" width="3" height="1" fill="#fff"/><rect x="1646.5" y="70.5" width="4" height="4" fill="#fff" stroke="#ff0000" stroke-width="1" shape-rendering="crispEdges"/><rect x="1646.5" y="100.5" width="4" height="4" fill="#fff" stroke="#ff0000" stroke-width="1" shape-rendering="crispEdges"/><rect x="1646.5" y="174.5" width="4" height="4" fill="#fff" stroke="#0000ff" stroke-width="1" shape-rendering="crispEdges"/><rect x="1646.5" y="204.5" width="4" height="4" fill="#fff" stroke="#0000ff" stroke-width="1" shape-rendering="crispEdges"/><rect x="433.5" y="550.5" width="61" height="18" fill="#fff" stroke="#ff0000" stroke-width="1" shape-rendering="crispEdges"/><text x="464.0" y="566" text-anchor="middle" font-family="Liberation Sans" font-size="17" fill="#ff0000">1.03500</text><path fill="#ff0000" shape-rendering="crispEdges" d="M494 560h11v1h-11z"/><rect x="633.5" y="249.5" width="61" height="18" fill="#fff" stroke="#ff0000" stroke-width="1" shape-rendering="crispEdges"/><text x="664.0" y="265" text-anchor="middle" font-family="Liberation Sans" font-size="17" fill="#ff0000">1.06072</text><path fill="#ff0000" shape-rendering="crispEdges" d="M694 258h11v1h-11zM704 259h1v1h-1z"/><rect x="993.5" y="135.5" width="61" height="18" fill="#fff" stroke="#ff0000" stroke-width="1" shape-rendering="crispEdges"/><text x="1024.0" y="151" text-anchor="middle" font-family="Liberation Sans" font-size="17" fill="#ff0000">1.07041</text><path fill="#ff0000" shape-rendering="crispEdges" d="M1054 144h11v1h-11z"/><polygon points="1395,22 1405,22 1400,27" fill="#c0c0c0"/></g>
<g clip-path="url(#cd)"><rect x="0" y="654" width="1" height="81" fill="#c0c0c0"/><rect x="8" y="654" width="1" height="73" fill="#c0c0c0"/><rect x="16" y="654" width="1" height="68" fill="#c0c0c0"/><rect x="24" y="654" width="1" height="64" fill="#c0c0c0"/><rect x="32" y="654" width="1" height="57" fill="#c0c0c0"/><rect x="40" y="654" width="1" height="54" fill="#c0c0c0"/><rect x="48" y="654" width="1" height="52" fill="#c0c0c0"/><rect x="56" y="654" width="1" height="49" fill="#c0c0c0"/><rect x="64" y="654" width="1" height="48" fill="#c0c0c0"/><rect x="72" y="654" width="1" height="46" fill="#c0c0c0"/><rect x="80" y="654" width="1" height="46" fill="#c0c0c0"/><rect x="88" y="654" width="1" height="44" fill="#c0c0c0"/><rect x="96" y="654" width="1" height="42" fill="#c0c0c0"/><rect x="104" y="654" width="1" height="39" fill="#c0c0c0"/><rect x="112" y="654" width="1" height="35" fill="#c0c0c0"/><rect x="120" y="654" width="1" height="32" fill="#c0c0c0"/><rect x="128" y="654" width="1" height="30" fill="#c0c0c0"/><rect x="136" y="654" width="1" height="28" fill="#c0c0c0"/><rect x="144" y="654" width="1" height="27" fill="#c0c0c0"/><rect x="152" y="654" width="1" height="25" fill="#c0c0c0"/><rect x="160" y="654" width="1" height="23" fill="#c0c0c0"/><rect x="168" y="654" width="1" height="20" fill="#c0c0c0"/><rect x="176" y="654" width="1" height="11" fill="#c0c0c0"/><rect x="184" y="654" width="1" height="2" fill="#c0c0c0"/><rect x="192" y="650" width="1" height="5" fill="#c0c0c0"/><rect x="200" y="647" width="1" height="8" fill="#c0c0c0"/><rect x="208" y="650" width="1" height="5" fill="#c0c0c0"/><rect x="216" y="654" width="1" height="1" fill="#c0c0c0"/><rect x="224" y="654" width="1" height="2" fill="#c0c0c0"/><rect x="232" y="654" width="1" height="3" fill="#c0c0c0"/><rect x="240" y="654" width="1" height="5" fill="#c0c0c0"/><rect x="248" y="654" width="1" height="7" fill="#c0c0c0"/><rect x="256" y="654" width="1" height="5" fill="#c0c0c0"/><rect x="264" y="654" width="1" height="2" fill="#c0c0c0"/><rect x="272" y="654" width="1" height="2" fill="#c0c0c0"/><rect x="280" y="654" width="1" height="4" fill="#c0c0c0"/><rect x="288" y="654" width="1" height="8" fill="#c0c0c0"/><rect x="296" y="654" width="1" height="10" fill="#c0c0c0"/><rect x="304" y="654" width="1" height="8" fill="#c0c0c0"/><rect x="312" y="654" width="1" height="6" fill="#c0c0c0"/><rect x="320" y="654" width="1" height="4" fill="#c0c0c0"/><rect x="328" y="654" width="1" height="2" fill="#c0c0c0"/><rect x="336" y="653" width="1" height="2" fill="#c0c0c0"/><rect x="344" y="653" width="1" height="2" fill="#c0c0c0"/><rect x="352" y="653" width="1" height="2" fill="#c0c0c0"/><rect x="360" y="654" width="1" height="1" fill="#c0c0c0"/><rect x="368" y="654" width="1" height="2" fill="#c0c0c0"/><rect x="376" y="654" width="1" height="4" fill="#c0c0c0"/><rect x="384" y="654" width="1" height="4" fill="#c0c0c0"/><rect x="392" y="654" width="1" height="3" fill="#c0c0c0"/><rect x="400" y="654" width="1" height="3" fill="#c0c0c0"/><rect x="408" y="654" width="1" height="3" fill="#c0c0c0"/><rect x="416" y="654" width="1" height="6" fill="#c0c0c0"/><rect x="424" y="654" width="1" height="8" fill="#c0c0c0"/><rect x="432" y="654" width="1" height="9" fill="#c0c0c0"/><rect x="440" y="654" width="1" height="15" fill="#c0c0c0"/><rect x="448" y="654" width="1" height="26" fill="#c0c0c0"/><rect x="456" y="654" width="1" height="36" fill="#c0c0c0"/><rect x="464" y="654" width="1" height="44" fill="#c0c0c0"/><rect x="472" y="654" width="1" height="49" fill="#c0c0c0"/><rect x="480" y="654" width="1" height="51" fill="#c0c0c0"/><rect x="488" y="654" width="1" height="50" fill="#c0c0c0"/><rect x="496" y="654" width="1" height="52" fill="#c0c0c0"/><rect x="504" y="654" width="1" height="50" fill="#c0c0c0"/><rect x="512" y="654" width="1" height="48" fill="#c0c0c0"/><rect x="520" y="654" width="1" height="47" fill="#c0c0c0"/><rect x="528" y="654" width="1" height="46" fill="#c0c0c0"/><rect x="536" y="654" width="1" height="43" fill="#c0c0c0"/><rect x="544" y="654" width="1" height="40" fill="#c0c0c0"/><rect x="552" y="654" width="1" height="37" fill="#c0c0c0"/><rect x="560" y="654" width="1" height="32" fill="#c0c0c0"/><rect x="568" y="654" width="1" height="28" fill="#c0c0c0"/><rect x="576" y="654" width="1" height="24" fill="#c0c0c0"/><rect x="584" y="654" width="1" height="19" fill="#c0c0c0"/><rect x="592" y="654" width="1" height="7" fill="#c0c0c0"/><rect x="600" y="653" width="1" height="2" fill="#c0c0c0"/><rect x="608" y="645" width="1" height="10" fill="#c0c0c0"/><rect x="616" y="638" width="1" height="17" fill="#c0c0c0"/><rect x="624" y="635" width="1" height="20" fill="#c0c0c0"/><rect x="632" y="634" width="1" height="21" fill="#c0c0c0"/><rect x="640" y="634" width="1" height="21" fill="#c0c0c0"/><rect x="648" y="637" width="1" height="18" fill="#c0c0c0"/><rect x="656" y="641" width="1" height="14" fill="#c0c0c0"/><rect x="664" y="644" width="1" height="11" fill="#c0c0c0"/><rect x="672" y="644" width="1" height="11" fill="#c0c0c0"/><rect x="680" y="644" width="1" height="11" fill="#c0c0c0"/><rect x="688" y="643" width="1" height="12" fill="#c0c0c0"/><rect x="696" y="635" width="1" height="20" fill="#c0c0c0"/><rect x="704" y="628" width="1" height="27" fill="#c0c0c0"/><rect x="712" y="625" width="1" height="30" fill="#c0c0c0"/><rect x="720" y="624" width="1" height="31" fill="#c0c0c0"/><rect x="728" y="622" width="1" height="33" fill="#c0c0c0"/><rect x="736" y="622" width="1" height="33" fill="#c0c0c0"/><rect x="744" y="623" width="1" height="32" fill="#c0c0c0"/><rect x="752" y="626" width="1" height="29" fill="#c0c0c0"/><rect x="760" y="626" width="1" height="29" fill="#c0c0c0"/><rect x="768" y="624" width="1" height="31" fill="#c0c0c0"/><rect x="776" y="622" width="1" height="33" fill="#c0c0c0"/><rect x="784" y="616" width="1" height="39" fill="#c0c0c0"/><rect x="792" y="610" width="1" height="45" fill="#c0c0c0"/><rect x="800" y="604" width="1" height="51" fill="#c0c0c0"/><rect x="808" y="600" width="1" height="55" fill="#c0c0c0"/><rect x="816" y="599" width="1" height="56" fill="#c0c0c0"/><rect x="824" y="593" width="1" height="62" fill="#c0c0c0"/><rect x="832" y="591" width="1" height="64" fill="#c0c0c0"/><rect x="840" y="587" width="1" height="68" fill="#c0c0c0"/><rect x="848" y="586" width="1" height="69" fill="#c0c0c0"/><rect x="856" y="586" width="1" height="69" fill="#c0c0c0"/><rect x="864" y="589" width="1" height="66" fill="#c0c0c0"/><rect x="872" y="594" width="1" height="61" fill="#c0c0c0"/><rect x="880" y="601" width="1" height="54" fill="#c0c0c0"/><rect x="888" y="608" width="1" height="47" fill="#c0c0c0"/><rect x="896" y="612" width="1" height="43" fill="#c0c0c0"/><rect x="904" y="614" width="1" height="41" fill="#c0c0c0"/><rect x="912" y="615" width="1" height="40" fill="#c0c0c0"/><rect x="920" y="618" width="1" height="37" fill="#c0c0c0"/><rect x="928" y="619" width="1" height="36" fill="#c0c0c0"/><rect x="936" y="618" width="1" height="37" fill="#c0c0c0"/><rect x="944" y="617" width="1" height="38" fill="#c0c0c0"/><rect x="952" y="617" width="1" height="38" fill="#c0c0c0"/><rect x="960" y="615" width="1" height="40" fill="#c0c0c0"/><rect x="968" y="615" width="1" height="40" fill="#c0c0c0"/><rect x="976" y="619" width="1" height="36" fill="#c0c0c0"/><rect x="984" y="622" width="1" height="33" fill="#c0c0c0"/><rect x="992" y="623" width="1" height="32" fill="#c0c0c0"/><rect x="1000" y="624" width="1" height="31" fill="#c0c0c0"/><rect x="1008" y="624" width="1" height="31" fill="#c0c0c0"/><rect x="1016" y="624" width="1" height="31" fill="#c0c0c0"/><rect x="1024" y="622" width="1" height="33" fill="#c0c0c0"/><rect x="1032" y="620" width="1" height="35" fill="#c0c0c0"/><rect x="1040" y="619" width="1" height="36" fill="#c0c0c0"/><rect x="1048" y="619" width="1" height="36" fill="#c0c0c0"/><rect x="1056" y="621" width="1" height="34" fill="#c0c0c0"/><rect x="1064" y="625" width="1" height="30" fill="#c0c0c0"/><rect x="1072" y="630" width="1" height="25" fill="#c0c0c0"/><rect x="1080" y="633" width="1" height="22" fill="#c0c0c0"/><rect x="1088" y="636" width="1" height="19" fill="#c0c0c0"/><rect x="1096" y="637" width="1" height="18" fill="#c0c0c0"/><rect x="1104" y="641" width="1" height="14" fill="#c0c0c0"/><rect x="1112" y="644" width="1" height="11" fill="#c0c0c0"/><rect x="1120" y="647" width="1" height="8" fill="#c0c0c0"/><rect x="1128" y="654" width="1" height="1" fill="#c0c0c0"/><rect x="1136" y="654" width="1" height="7" fill="#c0c0c0"/><rect x="1144" y="654" width="1" height="12" fill="#c0c0c0"/><rect x="1152" y="654" width="1" height="15" fill="#c0c0c0"/><rect x="1160" y="654" width="1" height="15" fill="#c0c0c0"/><rect x="1168" y="654" width="1" height="13" fill="#c0c0c0"/><rect x="1176" y="654" width="1" height="8" fill="#c0c0c0"/><rect x="1184" y="654" width="1" height="3" fill="#c0c0c0"/><rect x="1192" y="653" width="1" height="2" fill="#c0c0c0"/><rect x="1200" y="649" width="1" height="6" fill="#c0c0c0"/><rect x="1208" y="646" width="1" height="9" fill="#c0c0c0"/><rect x="1216" y="646" width="1" height="9" fill="#c0c0c0"/><rect x="1224" y="648" width="1" height="7" fill="#c0c0c0"/><rect x="1232" y="649" width="1" height="6" fill="#c0c0c0"/><rect x="1240" y="649" width="1" height="6" fill="#c0c0c0"/><rect x="1248" y="649" width="1" height="6" fill="#c0c0c0"/><rect x="1256" y="648" width="1" height="7" fill="#c0c0c0"/><rect x="1264" y="648" width="1" height="7" fill="#c0c0c0"/><rect x="1272" y="651" width="1" height="4" fill="#c0c0c0"/><rect x="1280" y="654" width="1" height="1" fill="#c0c0c0"/><rect x="1288" y="654" width="1" height="2" fill="#c0c0c0"/><rect x="1296" y="654" width="1" height="5" fill="#c0c0c0"/><rect x="1304" y="654" width="1" height="7" fill="#c0c0c0"/><rect x="1312" y="654" width="1" height="10" fill="#c0c0c0"/><rect x="1320" y="654" width="1" height="10" fill="#c0c0c0"/><rect x="1328" y="654" width="1" height="8" fill="#c0c0c0"/><rect x="1336" y="654" width="1" height="8" fill="#c0c0c0"/><rect x="1344" y="654" width="1" height="9" fill="#c0c0c0"/><rect x="1352" y="654" width="1" height="9" fill="#c0c0c0"/><rect x="1360" y="654" width="1" height="4" fill="#c0c0c0"/><rect x="1368" y="654" width="1" height="1" fill="#c0c0c0"/><rect x="1376" y="654" width="1" height="1" fill="#c0c0c0"/><rect x="1384" y="654" width="1" height="1" fill="#c0c0c0"/><path fill="#ff0000" shape-rendering="crispEdges" d="M0 734h1v1h-1zM4 734h3v1h-3zM10 734h3v1h-3zM16 734h2v1h-2zM18 733h1v1h-1zM22 732h3v1h-3zM28 730h3v1h-3zM34 728h1v1h-1zM35 727h2v1h-2zM40 725h2v1h-2zM42 724h1v1h-1zM46 723h3v1h-3zM52 721h3v1h-3zM58 718h2v1h-2zM60 717h1v1h-1zM64 714h1v1h-1zM65 713h2v1h-2zM70 711h1v1h-1zM71 710h2v1h-2zM76 708h3v1h-3zM82 706h2v1h-2zM84 705h1v1h-1zM88 704h2v1h-2zM90 703h1v1h-1zM94 702h3v1h-3zM526 702h3v1h-3zM532 702h3v1h-3zM538 702h2v1h-2zM100 701h2v1h-2zM520 701h3v1h-3zM540 701h1v1h-1zM544 701h2v1h-2zM102 700h1v1h-1zM516 700h1v1h-1zM546 700h1v1h-1zM106 699h3v1h-3zM514 699h2v1h-2zM550 699h3v1h-3zM112 698h2v1h-2zM556 698h2v1h-2zM114 697h1v1h-1zM508 697h3v1h-3zM558 697h1v1h-1zM118 696h3v1h-3zM562 696h2v1h-2zM124 694h3v1h-3zM502 694h2v1h-2zM568 694h2v1h-2zM130 692h3v1h-3zM574 692h3v1h-3zM136 691h2v1h-2zM497 691h2v1h-2zM138 690h1v1h-1zM496 690h1v1h-1zM580 690h1v1h-1zM142 689h3v1h-3zM581 689h2v1h-2zM148 688h2v1h-2zM492 688h1v1h-1zM150 687h1v1h-1zM491 687h1v1h-1zM586 687h1v1h-1zM154 686h2v1h-2zM490 686h1v1h-1zM587 686h2v1h-2zM156 685h1v1h-1zM160 684h2v1h-2zM486 684h1v1h-1zM592 684h1v1h-1zM162 683h1v1h-1zM484 683h2v1h-2zM593 683h2v1h-2zM166 682h3v1h-3zM172 680h3v1h-3zM480 680h1v1h-1zM598 680h2v1h-2zM178 678h1v1h-1zM179 677h2v1h-2zM184 675h1v1h-1zM472 675h1v1h-1zM605 675h1v1h-1zM185 674h2v1h-2zM606 674h1v1h-1zM190 672h1v1h-1zM467 672h1v1h-1zM191 671h2v1h-2zM466 671h1v1h-1zM610 671h1v1h-1zM196 669h1v1h-1zM462 669h1v1h-1zM612 669h1v1h-1zM197 668h2v1h-2zM460 668h2v1h-2zM202 666h1v1h-1zM616 666h1v1h-1zM203 665h2v1h-2zM455 665h2v1h-2zM617 665h1v1h-1zM208 663h2v1h-2zM450 663h1v1h-1zM210 662h1v1h-1zM448 662h2v1h-2zM214 661h1v1h-1zM444 661h1v1h-1zM622 661h2v1h-2zM1182 661h1v1h-1zM1186 661h3v1h-3zM1192 661h3v1h-3zM1350 661h1v1h-1zM1354 661h3v1h-3zM1360 661h3v1h-3zM215 660h2v1h-2zM442 660h2v1h-2zM624 660h1v1h-1zM1180 660h2v1h-2zM1198 660h3v1h-3zM1348 660h2v1h-2zM1366 660h3v1h-3zM1372 660h3v1h-3zM220 659h2v1h-2zM300 659h1v1h-1zM304 659h3v1h-3zM310 659h3v1h-3zM316 659h3v1h-3zM322 659h2v1h-2zM436 659h3v1h-3zM1174 659h3v1h-3zM1204 659h3v1h-3zM1342 659h3v1h-3zM1378 659h3v1h-3zM222 658h1v1h-1zM292 658h3v1h-3zM298 658h2v1h-2zM324 658h1v1h-1zM328 658h3v1h-3zM334 658h3v1h-3zM430 658h3v1h-3zM1170 658h1v1h-1zM1210 658h2v1h-2zM1336 658h3v1h-3zM1384 658h1v1h-1zM226 657h3v1h-3zM276 657h1v1h-1zM280 657h3v1h-3zM286 657h3v1h-3zM340 657h3v1h-3zM346 657h3v1h-3zM352 657h3v1h-3zM420 657h1v1h-1zM424 657h3v1h-3zM628 657h1v1h-1zM1168 657h2v1h-2zM1212 657h1v1h-1zM1330 657h3v1h-3zM232 656h2v1h-2zM270 656h1v1h-1zM274 656h2v1h-2zM358 656h3v1h-3zM412 656h3v1h-3zM418 656h2v1h-2zM629 656h1v1h-1zM1216 656h2v1h-2zM1324 656h3v1h-3zM234 655h1v1h-1zM268 655h2v1h-2zM364 655h3v1h-3zM370 655h3v1h-3zM376 655h3v1h-3zM406 655h3v1h-3zM630 655h1v1h-1zM1163 655h2v1h-2zM1218 655h1v1h-1zM1318 655h3v1h-3zM238 654h3v1h-3zM252 654h1v1h-1zM256 654h3v1h-3zM262 654h3v1h-3zM382 654h3v1h-3zM388 654h3v1h-3zM394 654h3v1h-3zM400 654h3v1h-3zM1162 654h1v1h-1zM1222 654h3v1h-3zM1314 654h1v1h-1zM244 653h3v1h-3zM250 653h2v1h-2zM634 653h1v1h-1zM1228 653h2v1h-2zM1312 653h2v1h-2zM454 664h1v1h-1zM618 664h1v1h-1zM468 673h1v1h-1zM473 676h2v1h-2zM604 676h1v1h-1zM478 679h2v1h-2zM600 679h1v1h-1zM504 695h1v1h-1zM564 695h1v1h-1zM570 693h1v1h-1zM611 670h1v1h-1zM635 652h1v1h-1zM1157 652h2v1h-2zM1230 652h1v1h-1zM1306 652h3v1h-3zM636 651h1v1h-1zM1156 651h1v1h-1zM1234 651h3v1h-3zM1300 651h3v1h-3zM640 649h1v1h-1zM1151 649h2v1h-2zM1242 649h1v1h-1zM1284 649h1v1h-1zM1288 649h3v1h-3zM641 648h2v1h-2zM1150 648h1v1h-1zM1246 648h3v1h-3zM1276 648h3v1h-3zM1282 648h2v1h-2zM646 645h2v1h-2zM1144 645h1v1h-1zM648 644h1v1h-1zM652 642h3v1h-3zM1138 642h1v1h-1zM658 640h3v1h-3zM1133 640h2v1h-2zM664 639h3v1h-3zM1132 639h1v1h-1zM670 638h3v1h-3zM676 638h3v1h-3zM682 638h3v1h-3zM688 638h3v1h-3zM694 638h3v1h-3zM700 637h3v1h-3zM706 637h2v1h-2zM1127 637h2v1h-2zM708 636h1v1h-1zM712 636h3v1h-3zM1126 636h1v1h-1zM718 635h3v1h-3zM1122 635h1v1h-1zM724 634h2v1h-2zM1120 634h2v1h-2zM726 633h1v1h-1zM730 632h2v1h-2zM1115 632h2v1h-2zM732 631h1v1h-1zM1114 631h1v1h-1zM736 630h2v1h-2zM1110 630h1v1h-1zM738 629h1v1h-1zM1108 629h2v1h-2zM742 628h3v1h-3zM1103 628h2v1h-2zM748 627h2v1h-2zM1102 627h1v1h-1zM750 626h1v1h-1zM1098 626h1v1h-1zM754 625h3v1h-3zM1092 625h1v1h-1zM1096 625h2v1h-2zM760 624h3v1h-3zM1084 624h3v1h-3zM1090 624h2v1h-2zM766 623h3v1h-3zM1078 623h3v1h-3zM772 622h3v1h-3zM778 622h2v1h-2zM1074 622h1v1h-1zM780 621h1v1h-1zM784 621h3v1h-3zM1036 621h3v1h-3zM1042 621h3v1h-3zM1048 621h3v1h-3zM1060 621h3v1h-3zM1066 621h3v1h-3zM1072 621h2v1h-2zM790 620h3v1h-3zM1020 620h1v1h-1zM1024 620h3v1h-3zM1030 620h3v1h-3zM1054 620h3v1h-3zM796 619h2v1h-2zM1012 619h3v1h-3zM1018 619h2v1h-2zM798 618h1v1h-1zM1006 618h3v1h-3zM802 617h2v1h-2zM988 617h3v1h-3zM994 617h3v1h-3zM1000 617h3v1h-3zM804 616h1v1h-1zM972 616h1v1h-1zM976 616h3v1h-3zM982 616h3v1h-3zM808 615h2v1h-2zM958 615h3v1h-3zM964 615h3v1h-3zM970 615h2v1h-2zM810 614h1v1h-1zM952 614h3v1h-3zM814 613h3v1h-3zM946 613h3v1h-3zM820 611h1v1h-1zM940 611h2v1h-2zM821 610h2v1h-2zM935 610h2v1h-2zM826 608h1v1h-1zM827 607h2v1h-2zM929 607h2v1h-2zM832 605h1v1h-1zM924 605h1v1h-1zM833 604h2v1h-2zM922 604h2v1h-2zM838 602h1v1h-1zM917 602h2v1h-2zM839 601h2v1h-2zM916 601h1v1h-1zM844 599h1v1h-1zM911 599h2v1h-2zM845 598h2v1h-2zM910 598h1v1h-1zM850 596h2v1h-2zM904 596h2v1h-2zM852 595h1v1h-1zM898 595h3v1h-3zM856 594h2v1h-2zM894 594h1v1h-1zM858 593h1v1h-1zM892 593h2v1h-2zM862 592h3v1h-3zM886 592h3v1h-3zM868 591h2v1h-2zM876 591h1v1h-1zM880 591h3v1h-3zM870 590h1v1h-1zM874 590h2v1h-2zM906 597h1v1h-1zM928 606h1v1h-1zM934 609h1v1h-1zM942 612h1v1h-1zM1139 643h2v1h-2zM1145 646h2v1h-2zM1260 646h1v1h-1zM1264 646h3v1h-3zM1240 650h2v1h-2zM1294 650h3v1h-3zM1252 647h3v1h-3zM1258 647h2v1h-2zM1270 647h3v1h-3z"/></g>
<g clip-path="url(#cr)"><line x1="0" y1="784.5" x2="1651" y2="784.5" stroke="#c0c0c0" stroke-width="1" stroke-dasharray="3 3" shape-rendering="crispEdges"/><line x1="0" y1="835.5" x2="1651" y2="835.5" stroke="#c0c0c0" stroke-width="1" stroke-dasharray="3 3" shape-rendering="crispEdges"/><line x1="0" y1="896.5" x2="1651" y2="896.5" stroke="#c0c0c0" stroke-width="1" stroke-dasharray="3 3" shape-rendering="crispEdges"/><path fill="#1e90ff" shape-rendering="crispEdges" d="M0 867h1v1h-1zM441 867h1v1h-1zM484 867h1v1h-1zM495 867h1v1h-1zM497 867h1v1h-1zM0 866h1v1h-1zM440 866h1v1h-1zM485 866h1v1h-1zM494 866h1v1h-1zM497 866h1v1h-1zM1 865h1v1h-1zM440 865h1v1h-1zM485 865h1v1h-1zM492 865h2v1h-2zM498 865h1v1h-1zM1128 865h2v1h-2zM1 864h1v1h-1zM439 864h1v1h-1zM486 864h1v1h-1zM491 864h1v1h-1zM499 864h1v1h-1zM1128 864h1v1h-1zM1130 864h4v1h-4zM2 863h1v1h-1zM439 863h1v1h-1zM487 863h1v1h-1zM490 863h1v1h-1zM499 863h1v1h-1zM1127 863h1v1h-1zM1134 863h12v1h-12zM2 862h1v1h-1zM438 862h1v1h-1zM487 862h1v1h-1zM489 862h1v1h-1zM500 862h1v1h-1zM1127 862h1v1h-1zM1146 862h4v1h-4zM3 861h1v1h-1zM438 861h1v1h-1zM488 861h1v1h-1zM501 861h1v1h-1zM1127 861h1v1h-1zM1150 861h3v1h-3zM3 860h1v1h-1zM438 860h1v1h-1zM501 860h1v1h-1zM524 860h5v1h-5zM1126 860h1v1h-1zM1152 860h1v1h-1zM4 859h1v1h-1zM79 859h3v1h-3zM437 859h1v1h-1zM502 859h1v1h-1zM518 859h6v1h-6zM529 859h1v1h-1zM1126 859h1v1h-1zM1153 859h1v1h-1zM1312 859h1v1h-1zM4 858h1v1h-1zM77 858h2v1h-2zM82 858h2v1h-2zM437 858h1v1h-1zM503 858h1v1h-1zM514 858h4v1h-4zM530 858h2v1h-2zM1126 858h1v1h-1zM1153 858h1v1h-1zM1311 858h2v1h-2zM4 857h1v1h-1zM75 857h2v1h-2zM84 857h3v1h-3zM437 857h1v1h-1zM503 857h1v1h-1zM508 857h6v1h-6zM532 857h1v1h-1zM1125 857h1v1h-1zM1154 857h1v1h-1zM1310 857h1v1h-1zM1313 857h1v1h-1zM5 856h1v1h-1zM63 856h5v1h-5zM73 856h2v1h-2zM87 856h2v1h-2zM436 856h1v1h-1zM504 856h4v1h-4zM533 856h1v1h-1zM1125 856h1v1h-1zM1154 856h1v1h-1zM1310 856h1v1h-1zM1313 856h1v1h-1zM5 855h1v1h-1zM46 855h4v1h-4zM61 855h2v1h-2zM68 855h5v1h-5zM89 855h2v1h-2zM436 855h1v1h-1zM534 855h2v1h-2zM1125 855h1v1h-1zM1155 855h1v1h-1zM1309 855h1v1h-1zM1314 855h1v1h-1zM6 854h1v1h-1zM20 854h5v1h-5zM42 854h4v1h-4zM50 854h2v1h-2zM59 854h2v1h-2zM91 854h2v1h-2zM435 854h1v1h-1zM536 854h1v1h-1zM1124 854h1v1h-1zM1155 854h1v1h-1zM1308 854h1v1h-1zM1314 854h1v1h-1zM6 853h1v1h-1zM15 853h5v1h-5zM25 853h1v1h-1zM40 853h2v1h-2zM52 853h3v1h-3zM57 853h2v1h-2zM93 853h2v1h-2zM216 853h1v1h-1zM435 853h1v1h-1zM537 853h2v1h-2zM1124 853h1v1h-1zM1156 853h1v1h-1zM1307 853h1v1h-1zM1315 853h1v1h-1zM7 852h1v1h-1zM13 852h2v1h-2zM26 852h1v1h-1zM39 852h1v1h-1zM55 852h2v1h-2zM95 852h10v1h-10zM143 852h2v1h-2zM215 852h1v1h-1zM217 852h1v1h-1zM435 852h1v1h-1zM539 852h1v1h-1zM1123 852h1v1h-1zM1156 852h1v1h-1zM1295 852h3v1h-3zM1306 852h1v1h-1zM1315 852h1v1h-1zM7 851h1v1h-1zM11 851h2v1h-2zM26 851h1v1h-1zM38 851h1v1h-1zM105 851h1v1h-1zM141 851h2v1h-2zM145 851h2v1h-2zM215 851h1v1h-1zM217 851h1v1h-1zM422 851h3v1h-3zM434 851h1v1h-1zM540 851h2v1h-2zM1123 851h1v1h-1zM1157 851h1v1h-1zM1292 851h3v1h-3zM1298 851h2v1h-2zM1306 851h1v1h-1zM1315 851h1v1h-1zM8 850h3v1h-3zM27 850h1v1h-1zM37 850h1v1h-1zM106 850h1v1h-1zM139 850h2v1h-2zM147 850h1v1h-1zM214 850h1v1h-1zM218 850h1v1h-1zM418 850h4v1h-4zM425 850h1v1h-1zM434 850h1v1h-1zM542 850h2v1h-2zM1123 850h1v1h-1zM1157 850h1v1h-1zM1290 850h2v1h-2zM1300 850h3v1h-3zM1305 850h1v1h-1zM1316 850h1v1h-1zM8 849h1v1h-1zM28 849h1v1h-1zM36 849h1v1h-1zM107 849h1v1h-1zM137 849h2v1h-2zM148 849h2v1h-2zM213 849h1v1h-1zM218 849h1v1h-1zM288 849h4v1h-4zM416 849h2v1h-2zM426 849h2v1h-2zM434 849h1v1h-1zM544 849h9v1h-9zM1122 849h1v1h-1zM1158 849h1v1h-1zM1287 849h3v1h-3zM1303 849h2v1h-2zM1316 849h1v1h-1zM29 848h1v1h-1zM36 848h1v1h-1zM108 848h1v1h-1zM126 848h11v1h-11zM150 848h2v1h-2zM213 848h1v1h-1zM219 848h1v1h-1zM287 848h1v1h-1zM292 848h5v1h-5zM415 848h1v1h-1zM428 848h1v1h-1zM433 848h1v1h-1zM553 848h1v1h-1zM1122 848h1v1h-1zM1158 848h1v1h-1zM1284 848h3v1h-3zM1317 848h1v1h-1zM30 847h1v1h-1zM35 847h1v1h-1zM109 847h1v1h-1zM122 847h4v1h-4zM152 847h2v1h-2zM212 847h1v1h-1zM219 847h1v1h-1zM286 847h1v1h-1zM297 847h1v1h-1zM414 847h1v1h-1zM429 847h1v1h-1zM433 847h1v1h-1zM554 847h2v1h-2zM1122 847h1v1h-1zM1159 847h1v1h-1zM1282 847h2v1h-2zM1317 847h1v1h-1zM30 846h1v1h-1zM34 846h1v1h-1zM110 846h1v1h-1zM118 846h4v1h-4zM154 846h2v1h-2zM211 846h1v1h-1zM220 846h1v1h-1zM247 846h2v1h-2zM284 846h2v1h-2zM297 846h1v1h-1zM413 846h1v1h-1zM430 846h3v1h-3zM556 846h1v1h-1zM1121 846h1v1h-1zM1159 846h1v1h-1zM1272 846h10v1h-10zM1317 846h1v1h-1zM31 845h1v1h-1zM33 845h1v1h-1zM111 845h1v1h-1zM114 845h4v1h-4zM156 845h3v1h-3zM211 845h1v1h-1zM220 845h1v1h-1zM244 845h3v1h-3zM249 845h1v1h-1zM283 845h1v1h-1zM298 845h1v1h-1zM412 845h1v1h-1zM432 845h1v1h-1zM557 845h1v1h-1zM1121 845h1v1h-1zM1160 845h1v1h-1zM1272 845h1v1h-1zM1318 845h1v1h-1zM1344 845h2v1h-2zM32 844h1v1h-1zM112 844h2v1h-2zM159 844h2v1h-2zM210 844h1v1h-1zM221 844h1v1h-1zM242 844h2v1h-2zM249 844h1v1h-1zM282 844h1v1h-1zM299 844h1v1h-1zM360 844h2v1h-2zM375 844h3v1h-3zM412 844h1v1h-1zM558 844h2v1h-2zM1121 844h1v1h-1zM1160 844h1v1h-1zM1271 844h1v1h-1zM1318 844h1v1h-1zM1342 844h2v1h-2zM1346 844h4v1h-4zM161 843h2v1h-2zM209 843h1v1h-1zM221 843h1v1h-1zM238 843h4v1h-4zM250 843h1v1h-1zM281 843h1v1h-1zM299 843h1v1h-1zM359 843h1v1h-1zM362 843h2v1h-2zM372 843h3v1h-3zM378 843h2v1h-2zM411 843h1v1h-1zM560 843h2v1h-2zM1120 843h1v1h-1zM1161 843h2v1h-2zM1271 843h1v1h-1zM1319 843h1v1h-1zM1341 843h1v1h-1zM1350 843h3v1h-3zM163 842h1v1h-1zM209 842h1v1h-1zM222 842h1v1h-1zM234 842h4v1h-4zM250 842h1v1h-1zM279 842h2v1h-2zM300 842h1v1h-1zM358 842h1v1h-1zM364 842h3v1h-3zM370 842h2v1h-2zM380 842h3v1h-3zM410 842h1v1h-1zM562 842h2v1h-2zM1118 842h3v1h-3zM1163 842h1v1h-1zM1270 842h1v1h-1zM1319 842h1v1h-1zM1340 842h1v1h-1zM1352 842h1v1h-1zM164 841h2v1h-2zM208 841h1v1h-1zM222 841h1v1h-1zM231 841h3v1h-3zM251 841h1v1h-1zM277 841h2v1h-2zM301 841h1v1h-1zM357 841h1v1h-1zM367 841h3v1h-3zM383 841h2v1h-2zM409 841h1v1h-1zM564 841h3v1h-3zM656 841h2v1h-2zM1114 841h4v1h-4zM1164 841h2v1h-2zM1270 841h1v1h-1zM1320 841h1v1h-1zM1338 841h2v1h-2zM1353 841h1v1h-1zM166 840h2v1h-2zM208 840h1v1h-1zM223 840h1v1h-1zM228 840h3v1h-3zM251 840h1v1h-1zM275 840h2v1h-2zM301 840h1v1h-1zM356 840h1v1h-1zM385 840h1v1h-1zM407 840h2v1h-2zM567 840h5v1h-5zM655 840h1v1h-1zM658 840h4v1h-4zM1110 840h4v1h-4zM1166 840h2v1h-2zM1269 840h1v1h-1zM1320 840h1v1h-1zM1337 840h1v1h-1zM1353 840h1v1h-1zM168 839h1v1h-1zM207 839h1v1h-1zM223 839h1v1h-1zM226 839h2v1h-2zM252 839h1v1h-1zM273 839h2v1h-2zM302 839h1v1h-1zM356 839h1v1h-1zM386 839h1v1h-1zM404 839h3v1h-3zM572 839h5v1h-5zM654 839h1v1h-1zM662 839h3v1h-3zM1106 839h4v1h-4zM1168 839h1v1h-1zM1269 839h1v1h-1zM1321 839h2v1h-2zM1335 839h2v1h-2zM1354 839h1v1h-1zM168 838h1v1h-1zM207 838h1v1h-1zM224 838h2v1h-2zM253 838h1v1h-1zM272 838h1v1h-1zM303 838h1v1h-1zM355 838h1v1h-1zM387 838h1v1h-1zM402 838h2v1h-2zM577 838h1v1h-1zM653 838h1v1h-1zM665 838h1v1h-1zM1072 838h1v1h-1zM1104 838h2v1h-2zM1169 838h1v1h-1zM1224 838h1v1h-1zM1268 838h1v1h-1zM1323 838h1v1h-1zM1333 838h2v1h-2zM1354 838h1v1h-1zM169 837h1v1h-1zM206 837h1v1h-1zM253 837h1v1h-1zM271 837h1v1h-1zM303 837h1v1h-1zM354 837h1v1h-1zM388 837h2v1h-2zM399 837h3v1h-3zM577 837h1v1h-1zM652 837h1v1h-1zM666 837h1v1h-1zM1071 837h1v1h-1zM1073 837h1v1h-1zM1103 837h1v1h-1zM1169 837h1v1h-1zM1223 837h1v1h-1zM1225 837h2v1h-2zM1268 837h1v1h-1zM1324 837h2v1h-2zM1331 837h2v1h-2zM1354 837h1v1h-1zM169 836h1v1h-1zM206 836h1v1h-1zM254 836h1v1h-1zM270 836h1v1h-1zM304 836h1v1h-1zM353 836h1v1h-1zM390 836h1v1h-1zM396 836h3v1h-3zM578 836h1v1h-1zM652 836h1v1h-1zM666 836h1v1h-1zM1070 836h1v1h-1zM1074 836h2v1h-2zM1102 836h1v1h-1zM1170 836h1v1h-1zM1222 836h1v1h-1zM1227 836h2v1h-2zM1267 836h1v1h-1zM1326 836h2v1h-2zM1329 836h2v1h-2zM1355 836h1v1h-1zM169 835h1v1h-1zM206 835h1v1h-1zM254 835h1v1h-1zM269 835h1v1h-1zM305 835h2v1h-2zM348 835h5v1h-5zM391 835h1v1h-1zM394 835h2v1h-2zM579 835h1v1h-1zM651 835h1v1h-1zM667 835h1v1h-1zM1070 835h1v1h-1zM1076 835h1v1h-1zM1101 835h1v1h-1zM1170 835h1v1h-1zM1221 835h1v1h-1zM1229 835h2v1h-2zM1267 835h1v1h-1zM1328 835h1v1h-1zM1355 835h1v1h-1zM170 834h1v1h-1zM205 834h1v1h-1zM255 834h1v1h-1zM268 834h1v1h-1zM307 834h2v1h-2zM344 834h4v1h-4zM392 834h2v1h-2zM580 834h1v1h-1zM650 834h1v1h-1zM668 834h1v1h-1zM1069 834h1v1h-1zM1077 834h1v1h-1zM1100 834h1v1h-1zM1171 834h1v1h-1zM1220 834h1v1h-1zM1231 834h3v1h-3zM1266 834h1v1h-1zM1356 834h1v1h-1zM170 833h1v1h-1zM205 833h1v1h-1zM255 833h1v1h-1zM267 833h1v1h-1zM309 833h2v1h-2zM343 833h1v1h-1zM580 833h1v1h-1zM649 833h1v1h-1zM669 833h1v1h-1zM1068 833h1v1h-1zM1078 833h2v1h-2zM1099 833h1v1h-1zM1171 833h1v1h-1zM1219 833h1v1h-1zM1234 833h4v1h-4zM1266 833h1v1h-1zM1356 833h1v1h-1zM1376 833h9v1h-9zM170 832h1v1h-1zM204 832h1v1h-1zM256 832h2v1h-2zM266 832h1v1h-1zM311 832h11v1h-11zM342 832h1v1h-1zM581 832h1v1h-1zM648 832h1v1h-1zM670 832h1v1h-1zM679 832h2v1h-2zM1067 832h1v1h-1zM1080 832h2v1h-2zM1098 832h1v1h-1zM1172 832h1v1h-1zM1218 832h1v1h-1zM1238 832h11v1h-11zM1265 832h1v1h-1zM1356 832h1v1h-1zM1375 832h1v1h-1zM170 831h1v1h-1zM204 831h1v1h-1zM258 831h4v1h-4zM265 831h1v1h-1zM322 831h4v1h-4zM341 831h1v1h-1zM582 831h1v1h-1zM647 831h1v1h-1zM670 831h1v1h-1zM676 831h3v1h-3zM681 831h1v1h-1zM1066 831h1v1h-1zM1082 831h4v1h-4zM1097 831h1v1h-1zM1172 831h1v1h-1zM1217 831h1v1h-1zM1249 831h1v1h-1zM1265 831h1v1h-1zM1357 831h1v1h-1zM1375 831h1v1h-1zM171 830h1v1h-1zM204 830h1v1h-1zM262 830h3v1h-3zM326 830h3v1h-3zM340 830h1v1h-1zM583 830h1v1h-1zM646 830h1v1h-1zM671 830h1v1h-1zM674 830h2v1h-2zM682 830h1v1h-1zM1066 830h1v1h-1zM1086 830h11v1h-11zM1173 830h1v1h-1zM1216 830h1v1h-1zM1250 830h1v1h-1zM1264 830h1v1h-1zM1357 830h1v1h-1zM1374 830h1v1h-1zM171 829h1v1h-1zM203 829h1v1h-1zM329 829h2v1h-2zM340 829h1v1h-1zM583 829h1v1h-1zM645 829h1v1h-1zM672 829h2v1h-2zM682 829h1v1h-1zM884 829h5v1h-5zM1065 829h1v1h-1zM1173 829h1v1h-1zM1215 829h1v1h-1zM1251 829h1v1h-1zM1262 829h2v1h-2zM1358 829h1v1h-1zM1373 829h1v1h-1zM171 828h1v1h-1zM203 828h1v1h-1zM331 828h1v1h-1zM339 828h1v1h-1zM584 828h1v1h-1zM644 828h1v1h-1zM683 828h1v1h-1zM880 828h4v1h-4zM889 828h1v1h-1zM1064 828h1v1h-1zM1174 828h1v1h-1zM1215 828h1v1h-1zM1252 828h1v1h-1zM1261 828h1v1h-1zM1358 828h1v1h-1zM1373 828h1v1h-1zM172 827h1v1h-1zM202 827h1v1h-1zM332 827h2v1h-2zM338 827h1v1h-1zM584 827h1v1h-1zM644 827h1v1h-1zM684 827h1v1h-1zM879 827h1v1h-1zM890 827h2v1h-2zM1063 827h1v1h-1zM1174 827h1v1h-1zM1214 827h1v1h-1zM1253 827h1v1h-1zM1260 827h1v1h-1zM1358 827h1v1h-1zM1372 827h1v1h-1zM172 826h1v1h-1zM202 826h1v1h-1zM334 826h2v1h-2zM337 826h1v1h-1zM585 826h1v1h-1zM643 826h1v1h-1zM685 826h1v1h-1zM752 826h1v1h-1zM878 826h1v1h-1zM892 826h1v1h-1zM976 826h9v1h-9zM1062 826h1v1h-1zM1175 826h1v1h-1zM1214 826h1v1h-1zM1254 826h1v1h-1zM1258 826h2v1h-2zM1359 826h1v1h-1zM1371 826h1v1h-1zM172 825h1v1h-1zM202 825h1v1h-1zM336 825h1v1h-1zM585 825h1v1h-1zM642 825h1v1h-1zM686 825h1v1h-1zM750 825h2v1h-2zM753 825h1v1h-1zM877 825h1v1h-1zM893 825h1v1h-1zM975 825h1v1h-1zM985 825h1v1h-1zM1060 825h2v1h-2zM1175 825h1v1h-1zM1213 825h1v1h-1zM1255 825h1v1h-1zM1257 825h1v1h-1zM1359 825h1v1h-1zM1371 825h1v1h-1zM173 824h1v1h-1zM201 824h1v1h-1zM585 824h1v1h-1zM641 824h1v1h-1zM686 824h1v1h-1zM749 824h1v1h-1zM754 824h1v1h-1zM876 824h1v1h-1zM894 824h2v1h-2zM975 824h1v1h-1zM986 824h1v1h-1zM1059 824h1v1h-1zM1176 824h1v1h-1zM1213 824h1v1h-1zM1256 824h1v1h-1zM1360 824h1v1h-1zM1370 824h1v1h-1zM173 823h1v1h-1zM201 823h1v1h-1zM586 823h1v1h-1zM638 823h3v1h-3zM687 823h1v1h-1zM748 823h1v1h-1zM755 823h1v1h-1zM876 823h1v1h-1zM896 823h2v1h-2zM974 823h1v1h-1zM987 823h1v1h-1zM1058 823h1v1h-1zM1177 823h1v1h-1zM1212 823h1v1h-1zM1360 823h2v1h-2zM1369 823h1v1h-1zM173 822h1v1h-1zM200 822h1v1h-1zM586 822h1v1h-1zM634 822h4v1h-4zM688 822h1v1h-1zM746 822h2v1h-2zM756 822h1v1h-1zM875 822h1v1h-1zM898 822h2v1h-2zM974 822h1v1h-1zM988 822h1v1h-1zM1057 822h1v1h-1zM1178 822h2v1h-2zM1211 822h1v1h-1zM1362 822h4v1h-4zM1369 822h1v1h-1zM174 821h1v1h-1zM200 821h1v1h-1zM586 821h1v1h-1zM632 821h2v1h-2zM688 821h1v1h-1zM745 821h1v1h-1zM757 821h1v1h-1zM874 821h1v1h-1zM900 821h3v1h-3zM920 821h1v1h-1zM973 821h1v1h-1zM989 821h1v1h-1zM1056 821h1v1h-1zM1180 821h1v1h-1zM1211 821h1v1h-1zM1366 821h3v1h-3zM174 820h1v1h-1zM199 820h1v1h-1zM587 820h1v1h-1zM631 820h1v1h-1zM689 820h1v1h-1zM743 820h2v1h-2zM758 820h1v1h-1zM873 820h1v1h-1zM903 820h2v1h-2zM918 820h2v1h-2zM921 820h2v1h-2zM972 820h1v1h-1zM990 820h1v1h-1zM998 820h3v1h-3zM1055 820h1v1h-1zM1181 820h1v1h-1zM1210 820h1v1h-1zM174 819h1v1h-1zM198 819h1v1h-1zM587 819h1v1h-1zM630 819h1v1h-1zM689 819h1v1h-1zM740 819h3v1h-3zM759 819h1v1h-1zM872 819h1v1h-1zM905 819h2v1h-2zM916 819h2v1h-2zM923 819h1v1h-1zM972 819h1v1h-1zM991 819h1v1h-1zM994 819h4v1h-4zM1001 819h2v1h-2zM1055 819h1v1h-1zM1182 819h2v1h-2zM1210 819h1v1h-1zM174 818h1v1h-1zM198 818h1v1h-1zM587 818h1v1h-1zM629 818h1v1h-1zM690 818h1v1h-1zM738 818h2v1h-2zM760 818h1v1h-1zM871 818h1v1h-1zM907 818h2v1h-2zM915 818h1v1h-1zM924 818h2v1h-2zM971 818h1v1h-1zM992 818h2v1h-2zM1003 818h1v1h-1zM1054 818h1v1h-1zM1184 818h4v1h-4zM1209 818h1v1h-1zM175 817h1v1h-1zM197 817h1v1h-1zM588 817h1v1h-1zM628 817h1v1h-1zM690 817h1v1h-1zM736 817h2v1h-2zM761 817h1v1h-1zM871 817h1v1h-1zM909 817h2v1h-2zM913 817h2v1h-2zM926 817h2v1h-2zM970 817h1v1h-1zM1004 817h2v1h-2zM1054 817h1v1h-1zM1188 817h16v1h-16zM1209 817h1v1h-1zM175 816h1v1h-1zM196 816h1v1h-1zM588 816h1v1h-1zM627 816h1v1h-1zM691 816h1v1h-1zM734 816h2v1h-2zM762 816h1v1h-1zM870 816h1v1h-1zM911 816h2v1h-2zM928 816h1v1h-1zM970 816h1v1h-1zM1006 816h2v1h-2zM1053 816h1v1h-1zM1204 816h5v1h-5zM175 815h1v1h-1zM195 815h1v1h-1zM589 815h1v1h-1zM626 815h1v1h-1zM691 815h1v1h-1zM720 815h2v1h-2zM732 815h2v1h-2zM763 815h1v1h-1zM870 815h1v1h-1zM929 815h2v1h-2zM969 815h1v1h-1zM1008 815h9v1h-9zM1052 815h1v1h-1zM176 814h1v1h-1zM194 814h1v1h-1zM589 814h1v1h-1zM625 814h1v1h-1zM692 814h1v1h-1zM718 814h2v1h-2zM722 814h2v1h-2zM731 814h1v1h-1zM764 814h2v1h-2zM869 814h1v1h-1zM931 814h1v1h-1zM969 814h1v1h-1zM1017 814h1v1h-1zM1052 814h1v1h-1zM176 813h1v1h-1zM194 813h1v1h-1zM589 813h1v1h-1zM624 813h1v1h-1zM692 813h1v1h-1zM717 813h1v1h-1zM724 813h3v1h-3zM729 813h2v1h-2zM766 813h1v1h-1zM868 813h1v1h-1zM932 813h2v1h-2zM968 813h1v1h-1zM1018 813h1v1h-1zM1051 813h1v1h-1zM177 812h2v1h-2zM193 812h1v1h-1zM590 812h1v1h-1zM623 812h1v1h-1zM693 812h1v1h-1zM716 812h1v1h-1zM727 812h2v1h-2zM767 812h1v1h-1zM868 812h1v1h-1zM934 812h2v1h-2zM967 812h1v1h-1zM1019 812h1v1h-1zM1050 812h1v1h-1zM179 811h2v1h-2zM190 811h3v1h-3zM590 811h1v1h-1zM622 811h1v1h-1zM693 811h1v1h-1zM714 811h2v1h-2zM768 811h2v1h-2zM867 811h1v1h-1zM936 811h10v1h-10zM966 811h1v1h-1zM1020 811h2v1h-2zM1050 811h1v1h-1zM181 810h2v1h-2zM186 810h4v1h-4zM590 810h1v1h-1zM621 810h1v1h-1zM694 810h1v1h-1zM713 810h1v1h-1zM770 810h4v1h-4zM866 810h1v1h-1zM946 810h4v1h-4zM966 810h1v1h-1zM1022 810h1v1h-1zM1049 810h1v1h-1zM183 809h3v1h-3zM591 809h1v1h-1zM620 809h1v1h-1zM694 809h1v1h-1zM712 809h1v1h-1zM774 809h3v1h-3zM866 809h1v1h-1zM950 809h3v1h-3zM965 809h1v1h-1zM1023 809h1v1h-1zM1049 809h1v1h-1zM441 868h1v1h-1zM483 868h1v1h-1zM496 868h1v1h-1zM442 869h1v1h-1zM483 869h1v1h-1zM443 870h1v1h-1zM482 870h1v1h-1zM443 871h1v1h-1zM481 871h1v1h-1zM444 872h1v1h-1zM481 872h1v1h-1zM445 873h1v1h-1zM480 873h1v1h-1zM445 874h1v1h-1zM478 874h2v1h-2zM446 875h1v1h-1zM477 875h1v1h-1zM447 876h1v1h-1zM476 876h1v1h-1zM447 877h1v1h-1zM474 877h2v1h-2zM448 878h1v1h-1zM473 878h1v1h-1zM449 879h2v1h-2zM471 879h2v1h-2zM451 880h2v1h-2zM468 880h3v1h-3zM453 881h2v1h-2zM466 881h2v1h-2zM455 882h11v1h-11zM591 808h1v1h-1zM599 808h3v1h-3zM620 808h1v1h-1zM695 808h1v1h-1zM710 808h2v1h-2zM777 808h1v1h-1zM865 808h1v1h-1zM953 808h1v1h-1zM964 808h1v1h-1zM1024 808h1v1h-1zM1047 808h2v1h-2zM591 807h1v1h-1zM596 807h3v1h-3zM602 807h2v1h-2zM619 807h1v1h-1zM695 807h1v1h-1zM708 807h2v1h-2zM777 807h1v1h-1zM865 807h1v1h-1zM954 807h2v1h-2zM963 807h1v1h-1zM1025 807h2v1h-2zM1045 807h2v1h-2zM592 806h1v1h-1zM594 806h2v1h-2zM604 806h3v1h-3zM618 806h1v1h-1zM696 806h1v1h-1zM707 806h1v1h-1zM778 806h1v1h-1zM864 806h1v1h-1zM956 806h1v1h-1zM962 806h1v1h-1zM1027 806h2v1h-2zM1043 806h2v1h-2zM592 805h2v1h-2zM607 805h5v1h-5zM617 805h1v1h-1zM696 805h4v1h-4zM705 805h2v1h-2zM779 805h1v1h-1zM863 805h1v1h-1zM957 805h1v1h-1zM962 805h1v1h-1zM1029 805h2v1h-2zM1041 805h2v1h-2zM612 804h5v1h-5zM700 804h5v1h-5zM779 804h1v1h-1zM862 804h1v1h-1zM958 804h2v1h-2zM961 804h1v1h-1zM1031 804h10v1h-10zM780 803h1v1h-1zM861 803h1v1h-1zM960 803h1v1h-1zM781 802h1v1h-1zM860 802h1v1h-1zM781 801h1v1h-1zM860 801h1v1h-1zM782 800h1v1h-1zM859 800h1v1h-1zM783 799h1v1h-1zM816 799h1v1h-1zM858 799h1v1h-1zM783 798h1v1h-1zM815 798h1v1h-1zM817 798h1v1h-1zM848 798h4v1h-4zM857 798h1v1h-1zM784 797h2v1h-2zM814 797h1v1h-1zM818 797h1v1h-1zM846 797h2v1h-2zM852 797h5v1h-5zM786 796h2v1h-2zM812 796h2v1h-2zM818 796h1v1h-1zM832 796h1v1h-1zM845 796h1v1h-1zM788 795h3v1h-3zM811 795h1v1h-1zM819 795h1v1h-1zM831 795h1v1h-1zM833 795h2v1h-2zM844 795h1v1h-1zM791 794h3v1h-3zM810 794h1v1h-1zM820 794h1v1h-1zM830 794h1v1h-1zM835 794h2v1h-2zM842 794h2v1h-2zM794 793h2v1h-2zM809 793h1v1h-1zM821 793h1v1h-1zM828 793h2v1h-2zM837 793h2v1h-2zM841 793h1v1h-1zM796 792h3v1h-3zM804 792h5v1h-5zM822 792h1v1h-1zM827 792h1v1h-1zM839 792h2v1h-2zM799 791h5v1h-5zM822 791h1v1h-1zM826 791h1v1h-1zM823 790h1v1h-1zM825 790h1v1h-1zM824 789h1v1h-1z"/></g>
<rect x="0" y="21" width="1652" height="1" fill="#000"/>
<rect x="0" y="574" width="1652" height="1" fill="#000"/>
<rect x="0" y="576" width="1652" height="1" fill="#000"/>
<rect x="0" y="746" width="1652" height="1" fill="#000"/>
<rect x="0" y="748" width="1652" height="1" fill="#000"/>
<rect x="0" y="922" width="1652" height="1" fill="#000"/>
<rect x="1651" y="21" width="1" height="902" fill="#000"/>
<rect x="18" y="19" width="1" height="1" fill="#000"/><rect x="17" y="20" width="1" height="1" fill="#000"/><rect x="19" y="20" width="1" height="1" fill="#000"/><rect x="18" y="21" width="1" height="1" fill="#fff"/>
<rect x="1652" y="43" width="2" height="1" fill="#000"/>
<text x="1657" y="48" font-family="Liberation Sans" font-size="10" letter-spacing="-0.55" fill="#000">1.07905</text>
<rect x="1652" y="76" width="2" height="1" fill="#000"/>
<text x="1657" y="81" font-family="Liberation Sans" font-size="10" letter-spacing="-0.55" fill="#000">1.07620</text>
<rect x="1652" y="109" width="2" height="1" fill="#000"/>
<text x="1657" y="114" font-family="Liberation Sans" font-size="10" letter-spacing="-0.55" fill="#000">1.07340</text>
<rect x="1652" y="142" width="2" height="1" fill="#000"/>
<text x="1657" y="147" font-family="Liberation Sans" font-size="10" letter-spacing="-0.55" fill="#000">1.07060</text>
<rect x="1652" y="175" width="2" height="1" fill="#000"/>
<text x="1657" y="180" font-family="Liberation Sans" font-size="10" letter-spacing="-0.55" fill="#000">1.06780</text>
<rect x="1652" y="208" width="2" height="1" fill="#000"/>
<text x="1657" y="213" font-family="Liberation Sans" font-size="10" letter-spacing="-0.55" fill="#000">1.06495</text>
<rect x="1652" y="241" width="2" height="1" fill="#000"/>
<text x="1657" y="246" font-family="Liberation Sans" font-size="10" letter-spacing="-0.55" fill="#000">1.06215</text>
<rect x="1652" y="274" width="2" height="1" fill="#000"/>
<text x="1657" y="279" font-family="Liberation Sans" font-size="10" letter-spacing="-0.55" fill="#000">1.05935</text>
<rect x="1652" y="307" width="2" height="1" fill="#000"/>
<text x="1657" y="312" font-family="Liberation Sans" font-size="10" letter-spacing="-0.55" fill="#000">1.05650</text>
<rect x="1652" y="340" width="2" height="1" fill="#000"/>
<text x="1657" y="345" font-family="Liberation Sans" font-size="10" letter-spacing="-0.55" fill="#000">1.05370</text>
<rect x="1652" y="373" width="2" height="1" fill="#000"/>
<text x="1657" y="378" font-family="Liberation Sans" font-size="10" letter-spacing="-0.55" fill="#000">1.05090</text>
<rect x="1652" y="406" width="2" height="1" fill="#000"/>
<text x="1657" y="411" font-family="Liberation Sans" font-size="10" letter-spacing="-0.55" fill="#000">1.04805</text>
<rect x="1652" y="439" width="2" height="1" fill="#000"/>
<text x="1657" y="444" font-family="Liberation Sans" font-size="10" letter-spacing="-0.55" fill="#000">1.04525</text>
<rect x="1652" y="472" width="2" height="1" fill="#000"/>
<text x="1657" y="477" font-family="Liberation Sans" font-size="10" letter-spacing="-0.55" fill="#000">1.04245</text>
<rect x="1652" y="505" width="2" height="1" fill="#000"/>
<text x="1657" y="510" font-family="Liberation Sans" font-size="10" letter-spacing="-0.55" fill="#000">1.03965</text>
<rect x="1652" y="538" width="2" height="1" fill="#000"/>
<text x="1657" y="543" font-family="Liberation Sans" font-size="10" letter-spacing="-0.55" fill="#000">1.03680</text>
<rect x="1652" y="571" width="2" height="1" fill="#000"/>
<text x="1657" y="576" font-family="Liberation Sans" font-size="10" letter-spacing="-0.55" fill="#000">1.03400</text>
<rect x="1652" y="578" width="2" height="1" fill="#000"/>
<rect x="1652" y="654" width="2" height="1" fill="#000"/>
<rect x="1652" y="745" width="2" height="1" fill="#000"/>
<text x="1655" y="587" font-family="Liberation Sans" font-size="10" letter-spacing="-0.55" fill="#000">0.00634</text>
<text x="1655" y="659" font-family="Liberation Sans" font-size="10" letter-spacing="-0.55" fill="#000">0.00</text>
<text x="1655" y="743" font-family="Liberation Sans" font-size="10" letter-spacing="-0.55" fill="#000">-0.007563</text>
<rect x="1652" y="750" width="2" height="1" fill="#000"/>
<text x="1656" y="759" font-family="Liberation Sans" font-size="10" letter-spacing="-0.55" fill="#000">100</text>
<rect x="1652" y="784" width="2" height="1" fill="#000"/>
<text x="1656" y="789" font-family="Liberation Sans" font-size="10" letter-spacing="-0.55" fill="#000">80</text>
<rect x="1652" y="835" width="2" height="1" fill="#000"/>
<text x="1656" y="840" font-family="Liberation Sans" font-size="10" letter-spacing="-0.55" fill="#000">50</text>
<rect x="1652" y="896" width="2" height="1" fill="#000"/>
<text x="1656" y="901" font-family="Liberation Sans" font-size="10" letter-spacing="-0.55" fill="#000">15</text>
<rect x="1652" y="921" width="2" height="1" fill="#000"/>
<text x="1656" y="919" font-family="Liberation Sans" font-size="10" letter-spacing="-0.55" fill="#000">0</text>
<rect x="1653" y="66" width="41" height="11" fill="#ff0000"/>
<text x="1657" y="76" font-family="Liberation Sans" font-size="10" letter-spacing="-0.55" fill="#fff">1.07654</text>
<rect x="1653" y="96" width="41" height="11" fill="#ff0000"/>
<text x="1657" y="106" font-family="Liberation Sans" font-size="10" letter-spacing="-0.55" fill="#fff">1.07399</text>
<rect x="1653" y="126" width="41" height="11" fill="#000000"/>
<text x="1657" y="136" font-family="Liberation Sans" font-size="10" letter-spacing="-0.55" fill="#fff">1.07150</text>
<rect x="1653" y="138" width="41" height="11" fill="#ffa500"/>
<text x="1657" y="148" font-family="Liberation Sans" font-size="10" letter-spacing="-0.55" fill="#fff">1.07041</text>
<rect x="1653" y="170" width="41" height="11" fill="#0000ff"/>
<text x="1657" y="180" font-family="Liberation Sans" font-size="10" letter-spacing="-0.55" fill="#fff">1.06769</text>
<rect x="1653" y="200" width="41" height="11" fill="#0000ff"/>
<text x="1657" y="210" font-family="Liberation Sans" font-size="10" letter-spacing="-0.55" fill="#fff">1.06513</text>
<text x="-9" y="935" font-family="Liberation Sans" font-size="10" letter-spacing="-0.28" fill="#000">28 Apr 2022</text>
<rect x="56" y="923" width="1" height="3" fill="#000"/>
<text x="55" y="935" font-family="Liberation Sans" font-size="10" letter-spacing="-0.28" fill="#000">2 May 04:00</text>
<rect x="120" y="923" width="1" height="3" fill="#000"/>
<text x="119" y="935" font-family="Liberation Sans" font-size="10" letter-spacing="-0.28" fill="#000">3 May 12:00</text>
<rect x="184" y="923" width="1" height="3" fill="#000"/>
<text x="183" y="935" font-family="Liberation Sans" font-size="10" letter-spacing="-0.28" fill="#000">4 May 20:00</text>
<rect x="248" y="923" width="1" height="3" fill="#000"/>
<text x="247" y="935" font-family="Liberation Sans" font-size="10" letter-spacing="-0.28" fill="#000">6 May 04:00</text>
<rect x="312" y="923" width="1" height="3" fill="#000"/>
<text x="311" y="935" font-family="Liberation Sans" font-size="10" letter-spacing="-0.28" fill="#000">9 May 12:00</text>
<rect x="376" y="923" width="1" height="3" fill="#000"/>
<text x="375" y="935" font-family="Liberation Sans" font-size="10" letter-spacing="-0.28" fill="#000">10 May 20:00</text>
<rect x="440" y="923" width="1" height="3" fill="#000"/>
<text x="439" y="935" font-family="Liberation Sans" font-size="10" letter-spacing="-0.28" fill="#000">12 May 04:00</text>
<rect x="504" y="923" width="1" height="3" fill="#000"/>
<text x="503" y="935" font-family="Liberation Sans" font-size="10" letter-spacing="-0.28" fill="#000">13 May 12:00</text>
<rect x="568" y="923" width="1" height="3" fill="#000"/>
<text x="567" y="935" font-family="Liberation Sans" font-size="10" letter-spacing="-0.28" fill="#000">16 May 20:00</text>
<rect x="632" y="923" width="1" height="3" fill="#000"/>
<text x="631" y="935" font-family="Liberation Sans" font-size="10" letter-spacing="-0.28" fill="#000">18 May 04:00</text>
<rect x="696" y="923" width="1" height="3" fill="#000"/>
<text x="695" y="935" font-family="Liberation Sans" font-size="10" letter-spacing="-0.28" fill="#000">19 May 12:00</text>
<rect x="760" y="923" width="1" height="3" fill="#000"/>
<text x="759" y="935" font-family="Liberation Sans" font-size="10" letter-spacing="-0.28" fill="#000">22 May 23:00</text>
<rect x="824" y="923" width="1" height="3" fill="#000"/>
<text x="823" y="935" font-family="Liberation Sans" font-size="10" letter-spacing="-0.28" fill="#000">24 May 04:00</text>
<rect x="888" y="923" width="1" height="3" fill="#000"/>
<text x="887" y="935" font-family="Liberation Sans" font-size="10" letter-spacing="-0.28" fill="#000">25 May 12:00</text>
<rect x="952" y="923" width="1" height="3" fill="#000"/>
<text x="951" y="935" font-family="Liberation Sans" font-size="10" letter-spacing="-0.28" fill="#000">26 May 20:00</text>
<rect x="1016" y="923" width="1" height="3" fill="#000"/>
<text x="1015" y="935" font-family="Liberation Sans" font-size="10" letter-spacing="-0.28" fill="#000">30 May 04:00</text>
<rect x="1080" y="923" width="1" height="3" fill="#000"/>
<text x="1079" y="935" font-family="Liberation Sans" font-size="10" letter-spacing="-0.28" fill="#000">31 May 12:00</text>
<rect x="1144" y="923" width="1" height="3" fill="#000"/>
<text x="1143" y="935" font-family="Liberation Sans" font-size="10" letter-spacing="-0.28" fill="#000">1 Jun 20:00</text>
<rect x="1208" y="923" width="1" height="3" fill="#000"/>
<text x="1207" y="935" font-family="Liberation Sans" font-size="10" letter-spacing="-0.28" fill="#000">3 Jun 04:00</text>
<rect x="1272" y="923" width="1" height="3" fill="#000"/>
<text x="1271" y="935" font-family="Liberation Sans" font-size="10" letter-spacing="-0.28" fill="#000">6 Jun 12:00</text>
<rect x="1336" y="923" width="1" height="3" fill="#000"/>
<text x="1335" y="935" font-family="Liberation Sans" font-size="10" letter-spacing="-0.28" fill="#000">7 Jun 20:00</text>
<text x="8" y="33" font-family="Liberation Sans" font-size="10" letter-spacing="-0.37" xml:space="preserve" fill="#000">EURUSD-,H4  1.07127 1.07159 1.07118 1.07150</text>
<text x="-2" y="589" font-family="Liberation Sans" font-size="10" letter-spacing="-0.43" fill="#000">MACD(12,26,9) 0.000081 -0.000427</text>
<text x="-4" y="761" font-family="Liberation Sans" font-size="10" letter-spacing="-0.43" fill="#000">RSI(14) 51.7180</text>
<line x1="1113" y1="220" x2="1192.9214361908603" y2="84.74833875392885" stroke="#ff0000" stroke-width="4" stroke-linecap="round"/><polygon fill="#ff0000" points="1197.5,77 1196.2,89.0 1187.6,83.9"/>
<line x1="1199.5" y1="81" x2="1311.9048585753635" y2="185.3759401056945" stroke="#ff0000" stroke-width="4" stroke-linecap="round"/><polygon fill="#ff0000" points="1318.5,191.5 1307.0,187.7 1313.8,180.4"/>
<line x1="1318.5" y1="191.5" x2="1393.939157566145" y2="120.66079106593695" stroke="#ff0000" stroke-width="4" stroke-linecap="round"/><polygon fill="#ff0000" points="1400.5,114.5 1395.9,125.7 1389.1,118.4"/>
<line x1="1240" y1="655.5" x2="1394.0001693655379" y2="654.555213684874" stroke="#ff0000" stroke-width="3" stroke-linecap="round"/><polygon fill="#ff0000" points="1403,654.5 1392.0,659.6 1392.0,649.6"/>
<line x1="1302" y1="844.5" x2="1375.1594094497125" y2="831.2784199789677" stroke="#ff0000" stroke-width="4" stroke-linecap="round"/><polygon fill="#ff0000" points="1385,829.5 1374.1,836.6 1372.3,826.7"/>
<line x1="0.5" y1="13" x2="4" y2="9.5" stroke="#c8a020" stroke-width="2"/>
<circle cx="-2" cy="5" r="5" fill="none" stroke="#3060c0" stroke-width="1.5"/>
<rect x="12" y="0" width="1" height="15" fill="#a0a0a0"/><rect x="13" y="0" width="1" height="15" fill="#ffffff"/>
<rect x="22.5" y="-2.5" width="11" height="13" fill="#fafafa" stroke="#808080"/>
<rect x="25" y="2" width="6" height="1" fill="#909090"/>
<rect x="25" y="5" width="6" height="1" fill="#909090"/>
<rect x="25" y="8" width="6" height="1" fill="#909090"/>
<rect x="26" y="7" width="12" height="4" fill="#20c020"/><rect x="30" y="3" width="4" height="12" fill="#20c020"/>
<rect x="27" y="8" width="10" height="2" fill="#50e050"/><rect x="31" y="4" width="2" height="10" fill="#50e050"/>
<rect x="41" y="2" width="7" height="1" fill="#1a1a1a"/>
<rect x="42" y="4" width="5" height="1" fill="#1a1a1a"/>
<rect x="44" y="2" width="1" height="8" fill="#1a1a1a"/>
<rect x="41" y="6" width="6" height="1" fill="#1a1a1a"/>
<rect x="42" y="8" width="1" height="1" fill="#1a1a1a"/>
<rect x="41" y="9" width="1" height="1" fill="#1a1a1a"/>
<rect x="46" y="8" width="1" height="1" fill="#1a1a1a"/>
<rect x="47" y="9" width="1" height="1" fill="#1a1a1a"/>
<rect x="50" y="0" width="1" height="10" fill="#1a1a1a"/>
<rect x="50" y="2" width="5" height="1" fill="#1a1a1a"/>
<rect x="54" y="2" width="1" height="8" fill="#1a1a1a"/>
<rect x="49" y="9" width="1" height="1" fill="#1a1a1a"/>
<line x1="44" y1="6" x2="41.5" y2="9.5" stroke="#111" stroke-width="1"/>
<rect x="55" y="1" width="1" height="1" fill="#1a1a1a"/>
<rect x="56" y="3" width="1" height="1" fill="#1a1a1a"/>
<rect x="56" y="4" width="1" height="5" fill="#1a1a1a"/>
<rect x="57" y="8" width="1" height="1" fill="#1a1a1a"/>
<rect x="58" y="0" width="5" height="1" fill="#1a1a1a"/>
<rect x="61" y="0" width="1" height="9" fill="#1a1a1a"/>
<rect x="59" y="8" width="3" height="1" fill="#1a1a1a"/>
<rect x="66" y="0" width="10" height="1" fill="#1a1a1a"/>
<rect x="66" y="0" width="1" height="5" fill="#1a1a1a"/>
<rect x="75" y="0" width="1" height="5" fill="#1a1a1a"/>
<rect x="66" y="2" width="10" height="1" fill="#1a1a1a"/>
<rect x="66" y="4" width="10" height="1" fill="#1a1a1a"/>
<rect x="70" y="0" width="1" height="10" fill="#1a1a1a"/>
<rect x="64" y="6" width="14" height="1" fill="#1a1a1a"/>
<polygon points="89,8 96,0 106,4 99,13" fill="#e8b830" stroke="#a07010" stroke-width="1"/>
<polygon points="91,8 97,2 103,5 98,11" fill="#f8d860"/>
<rect x="119" y="-2" width="11" height="8" fill="#2090e0"/><rect x="121" y="0" width="6" height="1" fill="#fff"/><rect x="121" y="3" width="6" height="1" fill="#fff"/>
<path d="M118,12 Q116,9 120,8 Q121,4 126,6 Q131,5 131,9 Q134,10 132,12 Z" fill="#e8eef8" stroke="#8090a8" stroke-width="1"/>
<circle cx="153" cy="4.5" r="2" fill="none" stroke="#2050c0" stroke-width="1"/>
<circle cx="153" cy="4.5" r="4" fill="none" stroke="#6080d0" stroke-width="1"/>
<circle cx="153" cy="4.5" r="6.5" fill="none" stroke="#90a8e0" stroke-width="1"/>
<path d="M153,5 L153,12 Q159,11 160,5" fill="none" stroke="#40b040" stroke-width="1.5"/>
<polygon points="172,3 188,3 181,12 177,12" fill="#f0d040" stroke="#c0a020" stroke-width="0.8"/>
<ellipse cx="180" cy="1.5" rx="8" ry="3.5" fill="#40a0e0"/>
<circle cx="184.5" cy="8.5" r="4" fill="#d02020"/><rect x="183" y="7" width="3" height="3" fill="#fff"/>
<rect x="194" y="0" width="1" height="9" fill="#1a1a1a"/>
<rect x="203" y="0" width="1" height="9" fill="#1a1a1a"/>
<rect x="194" y="1" width="10" height="1" fill="#1a1a1a"/>
<rect x="194" y="4" width="10" height="1" fill="#1a1a1a"/>
<rect x="194" y="7" width="10" height="1" fill="#1a1a1a"/>
<rect x="194" y="8" width="10" height="1" fill="#1a1a1a"/>
<rect x="205" y="2" width="6" height="1" fill="#1a1a1a"/>
<rect x="206" y="5" width="1" height="3" fill="#1a1a1a"/>
<rect x="205" y="8" width="6" height="1" fill="#1a1a1a"/>
<rect x="209" y="6" width="1" height="2" fill="#1a1a1a"/>
<rect x="210" y="7" width="1" height="1" fill="#1a1a1a"/>
<rect x="211" y="0" width="5" height="1" fill="#1a1a1a"/>
<rect x="215" y="0" width="1" height="9" fill="#1a1a1a"/>
<rect x="213" y="8" width="3" height="1" fill="#1a1a1a"/>
<rect x="212" y="2" width="1" height="4" fill="#1a1a1a"/>
<rect x="211" y="6" width="1" height="3" fill="#1a1a1a"/>
<rect x="217" y="0" width="12" height="1" fill="#1a1a1a"/>
<rect x="220" y="2" width="1" height="2" fill="#1a1a1a"/>
<rect x="219" y="4" width="1" height="1" fill="#1a1a1a"/>
<rect x="226" y="2" width="1" height="2" fill="#1a1a1a"/>
<rect x="227" y="4" width="1" height="1" fill="#1a1a1a"/>
<rect x="221" y="5" width="1" height="1" fill="#1a1a1a"/>
<rect x="225" y="5" width="1" height="1" fill="#1a1a1a"/>
<rect x="222" y="6" width="3" height="1" fill="#1a1a1a"/>
<rect x="220" y="8" width="2" height="1" fill="#1a1a1a"/>
<rect x="225" y="8" width="3" height="1" fill="#1a1a1a"/>
<rect x="218" y="9" width="2" height="1" fill="#1a1a1a"/>
<rect x="227" y="9" width="2" height="1" fill="#1a1a1a"/>
<rect x="231" y="0" width="8" height="1" fill="#1a1a1a"/>
<rect x="231" y="0" width="1" height="3" fill="#1a1a1a"/>
<rect x="238" y="0" width="1" height="3" fill="#1a1a1a"/>
<rect x="231" y="2" width="8" height="1" fill="#1a1a1a"/>
<rect x="230" y="4" width="10" height="1" fill="#1a1a1a"/>
<rect x="239" y="4" width="1" height="5" fill="#1a1a1a"/>
<rect x="237" y="8" width="2" height="1" fill="#1a1a1a"/>
<rect x="232" y="6" width="1" height="1" fill="#1a1a1a"/>
<rect x="231" y="7" width="1" height="1" fill="#1a1a1a"/>
<rect x="235" y="6" width="1" height="1" fill="#1a1a1a"/>
<rect x="234" y="7" width="1" height="1" fill="#1a1a1a"/>
<rect x="233" y="8" width="1" height="1" fill="#1a1a1a"/>
<rect x="230" y="8" width="1" height="1" fill="#1a1a1a"/>
<rect x="248" y="0" width="1" height="15" fill="#a0a0a0"/><rect x="249" y="0" width="1" height="15" fill="#ffffff"/>
<rect x="253" y="1" width="3" height="1" fill="#b0b0b0"/>
<rect x="253" y="3" width="3" height="1" fill="#b0b0b0"/>
<rect x="253" y="5" width="3" height="1" fill="#b0b0b0"/>
<rect x="253" y="7" width="3" height="1" fill="#b0b0b0"/>
<rect x="253" y="9" width="3" height="1" fill="#b0b0b0"/>
<rect x="253" y="11" width="3" height="1" fill="#b0b0b0"/>
<rect x="253" y="13" width="3" height="1" fill="#b0b0b0"/>
<rect x="266" y="0" width="1" height="12" fill="#404040"/><rect x="264" y="10" width="14" height="1" fill="#404040"/>
<path d="M268.5,9 V6 H271.5 V1 H273" fill="none" stroke="#20a020" stroke-width="1"/>
<rect x="286" y="0" width="1" height="15" fill="#a0a0a0"/><rect x="287" y="0" width="1" height="15" fill="#ffffff"/>
<rect x="287" y="0" width="24" height="15" fill="#e4e4e4"/>
<rect x="294" y="0" width="1" height="12" fill="#404040"/><rect x="292" y="10" width="14" height="1" fill="#404040"/>
<rect x="298" y="0" width="4" height="6" fill="#20b020"/><rect x="299.5" y="6" width="1" height="2" fill="#20a020"/>
<rect x="322" y="0" width="1" height="12" fill="#404040"/><rect x="320" y="10" width="14" height="1" fill="#404040"/>
<path d="M322,7 L326,2 L331,6" fill="none" stroke="#40a040" stroke-width="1"/>
<rect x="343" y="0" width="1" height="15" fill="#a0a0a0"/><rect x="344" y="0" width="1" height="15" fill="#ffffff"/>
<line x1="360" y1="6" x2="366" y2="12" stroke="#c8a828" stroke-width="2.5"/>
<circle cx="357" cy="2" r="5" fill="#d8e8f8" stroke="#4070c0" stroke-width="1.3"/>
<rect x="354" y="1.5" width="6" height="1.3" fill="#3060b0"/>
<rect x="356.4" y="-1" width="1.3" height="6" fill="#3060b0"/>
<line x1="388" y1="6" x2="394" y2="12" stroke="#c8a828" stroke-width="2.5"/>
<circle cx="385" cy="2" r="5" fill="#d8e8f8" stroke="#4070c0" stroke-width="1.3"/>
<rect x="382" y="1.5" width="6" height="1.3" fill="#3060b0"/>
<rect x="408" y="-1" width="7" height="6" fill="#40a040"/><rect x="417" y="-1" width="7" height="6" fill="#3060d0"/><rect x="408" y="7" width="7" height="6" fill="#3060d0"/><rect x="417" y="7" width="7" height="6" fill="#40a040"/>
<rect x="433" y="0" width="1" height="15" fill="#a0a0a0"/><rect x="434" y="0" width="1" height="15" fill="#ffffff"/>
<rect x="437" y="1" width="3" height="1" fill="#b0b0b0"/>
<rect x="437" y="3" width="3" height="1" fill="#b0b0b0"/>
<rect x="437" y="5" width="3" height="1" fill="#b0b0b0"/>
<rect x="437" y="7" width="3" height="1" fill="#b0b0b0"/>
<rect x="437" y="9" width="3" height="1" fill="#b0b0b0"/>
<rect x="437" y="11" width="3" height="1" fill="#b0b0b0"/>
<rect x="437" y="13" width="3" height="1" fill="#b0b0b0"/>
<rect x="446" y="0" width="1" height="12" fill="#404040"/><rect x="444" y="10" width="14" height="1" fill="#404040"/>
<polygon points="451,1 456,4.5 451,8" fill="#20a020"/>
<rect x="466" y="0" width="1" height="15" fill="#a0a0a0"/><rect x="467" y="0" width="1" height="15" fill="#ffffff"/>
<rect x="474" y="0" width="1" height="12" fill="#404040"/><rect x="472" y="10" width="14" height="1" fill="#404040"/>
<rect x="480" y="0" width="1" height="9" fill="#3080d0"/><polygon points="482,4.5 486,2 486,7" fill="#e05010"/><rect x="484" y="4" width="3" height="1" fill="#e05010"/>
<rect x="495" y="0" width="1" height="15" fill="#a0a0a0"/><rect x="496" y="0" width="1" height="15" fill="#ffffff"/>
<rect x="505.5" y="-2.5" width="11" height="12" fill="#f4f4f4" stroke="#707070"/>
<rect x="509" y="7" width="12" height="4" fill="#20c020"/><rect x="513" y="3" width="4" height="12" fill="#20c020"/>
<polygon points="527,4 532,4 529.5,7" fill="#000"/>
<circle cx="551" cy="4" r="7" fill="#2070d0"/><circle cx="551" cy="4" r="5" fill="#f8f8f8"/><path d="M551,1 V4.5 H554" stroke="#303030" stroke-width="1" fill="none"/>
<polygon points="566,4 571,4 568.5,7" fill="#000"/>
<rect x="582.5" y="-1.5" width="15" height="13" fill="#f8f8f8" stroke="#3060c0"/><rect x="583" y="5" width="14" height="1" fill="#3060c0"/>
<path d="M585,3 L589,2 L593,3 L596,1.5" stroke="#c03020" fill="none"/><path d="M585,9 L588,7.5 L591,9 L595,7" stroke="#20a020" fill="none"/>
<polygon points="605,4 610,4 607.5,7" fill="#000"/>
<rect x="616" y="0" width="1" height="15" fill="#a0a0a0"/><rect x="617" y="0" width="1" height="15" fill="#ffffff"/>
<rect x="620" y="1" width="3" height="1" fill="#b0b0b0"/>
<rect x="620" y="3" width="3" height="1" fill="#b0b0b0"/>
<rect x="620" y="5" width="3" height="1" fill="#b0b0b0"/>
<rect x="620" y="7" width="3" height="1" fill="#b0b0b0"/>
<rect x="620" y="9" width="3" height="1" fill="#b0b0b0"/>
<rect x="620" y="11" width="3" height="1" fill="#b0b0b0"/>
<rect x="620" y="13" width="3" height="1" fill="#b0b0b0"/>
<rect x="631" y="0" width="20" height="15" fill="#e4e4e4"/>
<polygon points="634,0 634,9 636.5,6.5 639,11 640.5,10 638,6 641,6" fill="#404040"/>
<rect x="666" y="0" width="1" height="13" fill="#404040"/><rect x="659" y="5" width="15" height="1" fill="#404040"/>
<rect x="683" y="0" width="1" height="15" fill="#a0a0a0"/><rect x="684" y="0" width="1" height="15" fill="#ffffff"/>
<rect x="700" y="0" width="1" height="12" fill="#404040"/>
<rect x="723" y="5" width="12" height="1" fill="#404040"/>
<line x1="751" y1="12" x2="764" y2="0" stroke="#404040" stroke-width="1"/>
<line x1="777" y1="11" x2="787" y2="1" stroke="#404040" stroke-width="1"/>
<line x1="780" y1="11" x2="790" y2="1" stroke="#404040" stroke-width="1"/>
<line x1="783" y1="11" x2="793" y2="1" stroke="#404040" stroke-width="1"/>
<line x1="777" y1="6" x2="789" y2="6" stroke="#404040" stroke-width="1" stroke-dasharray="1 1"/>
<text x="787" y="14" font-family="Liberation Sans" font-size="6" font-weight="bold" fill="#303030">E</text>
<rect x="806" y="1" width="13" height="1" fill="#505050" stroke-dasharray="1"/>
<rect x="806" y="5" width="13" height="1" fill="#505050" stroke-dasharray="1"/>
<rect x="806" y="9" width="13" height="1" fill="#505050" stroke-dasharray="1"/>
<text x="817" y="14" font-family="Liberation Sans" font-size="6" font-weight="bold" fill="#303030">F</text>
<text x="836" y="10" font-family="Liberation Sans" font-size="11" font-weight="bold" fill="#505050">A</text>
<rect x="863.5" y="1.5" width="11" height="10" fill="none" stroke="#606060" stroke-dasharray="1 1"/>
<text x="865" y="10" font-family="Liberation Sans" font-size="10" font-weight="bold" fill="#404040">T</text>
<polygon points="893,-1 896,2 893,5 890,2" fill="#303030"/><path d="M891,5 L894,8 L899,2" stroke="#303030" fill="none" stroke-width="1.3"/><polygon points="900,6 904,9 900,12 896,9" fill="#303030"/>
<polygon points="913,4 918,4 915.5,7" fill="#000"/>
<rect x="922" y="0" width="1" height="15" fill="#a0a0a0"/><rect x="923" y="0" width="1" height="15" fill="#ffffff"/>
<rect x="926" y="1" width="3" height="1" fill="#b0b0b0"/>
<rect x="926" y="3" width="3" height="1" fill="#b0b0b0"/>
<rect x="926" y="5" width="3" height="1" fill="#b0b0b0"/>
<rect x="926" y="7" width="3" height="1" fill="#b0b0b0"/>
<rect x="926" y="9" width="3" height="1" fill="#b0b0b0"/>
<rect x="926" y="11" width="3" height="1" fill="#b0b0b0"/>
<rect x="926" y="13" width="3" height="1" fill="#b0b0b0"/>
<text x="937" y="9.5" font-family="Liberation Sans" font-size="9" fill="#404040">M1</text>
<text x="965" y="9.5" font-family="Liberation Sans" font-size="9" fill="#404040">M5</text>
<text x="991" y="9.5" font-family="Liberation Sans" font-size="9" fill="#404040">M15</text>
<text x="1019" y="9.5" font-family="Liberation Sans" font-size="9" fill="#404040">M30</text>
<text x="1050" y="9.5" font-family="Liberation Sans" font-size="9" fill="#404040">H1</text>
<rect x="1072" y="0" width="1" height="15" fill="#a0a0a0"/><rect x="1073" y="0" width="1" height="15" fill="#ffffff"/>
<rect x="1074" y="0" width="23" height="15" fill="#e4e4e4"/>
<text x="1077" y="9.5" font-family="Liberation Sans" font-size="9" fill="#404040">H4</text>
<text x="1106" y="9.5" font-family="Liberation Sans" font-size="9" fill="#404040">D1</text>
<text x="1134" y="9.5" font-family="Liberation Sans" font-size="9" fill="#404040">W1</text>
<text x="1160" y="9.5" font-family="Liberation Sans" font-size="9" fill="#404040">MN</text>
<rect x="1183" y="0" width="1" height="15" fill="#a0a0a0"/><rect x="1184" y="0" width="1" height="15" fill="#ffffff"/>
<circle cx="1653" cy="1" r="3" fill="none" stroke="#2050c0" stroke-width="1.3"/><line x1="1651" y1="4" x2="1646" y2="9.5" stroke="#2050c0" stroke-width="2"/>
<ellipse cx="1677" cy="7" rx="5" ry="4" fill="#e8e8f0" stroke="#a0a0a0"/><polygon points="1673,10 1676,10 1673,13" fill="#909090"/>
<circle cx="1684" cy="2" r="8" fill="#e03818"/><rect x="1683" y="-2" width="1.3" height="7" fill="#fff"/><rect x="1681" y="5" width="5" height="1" fill="#fff"/>
<defs><linearGradient id="gtab" x1="0" y1="0" x2="0" y2="1"><stop offset="0" stop-color="#ff5656"/><stop offset="1" stop-color="#dc2626"/></linearGradient><linearGradient id="gbig" x1="0" y1="0" x2="0" y2="1"><stop offset="0" stop-color="#e02c2c"/><stop offset="1" stop-color="#b00606"/></linearGradient><linearGradient id="gbtn" x1="0" y1="0" x2="0" y2="1"><stop offset="0" stop-color="#f2f2f2"/><stop offset="0.45" stop-color="#ececec"/><stop offset="0.5" stop-color="#d8d8d8"/><stop offset="1" stop-color="#d2d2d2"/></linearGradient></defs>
<rect x="47" y="41" width="115" height="24" fill="#ffffff"/>
<rect x="0" y="41" width="47" height="25" fill="#b40000"/>
<rect x="0" y="42" width="46" height="23" fill="url(#gtab)"/>
<rect x="0" y="64" width="43" height="1" fill="#7a0000"/><rect x="0" y="65" width="43" height="1" fill="#f06060"/>
<rect x="162" y="41" width="52" height="25" fill="#b40000"/>
<rect x="163" y="42" width="50" height="23" fill="url(#gtab)"/>
<rect x="166" y="64" width="44" height="1" fill="#7a0000"/><rect x="166" y="65" width="44" height="1" fill="#f06060"/>
<rect x="0" y="65" width="105" height="33" fill="#c00000"/>
<rect x="0" y="66" width="104" height="32" fill="url(#gbig)"/>
<rect x="0" y="64" width="43" height="1" fill="#7a0000"/><rect x="0" y="65" width="43" height="1" fill="#f06060"/>
<rect x="105" y="65" width="2" height="33" fill="#ffffff"/>
<rect x="106" y="65" width="108" height="33" fill="#c00000"/>
<rect x="107" y="66" width="106" height="32" fill="url(#gbig)"/>
<rect x="166" y="64" width="44" height="1" fill="#7a0000"/><rect x="166" y="65" width="44" height="1" fill="#f06060"/>
<rect x="49.5" y="41.5" width="110" height="21" fill="#ffffff" stroke="#a6aab2" stroke-width="1"/>
<rect x="51" y="43" width="18" height="18" fill="url(#gbtn)"/>
<rect x="70" y="42" width="1" height="20" fill="#a6aab2"/>
<rect x="139" y="42" width="1" height="20" fill="#a6aab2"/>
<rect x="141" y="43" width="17" height="18" fill="url(#gbtn)"/>
<polygon points="57,49.5 62.5,49.5 59.75,52.5" fill="#4a64c0"/>
<polygon points="146.5,53 152,53 149.25,50" fill="#4a64c0"/>
<text x="135" y="56" text-anchor="end" font-family="Liberation Sans" font-size="12" fill="#000">1.00</text>
<text x="7" y="57" font-family="Liberation Sans" font-size="12" letter-spacing="-0.7" fill="#ffffff">SELL</text>
<text x="176" y="57" font-family="Liberation Sans" font-size="12" fill="#ffffff">BUY</text>
<text x="15" y="92.5" font-family="Liberation Sans" font-size="11" font-weight="bold" fill="#ffffff" letter-spacing="-0.3">1.07</text>
<text x="125.5" y="92.5" font-family="Liberation Sans" font-size="11" font-weight="bold" fill="#ffffff" letter-spacing="-0.3">1.07</text>
<text x="0" y="0" font-family="Liberation Sans" font-size="33" fill="#ffffff" transform="translate(43,92.7) scale(0.93,1)" letter-spacing="-1">15</text>
<text x="0" y="0" font-family="Liberation Sans" font-size="33" fill="#ffffff" transform="translate(153.5,92.7) scale(0.93,1)" letter-spacing="-1">17</text>
<text x="81.5" y="76.8" font-family="Liberation Sans" font-size="10.5" font-weight="bold" fill="#ffffff">0</text>
<text x="192.5" y="76.8" font-family="Liberation Sans" font-size="10.5" font-weight="bold" fill="#ffffff">9</text>
<polygon points="0,29 1,29 2,30 2,31 0,31" fill="#000"/>
</svg>
</body></html>
